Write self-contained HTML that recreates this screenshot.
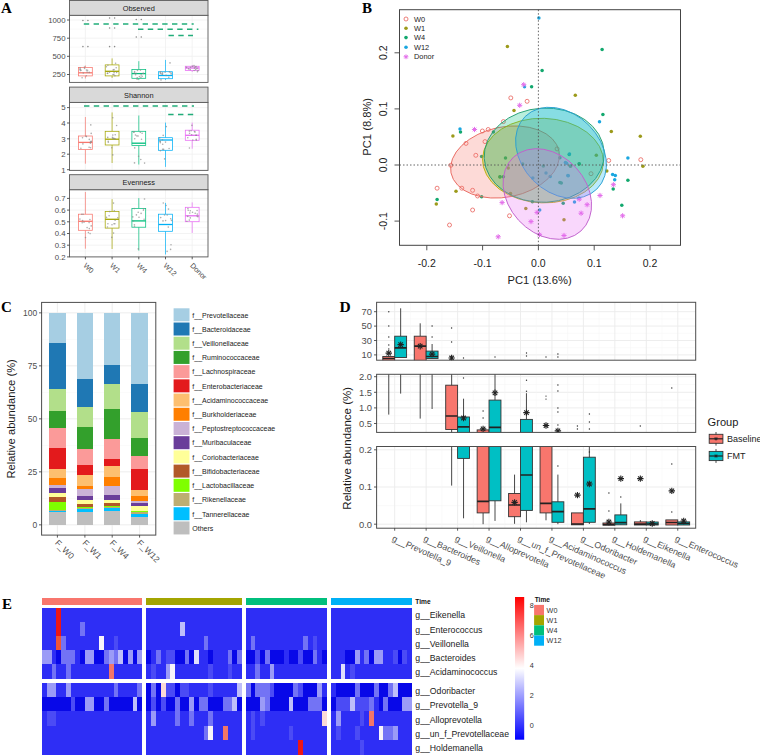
<!DOCTYPE html>
<html><head><meta charset="utf-8"><title>Figure</title>
<style>html,body{margin:0;padding:0;background:#fff;} svg{display:block;}</style>
</head><body>
<svg width="760" height="756" viewBox="0 0 760 756">
<rect x="0" y="0" width="760" height="756" fill="#ffffff"/>
<text x="1.00" y="12.60" font-size="15" fill="#000" text-anchor="start" font-weight="bold" font-family='"Liberation Serif", serif'>A</text>
<text x="362.00" y="12.60" font-size="15" fill="#000" text-anchor="start" font-weight="bold" font-family='"Liberation Serif", serif'>B</text>
<text x="1.00" y="312.00" font-size="15" fill="#000" text-anchor="start" font-weight="bold" font-family='"Liberation Serif", serif'>C</text>
<text x="339.50" y="312.00" font-size="15.5" fill="#000" text-anchor="start" font-weight="bold" font-family='"Liberation Serif", serif'>D</text>
<text x="2.00" y="608.60" font-size="15" fill="#000" text-anchor="start" font-weight="bold" font-family='"Liberation Serif", serif'>E</text>
<rect x="69.50" y="15.30" width="138.50" height="67.10" fill="#ffffff" stroke="none" stroke-width="1"/>
<line x1="69.50" y1="47.20" x2="208.00" y2="47.20" stroke="#f2f2f2" stroke-width="0.5"/>
<line x1="69.50" y1="29.10" x2="208.00" y2="29.10" stroke="#f2f2f2" stroke-width="0.5"/>
<line x1="69.50" y1="65.40" x2="208.00" y2="65.40" stroke="#f2f2f2" stroke-width="0.5"/>
<line x1="69.50" y1="74.50" x2="208.00" y2="74.50" stroke="#f0f0f0" stroke-width="0.8"/>
<line x1="69.50" y1="56.30" x2="208.00" y2="56.30" stroke="#f0f0f0" stroke-width="0.8"/>
<line x1="69.50" y1="38.20" x2="208.00" y2="38.20" stroke="#f0f0f0" stroke-width="0.8"/>
<line x1="69.50" y1="20.00" x2="208.00" y2="20.00" stroke="#f0f0f0" stroke-width="0.8"/>
<line x1="85.40" y1="15.30" x2="85.40" y2="82.40" stroke="#f0f0f0" stroke-width="0.8"/>
<line x1="112.10" y1="15.30" x2="112.10" y2="82.40" stroke="#f0f0f0" stroke-width="0.8"/>
<line x1="138.80" y1="15.30" x2="138.80" y2="82.40" stroke="#f0f0f0" stroke-width="0.8"/>
<line x1="165.50" y1="15.30" x2="165.50" y2="82.40" stroke="#f0f0f0" stroke-width="0.8"/>
<line x1="192.20" y1="15.30" x2="192.20" y2="82.40" stroke="#f0f0f0" stroke-width="0.8"/>
<line x1="85.40" y1="65.50" x2="85.40" y2="67.60" stroke="#F8766D" stroke-width="0.7"/>
<line x1="85.40" y1="75.90" x2="85.40" y2="78.50" stroke="#F8766D" stroke-width="0.7"/>
<rect x="78.50" y="67.60" width="13.80" height="8.30" fill="#ffffff" stroke="#F8766D" stroke-width="0.75"/>
<line x1="78.50" y1="72.80" x2="92.30" y2="72.80" stroke="#F8766D" stroke-width="1.3"/>
<circle cx="83.3" cy="73.0" r="0.8" fill="#8a8a8a" opacity="0.7"/>
<circle cx="80.3" cy="70.6" r="0.8" fill="#8a8a8a" opacity="0.7"/>
<circle cx="80.1" cy="67.9" r="0.8" fill="#8a8a8a" opacity="0.7"/>
<circle cx="84.6" cy="68.4" r="0.8" fill="#8a8a8a" opacity="0.7"/>
<circle cx="84.5" cy="67.1" r="0.8" fill="#8a8a8a" opacity="0.7"/>
<circle cx="82.1" cy="77.8" r="0.8" fill="#8a8a8a" opacity="0.7"/>
<circle cx="86.3" cy="75.7" r="0.8" fill="#8a8a8a" opacity="0.7"/>
<circle cx="80.0" cy="69.3" r="0.8" fill="#8a8a8a" opacity="0.7"/>
<circle cx="81.1" cy="70.2" r="0.8" fill="#8a8a8a" opacity="0.7"/>
<circle cx="89.2" cy="72.4" r="0.8" fill="#8a8a8a" opacity="0.7"/>
<circle cx="87.1" cy="72.1" r="0.8" fill="#8a8a8a" opacity="0.7"/>
<circle cx="80.2" cy="69.3" r="0.8" fill="#8a8a8a" opacity="0.7"/>
<circle cx="87.6" cy="70.2" r="0.8" fill="#8a8a8a" opacity="0.7"/>
<circle cx="86.4" cy="70.1" r="0.8" fill="#8a8a8a" opacity="0.7"/>
<line x1="112.10" y1="58.40" x2="112.10" y2="64.90" stroke="#A3A500" stroke-width="0.7"/>
<line x1="112.10" y1="75.90" x2="112.10" y2="78.00" stroke="#A3A500" stroke-width="0.7"/>
<rect x="105.20" y="64.90" width="13.80" height="11.00" fill="#ffffff" stroke="#A3A500" stroke-width="0.75"/>
<line x1="105.20" y1="71.30" x2="119.00" y2="71.30" stroke="#A3A500" stroke-width="1.3"/>
<circle cx="115.6" cy="63.2" r="0.8" fill="#8a8a8a" opacity="0.7"/>
<circle cx="113.0" cy="74.5" r="0.8" fill="#8a8a8a" opacity="0.7"/>
<circle cx="114.9" cy="75.7" r="0.8" fill="#8a8a8a" opacity="0.7"/>
<circle cx="107.5" cy="73.2" r="0.8" fill="#8a8a8a" opacity="0.7"/>
<circle cx="107.9" cy="65.3" r="0.8" fill="#8a8a8a" opacity="0.7"/>
<circle cx="114.1" cy="69.6" r="0.8" fill="#8a8a8a" opacity="0.7"/>
<circle cx="116.6" cy="72.5" r="0.8" fill="#8a8a8a" opacity="0.7"/>
<circle cx="113.2" cy="69.9" r="0.8" fill="#8a8a8a" opacity="0.7"/>
<circle cx="116.2" cy="67.7" r="0.8" fill="#8a8a8a" opacity="0.7"/>
<circle cx="114.1" cy="72.6" r="0.8" fill="#8a8a8a" opacity="0.7"/>
<circle cx="113.9" cy="74.5" r="0.8" fill="#8a8a8a" opacity="0.7"/>
<circle cx="109.5" cy="72.3" r="0.8" fill="#8a8a8a" opacity="0.7"/>
<circle cx="106.4" cy="66.7" r="0.8" fill="#8a8a8a" opacity="0.7"/>
<circle cx="107.5" cy="73.4" r="0.8" fill="#8a8a8a" opacity="0.7"/>
<line x1="138.80" y1="61.20" x2="138.80" y2="69.50" stroke="#00BF7D" stroke-width="0.7"/>
<line x1="138.80" y1="78.30" x2="138.80" y2="80.00" stroke="#00BF7D" stroke-width="0.7"/>
<rect x="131.90" y="69.50" width="13.80" height="8.80" fill="#ffffff" stroke="#00BF7D" stroke-width="0.75"/>
<line x1="131.90" y1="73.60" x2="145.70" y2="73.60" stroke="#00BF7D" stroke-width="1.3"/>
<circle cx="134.4" cy="72.9" r="0.8" fill="#8a8a8a" opacity="0.7"/>
<circle cx="143.3" cy="73.5" r="0.8" fill="#8a8a8a" opacity="0.7"/>
<circle cx="139.4" cy="76.6" r="0.8" fill="#8a8a8a" opacity="0.7"/>
<circle cx="143.2" cy="73.2" r="0.8" fill="#8a8a8a" opacity="0.7"/>
<circle cx="137.1" cy="79.2" r="0.8" fill="#8a8a8a" opacity="0.7"/>
<circle cx="134.6" cy="71.5" r="0.8" fill="#8a8a8a" opacity="0.7"/>
<circle cx="135.6" cy="74.7" r="0.8" fill="#8a8a8a" opacity="0.7"/>
<circle cx="136.0" cy="73.2" r="0.8" fill="#8a8a8a" opacity="0.7"/>
<circle cx="137.2" cy="77.9" r="0.8" fill="#8a8a8a" opacity="0.7"/>
<circle cx="141.1" cy="74.9" r="0.8" fill="#8a8a8a" opacity="0.7"/>
<circle cx="140.9" cy="77.4" r="0.8" fill="#8a8a8a" opacity="0.7"/>
<circle cx="142.2" cy="76.2" r="0.8" fill="#8a8a8a" opacity="0.7"/>
<circle cx="137.5" cy="70.4" r="0.8" fill="#8a8a8a" opacity="0.7"/>
<circle cx="140.4" cy="70.1" r="0.8" fill="#8a8a8a" opacity="0.7"/>
<line x1="165.50" y1="59.90" x2="165.50" y2="71.70" stroke="#00B0F6" stroke-width="0.7"/>
<line x1="165.50" y1="78.70" x2="165.50" y2="80.00" stroke="#00B0F6" stroke-width="0.7"/>
<rect x="158.60" y="71.70" width="13.80" height="7.00" fill="#ffffff" stroke="#00B0F6" stroke-width="0.75"/>
<line x1="158.60" y1="75.50" x2="172.40" y2="75.50" stroke="#00B0F6" stroke-width="1.3"/>
<circle cx="162.0" cy="74.1" r="0.8" fill="#8a8a8a" opacity="0.7"/>
<circle cx="160.1" cy="72.8" r="0.8" fill="#8a8a8a" opacity="0.7"/>
<circle cx="160.7" cy="71.9" r="0.8" fill="#8a8a8a" opacity="0.7"/>
<circle cx="170.0" cy="62.9" r="0.8" fill="#8a8a8a" opacity="0.7"/>
<circle cx="162.5" cy="74.2" r="0.8" fill="#8a8a8a" opacity="0.7"/>
<circle cx="161.0" cy="79.9" r="0.8" fill="#8a8a8a" opacity="0.7"/>
<circle cx="165.1" cy="72.3" r="0.8" fill="#8a8a8a" opacity="0.7"/>
<circle cx="160.7" cy="73.6" r="0.8" fill="#8a8a8a" opacity="0.7"/>
<circle cx="169.4" cy="71.9" r="0.8" fill="#8a8a8a" opacity="0.7"/>
<circle cx="170.9" cy="72.7" r="0.8" fill="#8a8a8a" opacity="0.7"/>
<circle cx="166.0" cy="75.4" r="0.8" fill="#8a8a8a" opacity="0.7"/>
<circle cx="171.2" cy="73.9" r="0.8" fill="#8a8a8a" opacity="0.7"/>
<circle cx="162.6" cy="72.9" r="0.8" fill="#8a8a8a" opacity="0.7"/>
<circle cx="168.8" cy="77.2" r="0.8" fill="#8a8a8a" opacity="0.7"/>
<line x1="192.20" y1="65.00" x2="192.20" y2="66.30" stroke="#E76BF3" stroke-width="0.7"/>
<line x1="192.20" y1="70.40" x2="192.20" y2="72.00" stroke="#E76BF3" stroke-width="0.7"/>
<rect x="185.30" y="66.30" width="13.80" height="4.10" fill="#ffffff" stroke="#E76BF3" stroke-width="0.75"/>
<line x1="185.30" y1="68.00" x2="199.10" y2="68.00" stroke="#E76BF3" stroke-width="1.3"/>
<circle cx="190.2" cy="69.6" r="0.8" fill="#8a8a8a" opacity="0.7"/>
<circle cx="198.0" cy="70.6" r="0.8" fill="#8a8a8a" opacity="0.7"/>
<circle cx="196.0" cy="66.6" r="0.8" fill="#8a8a8a" opacity="0.7"/>
<circle cx="192.4" cy="66.4" r="0.8" fill="#8a8a8a" opacity="0.7"/>
<circle cx="186.5" cy="67.4" r="0.8" fill="#8a8a8a" opacity="0.7"/>
<circle cx="194.5" cy="68.1" r="0.8" fill="#8a8a8a" opacity="0.7"/>
<circle cx="197.4" cy="71.7" r="0.8" fill="#8a8a8a" opacity="0.7"/>
<circle cx="190.6" cy="67.2" r="0.8" fill="#8a8a8a" opacity="0.7"/>
<circle cx="188.6" cy="68.9" r="0.8" fill="#8a8a8a" opacity="0.7"/>
<circle cx="197.0" cy="68.4" r="0.8" fill="#8a8a8a" opacity="0.7"/>
<circle cx="194.0" cy="65.6" r="0.8" fill="#8a8a8a" opacity="0.7"/>
<circle cx="194.1" cy="70.5" r="0.8" fill="#8a8a8a" opacity="0.7"/>
<circle cx="195.2" cy="67.0" r="0.8" fill="#8a8a8a" opacity="0.7"/>
<circle cx="195.7" cy="69.6" r="0.8" fill="#8a8a8a" opacity="0.7"/>
<circle cx="82.9" cy="20.5" r="0.8" fill="#8a8a8a"/>
<circle cx="87.9" cy="20.5" r="0.8" fill="#8a8a8a"/>
<circle cx="82.9" cy="46.6" r="0.8" fill="#8a8a8a"/>
<circle cx="87.9" cy="46.6" r="0.8" fill="#8a8a8a"/>
<circle cx="109.6" cy="18.0" r="0.8" fill="#8a8a8a"/>
<circle cx="114.6" cy="18.0" r="0.8" fill="#8a8a8a"/>
<circle cx="109.6" cy="28.0" r="0.8" fill="#8a8a8a"/>
<circle cx="114.6" cy="28.0" r="0.8" fill="#8a8a8a"/>
<circle cx="109.6" cy="46.6" r="0.8" fill="#8a8a8a"/>
<circle cx="114.6" cy="46.6" r="0.8" fill="#8a8a8a"/>
<circle cx="136.3" cy="19.5" r="0.8" fill="#8a8a8a"/>
<circle cx="141.3" cy="19.5" r="0.8" fill="#8a8a8a"/>
<circle cx="136.3" cy="37.0" r="0.8" fill="#8a8a8a"/>
<circle cx="141.3" cy="37.0" r="0.8" fill="#8a8a8a"/>
<line x1="83.80" y1="24.00" x2="193.70" y2="24.00" stroke="#22ad7a" stroke-width="1.45" stroke-dasharray="5.4 4.4"/>
<line x1="138.00" y1="29.30" x2="198.40" y2="29.30" stroke="#22ad7a" stroke-width="1.45" stroke-dasharray="5.4 4.4"/>
<line x1="168.50" y1="35.40" x2="193.00" y2="35.40" stroke="#22ad7a" stroke-width="1.45" stroke-dasharray="5.4 4.4"/>
<rect x="69.50" y="15.30" width="138.50" height="67.10" fill="none" stroke="#5a5a5a" stroke-width="0.9"/>
<rect x="69.50" y="0.50" width="138.50" height="14.80" fill="#d9d9d9" stroke="#5a5a5a" stroke-width="0.9"/>
<text x="138.75" y="10.70" font-size="7.4" fill="#1a1a1a" text-anchor="middle" font-weight="normal" font-family='"Liberation Sans", sans-serif'>Observed</text>
<line x1="67.00" y1="74.50" x2="69.50" y2="74.50" stroke="#333" stroke-width="0.8"/>
<text x="65.50" y="77.30" font-size="7.8" fill="#4d4d4d" text-anchor="end" font-weight="normal" font-family='"Liberation Sans", sans-serif'>250</text>
<line x1="67.00" y1="56.30" x2="69.50" y2="56.30" stroke="#333" stroke-width="0.8"/>
<text x="65.50" y="59.10" font-size="7.8" fill="#4d4d4d" text-anchor="end" font-weight="normal" font-family='"Liberation Sans", sans-serif'>500</text>
<line x1="67.00" y1="38.20" x2="69.50" y2="38.20" stroke="#333" stroke-width="0.8"/>
<text x="65.50" y="41.00" font-size="7.8" fill="#4d4d4d" text-anchor="end" font-weight="normal" font-family='"Liberation Sans", sans-serif'>750</text>
<line x1="67.00" y1="20.00" x2="69.50" y2="20.00" stroke="#333" stroke-width="0.8"/>
<text x="65.50" y="22.80" font-size="7.8" fill="#4d4d4d" text-anchor="end" font-weight="normal" font-family='"Liberation Sans", sans-serif'>1000</text>
<rect x="69.50" y="102.40" width="138.50" height="68.00" fill="#ffffff" stroke="none" stroke-width="1"/>
<line x1="69.50" y1="161.90" x2="208.00" y2="161.90" stroke="#f2f2f2" stroke-width="0.5"/>
<line x1="69.50" y1="146.50" x2="208.00" y2="146.50" stroke="#f2f2f2" stroke-width="0.5"/>
<line x1="69.50" y1="130.90" x2="208.00" y2="130.90" stroke="#f2f2f2" stroke-width="0.5"/>
<line x1="69.50" y1="115.30" x2="208.00" y2="115.30" stroke="#f2f2f2" stroke-width="0.5"/>
<line x1="69.50" y1="169.70" x2="208.00" y2="169.70" stroke="#f0f0f0" stroke-width="0.8"/>
<line x1="69.50" y1="154.20" x2="208.00" y2="154.20" stroke="#f0f0f0" stroke-width="0.8"/>
<line x1="69.50" y1="138.80" x2="208.00" y2="138.80" stroke="#f0f0f0" stroke-width="0.8"/>
<line x1="69.50" y1="123.00" x2="208.00" y2="123.00" stroke="#f0f0f0" stroke-width="0.8"/>
<line x1="69.50" y1="107.60" x2="208.00" y2="107.60" stroke="#f0f0f0" stroke-width="0.8"/>
<line x1="85.40" y1="102.40" x2="85.40" y2="170.40" stroke="#f0f0f0" stroke-width="0.8"/>
<line x1="112.10" y1="102.40" x2="112.10" y2="170.40" stroke="#f0f0f0" stroke-width="0.8"/>
<line x1="138.80" y1="102.40" x2="138.80" y2="170.40" stroke="#f0f0f0" stroke-width="0.8"/>
<line x1="165.50" y1="102.40" x2="165.50" y2="170.40" stroke="#f0f0f0" stroke-width="0.8"/>
<line x1="192.20" y1="102.40" x2="192.20" y2="170.40" stroke="#f0f0f0" stroke-width="0.8"/>
<line x1="85.40" y1="117.00" x2="85.40" y2="136.00" stroke="#F8766D" stroke-width="0.7"/>
<line x1="85.40" y1="149.50" x2="85.40" y2="163.70" stroke="#F8766D" stroke-width="0.7"/>
<rect x="78.50" y="136.00" width="13.80" height="13.50" fill="#ffffff" stroke="#F8766D" stroke-width="0.75"/>
<line x1="78.50" y1="142.40" x2="92.30" y2="142.40" stroke="#F8766D" stroke-width="1.3"/>
<circle cx="91.1" cy="141.4" r="0.8" fill="#8a8a8a" opacity="0.7"/>
<circle cx="90.8" cy="124.9" r="0.8" fill="#8a8a8a" opacity="0.7"/>
<circle cx="80.9" cy="148.2" r="0.8" fill="#8a8a8a" opacity="0.7"/>
<circle cx="89.1" cy="147.2" r="0.8" fill="#8a8a8a" opacity="0.7"/>
<circle cx="91.2" cy="133.4" r="0.8" fill="#8a8a8a" opacity="0.7"/>
<circle cx="86.0" cy="136.2" r="0.8" fill="#8a8a8a" opacity="0.7"/>
<circle cx="91.1" cy="141.6" r="0.8" fill="#8a8a8a" opacity="0.7"/>
<circle cx="90.6" cy="147.8" r="0.8" fill="#8a8a8a" opacity="0.7"/>
<circle cx="89.3" cy="139.4" r="0.8" fill="#8a8a8a" opacity="0.7"/>
<circle cx="82.9" cy="143.9" r="0.8" fill="#8a8a8a" opacity="0.7"/>
<circle cx="82.5" cy="137.8" r="0.8" fill="#8a8a8a" opacity="0.7"/>
<circle cx="90.3" cy="142.2" r="0.8" fill="#8a8a8a" opacity="0.7"/>
<circle cx="86.4" cy="136.6" r="0.8" fill="#8a8a8a" opacity="0.7"/>
<circle cx="90.4" cy="143.2" r="0.8" fill="#8a8a8a" opacity="0.7"/>
<line x1="112.10" y1="112.40" x2="112.10" y2="131.30" stroke="#A3A500" stroke-width="0.7"/>
<line x1="112.10" y1="145.00" x2="112.10" y2="163.00" stroke="#A3A500" stroke-width="0.7"/>
<rect x="105.20" y="131.30" width="13.80" height="13.70" fill="#ffffff" stroke="#A3A500" stroke-width="0.75"/>
<line x1="105.20" y1="139.20" x2="119.00" y2="139.20" stroke="#A3A500" stroke-width="1.3"/>
<circle cx="112.4" cy="137.3" r="0.8" fill="#8a8a8a" opacity="0.7"/>
<circle cx="108.3" cy="142.2" r="0.8" fill="#8a8a8a" opacity="0.7"/>
<circle cx="108.2" cy="141.2" r="0.8" fill="#8a8a8a" opacity="0.7"/>
<circle cx="112.8" cy="138.4" r="0.8" fill="#8a8a8a" opacity="0.7"/>
<circle cx="112.8" cy="117.8" r="0.8" fill="#8a8a8a" opacity="0.7"/>
<circle cx="112.8" cy="135.1" r="0.8" fill="#8a8a8a" opacity="0.7"/>
<circle cx="115.4" cy="139.0" r="0.8" fill="#8a8a8a" opacity="0.7"/>
<circle cx="115.2" cy="134.8" r="0.8" fill="#8a8a8a" opacity="0.7"/>
<circle cx="113.5" cy="138.3" r="0.8" fill="#8a8a8a" opacity="0.7"/>
<circle cx="114.4" cy="138.6" r="0.8" fill="#8a8a8a" opacity="0.7"/>
<circle cx="111.8" cy="147.8" r="0.8" fill="#8a8a8a" opacity="0.7"/>
<circle cx="116.6" cy="125.5" r="0.8" fill="#8a8a8a" opacity="0.7"/>
<circle cx="112.8" cy="154.9" r="0.8" fill="#8a8a8a" opacity="0.7"/>
<circle cx="107.7" cy="137.4" r="0.8" fill="#8a8a8a" opacity="0.7"/>
<line x1="138.80" y1="115.50" x2="138.80" y2="131.30" stroke="#00BF7D" stroke-width="0.7"/>
<line x1="138.80" y1="145.60" x2="138.80" y2="164.50" stroke="#00BF7D" stroke-width="0.7"/>
<rect x="131.90" y="131.30" width="13.80" height="14.30" fill="#ffffff" stroke="#00BF7D" stroke-width="0.75"/>
<line x1="131.90" y1="143.20" x2="145.70" y2="143.20" stroke="#00BF7D" stroke-width="1.3"/>
<circle cx="133.7" cy="132.3" r="0.8" fill="#8a8a8a" opacity="0.7"/>
<circle cx="140.8" cy="159.5" r="0.8" fill="#8a8a8a" opacity="0.7"/>
<circle cx="134.7" cy="147.9" r="0.8" fill="#8a8a8a" opacity="0.7"/>
<circle cx="134.5" cy="162.9" r="0.8" fill="#8a8a8a" opacity="0.7"/>
<circle cx="135.4" cy="135.0" r="0.8" fill="#8a8a8a" opacity="0.7"/>
<circle cx="138.6" cy="156.3" r="0.8" fill="#8a8a8a" opacity="0.7"/>
<circle cx="134.7" cy="138.7" r="0.8" fill="#8a8a8a" opacity="0.7"/>
<circle cx="136.9" cy="135.9" r="0.8" fill="#8a8a8a" opacity="0.7"/>
<circle cx="141.5" cy="139.2" r="0.8" fill="#8a8a8a" opacity="0.7"/>
<circle cx="138.1" cy="136.0" r="0.8" fill="#8a8a8a" opacity="0.7"/>
<circle cx="140.3" cy="132.2" r="0.8" fill="#8a8a8a" opacity="0.7"/>
<circle cx="144.6" cy="163.1" r="0.8" fill="#8a8a8a" opacity="0.7"/>
<circle cx="134.1" cy="131.9" r="0.8" fill="#8a8a8a" opacity="0.7"/>
<circle cx="142.1" cy="133.2" r="0.8" fill="#8a8a8a" opacity="0.7"/>
<line x1="165.50" y1="122.60" x2="165.50" y2="137.70" stroke="#00B0F6" stroke-width="0.7"/>
<line x1="165.50" y1="150.30" x2="165.50" y2="166.90" stroke="#00B0F6" stroke-width="0.7"/>
<rect x="158.60" y="137.70" width="13.80" height="12.60" fill="#ffffff" stroke="#00B0F6" stroke-width="0.75"/>
<line x1="158.60" y1="140.00" x2="172.40" y2="140.00" stroke="#00B0F6" stroke-width="1.3"/>
<circle cx="164.6" cy="158.9" r="0.8" fill="#8a8a8a" opacity="0.7"/>
<circle cx="162.6" cy="149.3" r="0.8" fill="#8a8a8a" opacity="0.7"/>
<circle cx="166.3" cy="126.6" r="0.8" fill="#8a8a8a" opacity="0.7"/>
<circle cx="160.2" cy="141.4" r="0.8" fill="#8a8a8a" opacity="0.7"/>
<circle cx="160.4" cy="150.7" r="0.8" fill="#8a8a8a" opacity="0.7"/>
<circle cx="169.1" cy="148.5" r="0.8" fill="#8a8a8a" opacity="0.7"/>
<circle cx="160.3" cy="142.7" r="0.8" fill="#8a8a8a" opacity="0.7"/>
<circle cx="163.6" cy="149.4" r="0.8" fill="#8a8a8a" opacity="0.7"/>
<circle cx="162.7" cy="144.3" r="0.8" fill="#8a8a8a" opacity="0.7"/>
<circle cx="162.4" cy="139.7" r="0.8" fill="#8a8a8a" opacity="0.7"/>
<circle cx="160.1" cy="141.6" r="0.8" fill="#8a8a8a" opacity="0.7"/>
<circle cx="163.2" cy="135.4" r="0.8" fill="#8a8a8a" opacity="0.7"/>
<circle cx="165.5" cy="142.1" r="0.8" fill="#8a8a8a" opacity="0.7"/>
<circle cx="159.7" cy="137.9" r="0.8" fill="#8a8a8a" opacity="0.7"/>
<line x1="192.20" y1="122.60" x2="192.20" y2="130.20" stroke="#E76BF3" stroke-width="0.7"/>
<line x1="192.20" y1="140.30" x2="192.20" y2="148.70" stroke="#E76BF3" stroke-width="0.7"/>
<rect x="185.30" y="130.20" width="13.80" height="10.10" fill="#ffffff" stroke="#E76BF3" stroke-width="0.75"/>
<line x1="185.30" y1="135.30" x2="199.10" y2="135.30" stroke="#E76BF3" stroke-width="1.3"/>
<circle cx="195.0" cy="132.1" r="0.8" fill="#8a8a8a" opacity="0.7"/>
<circle cx="191.9" cy="125.4" r="0.8" fill="#8a8a8a" opacity="0.7"/>
<circle cx="196.0" cy="135.2" r="0.8" fill="#8a8a8a" opacity="0.7"/>
<circle cx="196.2" cy="135.3" r="0.8" fill="#8a8a8a" opacity="0.7"/>
<circle cx="194.5" cy="131.5" r="0.8" fill="#8a8a8a" opacity="0.7"/>
<circle cx="196.2" cy="139.2" r="0.8" fill="#8a8a8a" opacity="0.7"/>
<circle cx="191.1" cy="130.7" r="0.8" fill="#8a8a8a" opacity="0.7"/>
<circle cx="187.8" cy="137.7" r="0.8" fill="#8a8a8a" opacity="0.7"/>
<circle cx="189.3" cy="131.1" r="0.8" fill="#8a8a8a" opacity="0.7"/>
<circle cx="196.3" cy="140.1" r="0.8" fill="#8a8a8a" opacity="0.7"/>
<circle cx="189.6" cy="133.2" r="0.8" fill="#8a8a8a" opacity="0.7"/>
<circle cx="191.7" cy="134.7" r="0.8" fill="#8a8a8a" opacity="0.7"/>
<circle cx="189.4" cy="148.0" r="0.8" fill="#8a8a8a" opacity="0.7"/>
<circle cx="192.8" cy="140.0" r="0.8" fill="#8a8a8a" opacity="0.7"/>
<line x1="84.00" y1="106.00" x2="194.00" y2="106.00" stroke="#22ad7a" stroke-width="1.45" stroke-dasharray="5.4 4.4"/>
<line x1="168.20" y1="114.40" x2="193.50" y2="114.40" stroke="#22ad7a" stroke-width="1.45" stroke-dasharray="5.4 4.4"/>
<rect x="69.50" y="102.40" width="138.50" height="68.00" fill="none" stroke="#5a5a5a" stroke-width="0.9"/>
<rect x="69.50" y="87.10" width="138.50" height="15.30" fill="#d9d9d9" stroke="#5a5a5a" stroke-width="0.9"/>
<text x="138.75" y="97.55" font-size="7.4" fill="#1a1a1a" text-anchor="middle" font-weight="normal" font-family='"Liberation Sans", sans-serif'>Shannon</text>
<line x1="67.00" y1="169.70" x2="69.50" y2="169.70" stroke="#333" stroke-width="0.8"/>
<text x="65.50" y="172.50" font-size="7.8" fill="#4d4d4d" text-anchor="end" font-weight="normal" font-family='"Liberation Sans", sans-serif'>1</text>
<line x1="67.00" y1="154.20" x2="69.50" y2="154.20" stroke="#333" stroke-width="0.8"/>
<text x="65.50" y="157.00" font-size="7.8" fill="#4d4d4d" text-anchor="end" font-weight="normal" font-family='"Liberation Sans", sans-serif'>2</text>
<line x1="67.00" y1="138.80" x2="69.50" y2="138.80" stroke="#333" stroke-width="0.8"/>
<text x="65.50" y="141.60" font-size="7.8" fill="#4d4d4d" text-anchor="end" font-weight="normal" font-family='"Liberation Sans", sans-serif'>3</text>
<line x1="67.00" y1="123.00" x2="69.50" y2="123.00" stroke="#333" stroke-width="0.8"/>
<text x="65.50" y="125.80" font-size="7.8" fill="#4d4d4d" text-anchor="end" font-weight="normal" font-family='"Liberation Sans", sans-serif'>4</text>
<line x1="67.00" y1="107.60" x2="69.50" y2="107.60" stroke="#333" stroke-width="0.8"/>
<text x="65.50" y="110.40" font-size="7.8" fill="#4d4d4d" text-anchor="end" font-weight="normal" font-family='"Liberation Sans", sans-serif'>5</text>
<rect x="69.50" y="189.70" width="138.50" height="67.20" fill="#ffffff" stroke="none" stroke-width="1"/>
<line x1="69.50" y1="251.00" x2="208.00" y2="251.00" stroke="#f2f2f2" stroke-width="0.5"/>
<line x1="69.50" y1="239.30" x2="208.00" y2="239.30" stroke="#f2f2f2" stroke-width="0.5"/>
<line x1="69.50" y1="227.60" x2="208.00" y2="227.60" stroke="#f2f2f2" stroke-width="0.5"/>
<line x1="69.50" y1="215.90" x2="208.00" y2="215.90" stroke="#f2f2f2" stroke-width="0.5"/>
<line x1="69.50" y1="204.20" x2="208.00" y2="204.20" stroke="#f2f2f2" stroke-width="0.5"/>
<line x1="69.50" y1="256.90" x2="208.00" y2="256.90" stroke="#f0f0f0" stroke-width="0.8"/>
<line x1="69.50" y1="245.20" x2="208.00" y2="245.20" stroke="#f0f0f0" stroke-width="0.8"/>
<line x1="69.50" y1="233.50" x2="208.00" y2="233.50" stroke="#f0f0f0" stroke-width="0.8"/>
<line x1="69.50" y1="221.80" x2="208.00" y2="221.80" stroke="#f0f0f0" stroke-width="0.8"/>
<line x1="69.50" y1="210.10" x2="208.00" y2="210.10" stroke="#f0f0f0" stroke-width="0.8"/>
<line x1="69.50" y1="198.40" x2="208.00" y2="198.40" stroke="#f0f0f0" stroke-width="0.8"/>
<line x1="85.40" y1="189.70" x2="85.40" y2="256.90" stroke="#f0f0f0" stroke-width="0.8"/>
<line x1="112.10" y1="189.70" x2="112.10" y2="256.90" stroke="#f0f0f0" stroke-width="0.8"/>
<line x1="138.80" y1="189.70" x2="138.80" y2="256.90" stroke="#f0f0f0" stroke-width="0.8"/>
<line x1="165.50" y1="189.70" x2="165.50" y2="256.90" stroke="#f0f0f0" stroke-width="0.8"/>
<line x1="192.20" y1="189.70" x2="192.20" y2="256.90" stroke="#f0f0f0" stroke-width="0.8"/>
<line x1="85.40" y1="192.00" x2="85.40" y2="214.20" stroke="#F8766D" stroke-width="0.7"/>
<line x1="85.40" y1="230.30" x2="85.40" y2="248.70" stroke="#F8766D" stroke-width="0.7"/>
<rect x="78.50" y="214.20" width="13.80" height="16.10" fill="#ffffff" stroke="#F8766D" stroke-width="0.75"/>
<line x1="78.50" y1="221.30" x2="92.30" y2="221.30" stroke="#F8766D" stroke-width="1.3"/>
<circle cx="83.1" cy="214.2" r="0.8" fill="#8a8a8a" opacity="0.7"/>
<circle cx="84.0" cy="222.3" r="0.8" fill="#8a8a8a" opacity="0.7"/>
<circle cx="81.8" cy="214.3" r="0.8" fill="#8a8a8a" opacity="0.7"/>
<circle cx="82.6" cy="220.6" r="0.8" fill="#8a8a8a" opacity="0.7"/>
<circle cx="79.9" cy="219.1" r="0.8" fill="#8a8a8a" opacity="0.7"/>
<circle cx="82.2" cy="222.7" r="0.8" fill="#8a8a8a" opacity="0.7"/>
<circle cx="88.4" cy="232.6" r="0.8" fill="#8a8a8a" opacity="0.7"/>
<circle cx="89.9" cy="219.5" r="0.8" fill="#8a8a8a" opacity="0.7"/>
<circle cx="91.2" cy="225.9" r="0.8" fill="#8a8a8a" opacity="0.7"/>
<circle cx="87.1" cy="227.6" r="0.8" fill="#8a8a8a" opacity="0.7"/>
<circle cx="90.1" cy="233.6" r="0.8" fill="#8a8a8a" opacity="0.7"/>
<circle cx="89.1" cy="222.6" r="0.8" fill="#8a8a8a" opacity="0.7"/>
<circle cx="85.5" cy="237.6" r="0.8" fill="#8a8a8a" opacity="0.7"/>
<circle cx="89.3" cy="228.6" r="0.8" fill="#8a8a8a" opacity="0.7"/>
<line x1="112.10" y1="199.20" x2="112.10" y2="211.40" stroke="#A3A500" stroke-width="0.7"/>
<line x1="112.10" y1="228.10" x2="112.10" y2="249.00" stroke="#A3A500" stroke-width="0.7"/>
<rect x="105.20" y="211.40" width="13.80" height="16.70" fill="#ffffff" stroke="#A3A500" stroke-width="0.75"/>
<line x1="105.20" y1="219.30" x2="119.00" y2="219.30" stroke="#A3A500" stroke-width="1.3"/>
<circle cx="114.3" cy="210.7" r="0.8" fill="#8a8a8a" opacity="0.7"/>
<circle cx="106.5" cy="217.4" r="0.8" fill="#8a8a8a" opacity="0.7"/>
<circle cx="107.4" cy="227.0" r="0.8" fill="#8a8a8a" opacity="0.7"/>
<circle cx="113.6" cy="233.1" r="0.8" fill="#8a8a8a" opacity="0.7"/>
<circle cx="112.0" cy="224.7" r="0.8" fill="#8a8a8a" opacity="0.7"/>
<circle cx="115.1" cy="220.3" r="0.8" fill="#8a8a8a" opacity="0.7"/>
<circle cx="114.0" cy="223.7" r="0.8" fill="#8a8a8a" opacity="0.7"/>
<circle cx="109.1" cy="215.8" r="0.8" fill="#8a8a8a" opacity="0.7"/>
<circle cx="114.9" cy="223.8" r="0.8" fill="#8a8a8a" opacity="0.7"/>
<circle cx="117.8" cy="217.8" r="0.8" fill="#8a8a8a" opacity="0.7"/>
<circle cx="111.8" cy="237.4" r="0.8" fill="#8a8a8a" opacity="0.7"/>
<circle cx="113.5" cy="203.1" r="0.8" fill="#8a8a8a" opacity="0.7"/>
<circle cx="107.9" cy="223.8" r="0.8" fill="#8a8a8a" opacity="0.7"/>
<circle cx="109.8" cy="211.6" r="0.8" fill="#8a8a8a" opacity="0.7"/>
<line x1="138.80" y1="198.10" x2="138.80" y2="208.40" stroke="#00BF7D" stroke-width="0.7"/>
<line x1="138.80" y1="227.20" x2="138.80" y2="250.60" stroke="#00BF7D" stroke-width="0.7"/>
<rect x="131.90" y="208.40" width="13.80" height="18.80" fill="#ffffff" stroke="#00BF7D" stroke-width="0.75"/>
<line x1="131.90" y1="220.90" x2="145.70" y2="220.90" stroke="#00BF7D" stroke-width="1.3"/>
<circle cx="133.5" cy="221.0" r="0.8" fill="#8a8a8a" opacity="0.7"/>
<circle cx="141.1" cy="213.4" r="0.8" fill="#8a8a8a" opacity="0.7"/>
<circle cx="139.0" cy="217.2" r="0.8" fill="#8a8a8a" opacity="0.7"/>
<circle cx="134.2" cy="208.6" r="0.8" fill="#8a8a8a" opacity="0.7"/>
<circle cx="144.5" cy="199.0" r="0.8" fill="#8a8a8a" opacity="0.7"/>
<circle cx="138.3" cy="248.9" r="0.8" fill="#8a8a8a" opacity="0.7"/>
<circle cx="138.2" cy="212.3" r="0.8" fill="#8a8a8a" opacity="0.7"/>
<circle cx="144.1" cy="219.3" r="0.8" fill="#8a8a8a" opacity="0.7"/>
<circle cx="134.5" cy="226.3" r="0.8" fill="#8a8a8a" opacity="0.7"/>
<circle cx="134.4" cy="224.8" r="0.8" fill="#8a8a8a" opacity="0.7"/>
<circle cx="143.4" cy="210.2" r="0.8" fill="#8a8a8a" opacity="0.7"/>
<circle cx="143.6" cy="208.9" r="0.8" fill="#8a8a8a" opacity="0.7"/>
<circle cx="132.8" cy="216.9" r="0.8" fill="#8a8a8a" opacity="0.7"/>
<circle cx="136.4" cy="214.9" r="0.8" fill="#8a8a8a" opacity="0.7"/>
<line x1="165.50" y1="202.90" x2="165.50" y2="214.20" stroke="#00B0F6" stroke-width="0.7"/>
<line x1="165.50" y1="231.30" x2="165.50" y2="254.50" stroke="#00B0F6" stroke-width="0.7"/>
<rect x="158.60" y="214.20" width="13.80" height="17.10" fill="#ffffff" stroke="#00B0F6" stroke-width="0.75"/>
<line x1="158.60" y1="224.50" x2="172.40" y2="224.50" stroke="#00B0F6" stroke-width="1.3"/>
<circle cx="163.3" cy="203.0" r="0.8" fill="#8a8a8a" opacity="0.7"/>
<circle cx="168.5" cy="209.1" r="0.8" fill="#8a8a8a" opacity="0.7"/>
<circle cx="170.6" cy="249.4" r="0.8" fill="#8a8a8a" opacity="0.7"/>
<circle cx="163.0" cy="220.9" r="0.8" fill="#8a8a8a" opacity="0.7"/>
<circle cx="171.5" cy="220.4" r="0.8" fill="#8a8a8a" opacity="0.7"/>
<circle cx="164.6" cy="215.0" r="0.8" fill="#8a8a8a" opacity="0.7"/>
<circle cx="160.7" cy="217.6" r="0.8" fill="#8a8a8a" opacity="0.7"/>
<circle cx="170.7" cy="218.7" r="0.8" fill="#8a8a8a" opacity="0.7"/>
<circle cx="165.6" cy="220.6" r="0.8" fill="#8a8a8a" opacity="0.7"/>
<circle cx="171.0" cy="244.8" r="0.8" fill="#8a8a8a" opacity="0.7"/>
<circle cx="167.1" cy="251.4" r="0.8" fill="#8a8a8a" opacity="0.7"/>
<circle cx="166.1" cy="205.5" r="0.8" fill="#8a8a8a" opacity="0.7"/>
<circle cx="168.3" cy="227.1" r="0.8" fill="#8a8a8a" opacity="0.7"/>
<circle cx="167.2" cy="215.0" r="0.8" fill="#8a8a8a" opacity="0.7"/>
<line x1="192.20" y1="202.40" x2="192.20" y2="207.30" stroke="#E76BF3" stroke-width="0.7"/>
<line x1="192.20" y1="221.70" x2="192.20" y2="232.90" stroke="#E76BF3" stroke-width="0.7"/>
<rect x="185.30" y="207.30" width="13.80" height="14.40" fill="#ffffff" stroke="#E76BF3" stroke-width="0.75"/>
<line x1="185.30" y1="215.80" x2="199.10" y2="215.80" stroke="#E76BF3" stroke-width="1.3"/>
<circle cx="197.3" cy="214.1" r="0.8" fill="#8a8a8a" opacity="0.7"/>
<circle cx="190.3" cy="217.9" r="0.8" fill="#8a8a8a" opacity="0.7"/>
<circle cx="197.9" cy="216.7" r="0.8" fill="#8a8a8a" opacity="0.7"/>
<circle cx="189.8" cy="213.0" r="0.8" fill="#8a8a8a" opacity="0.7"/>
<circle cx="188.2" cy="210.3" r="0.8" fill="#8a8a8a" opacity="0.7"/>
<circle cx="197.1" cy="210.5" r="0.8" fill="#8a8a8a" opacity="0.7"/>
<circle cx="197.1" cy="216.1" r="0.8" fill="#8a8a8a" opacity="0.7"/>
<circle cx="187.9" cy="208.6" r="0.8" fill="#8a8a8a" opacity="0.7"/>
<circle cx="190.3" cy="210.7" r="0.8" fill="#8a8a8a" opacity="0.7"/>
<circle cx="189.3" cy="220.1" r="0.8" fill="#8a8a8a" opacity="0.7"/>
<circle cx="195.2" cy="213.3" r="0.8" fill="#8a8a8a" opacity="0.7"/>
<circle cx="192.5" cy="212.2" r="0.8" fill="#8a8a8a" opacity="0.7"/>
<circle cx="186.9" cy="221.2" r="0.8" fill="#8a8a8a" opacity="0.7"/>
<circle cx="187.7" cy="216.4" r="0.8" fill="#8a8a8a" opacity="0.7"/>
<rect x="69.50" y="189.70" width="138.50" height="67.20" fill="none" stroke="#5a5a5a" stroke-width="0.9"/>
<rect x="69.50" y="174.70" width="138.50" height="15.00" fill="#d9d9d9" stroke="#5a5a5a" stroke-width="0.9"/>
<text x="138.75" y="185.00" font-size="7.4" fill="#1a1a1a" text-anchor="middle" font-weight="normal" font-family='"Liberation Sans", sans-serif'>Evenness</text>
<line x1="67.00" y1="256.90" x2="69.50" y2="256.90" stroke="#333" stroke-width="0.8"/>
<text x="65.50" y="259.70" font-size="7.8" fill="#4d4d4d" text-anchor="end" font-weight="normal" font-family='"Liberation Sans", sans-serif'>0.2</text>
<line x1="67.00" y1="245.20" x2="69.50" y2="245.20" stroke="#333" stroke-width="0.8"/>
<text x="65.50" y="248.00" font-size="7.8" fill="#4d4d4d" text-anchor="end" font-weight="normal" font-family='"Liberation Sans", sans-serif'>0.3</text>
<line x1="67.00" y1="233.50" x2="69.50" y2="233.50" stroke="#333" stroke-width="0.8"/>
<text x="65.50" y="236.30" font-size="7.8" fill="#4d4d4d" text-anchor="end" font-weight="normal" font-family='"Liberation Sans", sans-serif'>0.4</text>
<line x1="67.00" y1="221.80" x2="69.50" y2="221.80" stroke="#333" stroke-width="0.8"/>
<text x="65.50" y="224.60" font-size="7.8" fill="#4d4d4d" text-anchor="end" font-weight="normal" font-family='"Liberation Sans", sans-serif'>0.5</text>
<line x1="67.00" y1="210.10" x2="69.50" y2="210.10" stroke="#333" stroke-width="0.8"/>
<text x="65.50" y="212.90" font-size="7.8" fill="#4d4d4d" text-anchor="end" font-weight="normal" font-family='"Liberation Sans", sans-serif'>0.6</text>
<line x1="67.00" y1="198.40" x2="69.50" y2="198.40" stroke="#333" stroke-width="0.8"/>
<text x="65.50" y="201.20" font-size="7.8" fill="#4d4d4d" text-anchor="end" font-weight="normal" font-family='"Liberation Sans", sans-serif'>0.7</text>
<line x1="85.40" y1="256.90" x2="85.40" y2="259.30" stroke="#333" stroke-width="0.8"/>
<text x="82.90" y="266.00" font-size="7.3" fill="#4d4d4d" text-anchor="start" font-weight="normal" font-family='"Liberation Sans", sans-serif' transform="rotate(45 82.90 266.00)">W0</text>
<line x1="112.10" y1="256.90" x2="112.10" y2="259.30" stroke="#333" stroke-width="0.8"/>
<text x="109.60" y="266.00" font-size="7.3" fill="#4d4d4d" text-anchor="start" font-weight="normal" font-family='"Liberation Sans", sans-serif' transform="rotate(45 109.60 266.00)">W1</text>
<line x1="138.80" y1="256.90" x2="138.80" y2="259.30" stroke="#333" stroke-width="0.8"/>
<text x="136.30" y="266.00" font-size="7.3" fill="#4d4d4d" text-anchor="start" font-weight="normal" font-family='"Liberation Sans", sans-serif' transform="rotate(45 136.30 266.00)">W4</text>
<line x1="165.50" y1="256.90" x2="165.50" y2="259.30" stroke="#333" stroke-width="0.8"/>
<text x="163.00" y="266.00" font-size="7.3" fill="#4d4d4d" text-anchor="start" font-weight="normal" font-family='"Liberation Sans", sans-serif' transform="rotate(45 163.00 266.00)">W12</text>
<line x1="192.20" y1="256.90" x2="192.20" y2="259.30" stroke="#333" stroke-width="0.8"/>
<text x="189.70" y="266.00" font-size="7.3" fill="#4d4d4d" text-anchor="start" font-weight="normal" font-family='"Liberation Sans", sans-serif' transform="rotate(45 189.70 266.00)">Donor</text>
<circle cx="510.8" cy="97.9" r="2.0" fill="none" stroke="#E8615A" stroke-width="0.8"/>
<circle cx="527.1" cy="101.3" r="2.0" fill="none" stroke="#E8615A" stroke-width="0.8"/>
<circle cx="482.4" cy="131" r="2.0" fill="none" stroke="#E8615A" stroke-width="0.8"/>
<circle cx="488.2" cy="129.5" r="2.0" fill="none" stroke="#E8615A" stroke-width="0.8"/>
<circle cx="466" cy="143.4" r="2.0" fill="none" stroke="#E8615A" stroke-width="0.8"/>
<circle cx="485" cy="141.6" r="2.0" fill="none" stroke="#E8615A" stroke-width="0.8"/>
<circle cx="503.4" cy="121.6" r="2.0" fill="none" stroke="#E8615A" stroke-width="0.8"/>
<circle cx="475.8" cy="155.3" r="2.0" fill="none" stroke="#E8615A" stroke-width="0.8"/>
<circle cx="450.8" cy="165.3" r="2.0" fill="none" stroke="#E8615A" stroke-width="0.8"/>
<circle cx="437.1" cy="188.2" r="2.0" fill="none" stroke="#E8615A" stroke-width="0.8"/>
<circle cx="461.8" cy="188.2" r="2.0" fill="none" stroke="#E8615A" stroke-width="0.8"/>
<circle cx="472.6" cy="190.3" r="2.0" fill="none" stroke="#E8615A" stroke-width="0.8"/>
<circle cx="477.6" cy="196" r="2.0" fill="none" stroke="#E8615A" stroke-width="0.8"/>
<circle cx="472.6" cy="210" r="2.0" fill="none" stroke="#E8615A" stroke-width="0.8"/>
<circle cx="509.5" cy="215.8" r="2.0" fill="none" stroke="#E8615A" stroke-width="0.8"/>
<circle cx="449.5" cy="225" r="2.0" fill="none" stroke="#E8615A" stroke-width="0.8"/>
<circle cx="608.7" cy="160.5" r="2.0" fill="none" stroke="#E8615A" stroke-width="0.8"/>
<circle cx="640.8" cy="159.7" r="2.0" fill="none" stroke="#E8615A" stroke-width="0.8"/>
<circle cx="591" cy="173.7" r="2.0" fill="none" stroke="#E8615A" stroke-width="0.8"/>
<circle cx="557.1" cy="148.9" r="2.0" fill="none" stroke="#E8615A" stroke-width="0.8"/>
<circle cx="507.4" cy="46.6" r="1.75" fill="#9C9A1A"/>
<circle cx="514" cy="110.5" r="1.75" fill="#9C9A1A"/>
<circle cx="452.9" cy="136" r="1.75" fill="#9C9A1A"/>
<circle cx="575.3" cy="95.3" r="1.75" fill="#9C9A1A"/>
<circle cx="611.3" cy="131.6" r="1.75" fill="#9C9A1A"/>
<circle cx="640.3" cy="136.3" r="1.75" fill="#9C9A1A"/>
<circle cx="508.2" cy="167.9" r="1.75" fill="#9C9A1A"/>
<circle cx="456" cy="191.3" r="1.75" fill="#9C9A1A"/>
<circle cx="510.5" cy="193.4" r="1.75" fill="#9C9A1A"/>
<circle cx="436.3" cy="204" r="1.75" fill="#9C9A1A"/>
<circle cx="525.8" cy="208.4" r="1.75" fill="#9C9A1A"/>
<circle cx="596.3" cy="155.3" r="1.75" fill="#9C9A1A"/>
<circle cx="642.9" cy="166.3" r="1.75" fill="#9C9A1A"/>
<circle cx="570.5" cy="166.3" r="1.75" fill="#9C9A1A"/>
<circle cx="606.8" cy="171.1" r="1.75" fill="#9C9A1A"/>
<circle cx="564" cy="219.7" r="1.75" fill="#9C9A1A"/>
<circle cx="579.2" cy="164" r="1.75" fill="#9C9A1A"/>
<circle cx="499.9" cy="177" r="1.75" fill="#9C9A1A"/>
<circle cx="542.1" cy="70.5" r="1.75" fill="#12A86E"/>
<circle cx="531.6" cy="86.8" r="1.75" fill="#12A86E"/>
<circle cx="460.5" cy="132.1" r="1.75" fill="#12A86E"/>
<circle cx="493.4" cy="132.1" r="1.75" fill="#12A86E"/>
<circle cx="602.1" cy="49.5" r="1.75" fill="#12A86E"/>
<circle cx="602.9" cy="114.5" r="1.75" fill="#12A86E"/>
<circle cx="481.6" cy="156.6" r="1.75" fill="#12A86E"/>
<circle cx="505.5" cy="157.9" r="1.75" fill="#12A86E"/>
<circle cx="500" cy="176.8" r="1.75" fill="#12A86E"/>
<circle cx="503.4" cy="176.8" r="1.75" fill="#12A86E"/>
<circle cx="481.6" cy="196.8" r="1.75" fill="#12A86E"/>
<circle cx="437.1" cy="199.5" r="1.75" fill="#12A86E"/>
<circle cx="532.4" cy="201.8" r="1.75" fill="#12A86E"/>
<circle cx="569.2" cy="154.5" r="1.75" fill="#12A86E"/>
<circle cx="579.2" cy="163.7" r="1.75" fill="#12A86E"/>
<circle cx="627.9" cy="180.3" r="1.75" fill="#12A86E"/>
<circle cx="613.2" cy="188.9" r="1.75" fill="#12A86E"/>
<circle cx="561.3" cy="182.9" r="1.75" fill="#12A86E"/>
<circle cx="563.2" cy="203.2" r="1.75" fill="#12A86E"/>
<circle cx="621.8" cy="205.3" r="1.75" fill="#12A86E"/>
<circle cx="559.9" cy="157.7" r="1.75" fill="#12A86E"/>
<circle cx="570.4" cy="166" r="1.75" fill="#12A86E"/>
<circle cx="543.3" cy="166" r="1.75" fill="#12A86E"/>
<circle cx="522.6" cy="164" r="1.75" fill="#12A86E"/>
<circle cx="559.9" cy="182.6" r="1.75" fill="#12A86E"/>
<circle cx="538.9" cy="17.9" r="1.75" fill="#1AA7E0"/>
<circle cx="524.5" cy="86.8" r="1.75" fill="#1AA7E0"/>
<circle cx="460" cy="128.9" r="1.75" fill="#1AA7E0"/>
<circle cx="599.5" cy="121.8" r="1.75" fill="#1AA7E0"/>
<circle cx="539.7" cy="210" r="1.75" fill="#1AA7E0"/>
<circle cx="627.9" cy="157.9" r="1.75" fill="#1AA7E0"/>
<circle cx="566.6" cy="163.2" r="1.75" fill="#1AA7E0"/>
<circle cx="567.9" cy="175.5" r="1.75" fill="#1AA7E0"/>
<circle cx="612.6" cy="174.5" r="1.75" fill="#1AA7E0"/>
<circle cx="615.3" cy="175.5" r="1.75" fill="#1AA7E0"/>
<circle cx="614.7" cy="179.7" r="1.75" fill="#1AA7E0"/>
<circle cx="578.9" cy="198.2" r="1.75" fill="#1AA7E0"/>
<circle cx="574.5" cy="202.1" r="1.75" fill="#1AA7E0"/>
<circle cx="569.5" cy="154.1" r="1.75" fill="#1AA7E0"/>
<circle cx="565.4" cy="162.4" r="1.75" fill="#1AA7E0"/>
<circle cx="546" cy="172.9" r="1.75" fill="#1AA7E0"/>
<circle cx="550.2" cy="176.5" r="1.75" fill="#1AA7E0"/>
<circle cx="532.8" cy="177.9" r="1.75" fill="#1AA7E0"/>
<circle cx="568.2" cy="175.7" r="1.75" fill="#1AA7E0"/>
<g stroke="#E36FEA" stroke-width="1.0"><line x1="521.1" y1="84.7" x2="526.3000000000001" y2="84.7"/><line x1="523.7" y1="82.10000000000001" x2="523.7" y2="87.3"/><line x1="521.88" y1="82.88000000000001" x2="525.5200000000001" y2="86.52"/><line x1="521.88" y1="86.52" x2="525.5200000000001" y2="82.88000000000001"/></g>
<g stroke="#E36FEA" stroke-width="1.0"><line x1="517.1" y1="105.3" x2="522.3000000000001" y2="105.3"/><line x1="519.7" y1="102.7" x2="519.7" y2="107.89999999999999"/><line x1="517.88" y1="103.48" x2="521.5200000000001" y2="107.11999999999999"/><line x1="517.88" y1="107.11999999999999" x2="521.5200000000001" y2="103.48"/></g>
<g stroke="#E36FEA" stroke-width="1.0"><line x1="471.9" y1="129.5" x2="477.1" y2="129.5"/><line x1="474.5" y1="126.9" x2="474.5" y2="132.1"/><line x1="472.68" y1="127.68" x2="476.32" y2="131.32"/><line x1="472.68" y1="131.32" x2="476.32" y2="127.68"/></g>
<g stroke="#E36FEA" stroke-width="1.0"><line x1="499.5" y1="202.6" x2="504.70000000000005" y2="202.6"/><line x1="502.1" y1="200.0" x2="502.1" y2="205.2"/><line x1="500.28000000000003" y1="200.78" x2="503.92" y2="204.42"/><line x1="500.28000000000003" y1="204.42" x2="503.92" y2="200.78"/></g>
<g stroke="#E36FEA" stroke-width="1.0"><line x1="534.5" y1="212.4" x2="539.7" y2="212.4"/><line x1="537.1" y1="209.8" x2="537.1" y2="215.0"/><line x1="535.28" y1="210.58" x2="538.9200000000001" y2="214.22"/><line x1="535.28" y1="214.22" x2="538.9200000000001" y2="210.58"/></g>
<g stroke="#E36FEA" stroke-width="1.0"><line x1="528.4" y1="221.6" x2="533.6" y2="221.6"/><line x1="531" y1="219.0" x2="531" y2="224.2"/><line x1="529.18" y1="219.78" x2="532.82" y2="223.42"/><line x1="529.18" y1="223.42" x2="532.82" y2="219.78"/></g>
<g stroke="#E36FEA" stroke-width="1.0"><line x1="536.9" y1="234.7" x2="542.1" y2="234.7"/><line x1="539.5" y1="232.1" x2="539.5" y2="237.29999999999998"/><line x1="537.68" y1="232.88" x2="541.32" y2="236.51999999999998"/><line x1="537.68" y1="236.51999999999998" x2="541.32" y2="232.88"/></g>
<g stroke="#E36FEA" stroke-width="1.0"><line x1="495.59999999999997" y1="236.8" x2="500.8" y2="236.8"/><line x1="498.2" y1="234.20000000000002" x2="498.2" y2="239.4"/><line x1="496.38" y1="234.98000000000002" x2="500.02" y2="238.62"/><line x1="496.38" y1="238.62" x2="500.02" y2="234.98000000000002"/></g>
<g stroke="#E36FEA" stroke-width="1.0"><line x1="610.8" y1="184.7" x2="616.0" y2="184.7"/><line x1="613.4" y1="182.1" x2="613.4" y2="187.29999999999998"/><line x1="611.5799999999999" y1="182.88" x2="615.22" y2="186.51999999999998"/><line x1="611.5799999999999" y1="186.51999999999998" x2="615.22" y2="182.88"/></g>
<g stroke="#E36FEA" stroke-width="1.0"><line x1="597.4" y1="195.5" x2="602.6" y2="195.5"/><line x1="600" y1="192.9" x2="600" y2="198.1"/><line x1="598.18" y1="193.68" x2="601.82" y2="197.32"/><line x1="598.18" y1="197.32" x2="601.82" y2="193.68"/></g>
<g stroke="#E36FEA" stroke-width="1.0"><line x1="584.5" y1="204.7" x2="589.7" y2="204.7"/><line x1="587.1" y1="202.1" x2="587.1" y2="207.29999999999998"/><line x1="585.28" y1="202.88" x2="588.9200000000001" y2="206.51999999999998"/><line x1="585.28" y1="206.51999999999998" x2="588.9200000000001" y2="202.88"/></g>
<g stroke="#E36FEA" stroke-width="1.0"><line x1="578.5" y1="213.2" x2="583.7" y2="213.2"/><line x1="581.1" y1="210.6" x2="581.1" y2="215.79999999999998"/><line x1="579.28" y1="211.38" x2="582.9200000000001" y2="215.01999999999998"/><line x1="579.28" y1="215.01999999999998" x2="582.9200000000001" y2="211.38"/></g>
<g stroke="#E36FEA" stroke-width="1.0"><line x1="620.0" y1="215.8" x2="625.2" y2="215.8"/><line x1="622.6" y1="213.20000000000002" x2="622.6" y2="218.4"/><line x1="620.78" y1="213.98000000000002" x2="624.4200000000001" y2="217.62"/><line x1="620.78" y1="217.62" x2="624.4200000000001" y2="213.98000000000002"/></g>
<g stroke="#E36FEA" stroke-width="1.0"><line x1="561.4" y1="235.5" x2="566.6" y2="235.5"/><line x1="564" y1="232.9" x2="564" y2="238.1"/><line x1="562.18" y1="233.68" x2="565.82" y2="237.32"/><line x1="562.18" y1="237.32" x2="565.82" y2="233.68"/></g>
<g stroke="#E36FEA" stroke-width="1.0"><line x1="576.6" y1="199.1" x2="581.8000000000001" y2="199.1"/><line x1="579.2" y1="196.5" x2="579.2" y2="201.7"/><line x1="577.38" y1="197.28" x2="581.0200000000001" y2="200.92"/><line x1="577.38" y1="200.92" x2="581.0200000000001" y2="197.28"/></g>
<g>
<ellipse cx="505.0" cy="162.0" rx="55.1" ry="35.1" transform="rotate(-11.4 505.0 162.0)" fill="#F8766D" fill-opacity="0.27" stroke="#E86A62" stroke-width="0.9"/>
<ellipse cx="543.0" cy="160.6" rx="60.5" ry="42.3" transform="rotate(2 543.0 160.6)" fill="#A3A500" fill-opacity="0.27" stroke="#B5B000" stroke-width="0.9"/>
<ellipse cx="544.2" cy="155.2" rx="60.1" ry="47.1" transform="rotate(-3.1 544.2 155.2)" fill="#00BF7D" fill-opacity="0.27" stroke="#1E9C70" stroke-width="0.9"/>
<ellipse cx="561.0" cy="152.8" rx="51.0" ry="39.2" transform="rotate(45.3 561.0 152.8)" fill="#00B0F6" fill-opacity="0.27" stroke="#2AA0D0" stroke-width="0.9"/>
<ellipse cx="547.3" cy="194.0" rx="50.0" ry="38.9" transform="rotate(47.7 547.3 194.0)" fill="#E76BF3" fill-opacity="0.27" stroke="#C060CC" stroke-width="0.9"/>
</g>
<line x1="538.40" y1="9.70" x2="538.40" y2="245.30" stroke="#555" stroke-width="0.9" stroke-dasharray="1.5 2"/>
<line x1="399.50" y1="165.00" x2="680.50" y2="165.00" stroke="#555" stroke-width="0.9" stroke-dasharray="1.5 2"/>
<rect x="399.50" y="9.70" width="281.00" height="235.60" fill="none" stroke="#444" stroke-width="1.0"/>
<circle cx="406.0" cy="19.0" r="2.0" fill="none" stroke="#E8615A" stroke-width="0.8"/>
<text x="414.00" y="21.60" font-size="7.4" fill="#222" text-anchor="start" font-weight="normal" font-family='"Liberation Sans", sans-serif'>W0</text>
<circle cx="406.0" cy="28.2" r="1.8" fill="#9C9A1A"/>
<text x="414.00" y="30.80" font-size="7.4" fill="#222" text-anchor="start" font-weight="normal" font-family='"Liberation Sans", sans-serif'>W1</text>
<circle cx="406.0" cy="37.6" r="1.8" fill="#12A86E"/>
<text x="414.00" y="40.20" font-size="7.4" fill="#222" text-anchor="start" font-weight="normal" font-family='"Liberation Sans", sans-serif'>W4</text>
<circle cx="406.0" cy="47.2" r="1.8" fill="#1AA7E0"/>
<text x="414.00" y="49.80" font-size="7.4" fill="#222" text-anchor="start" font-weight="normal" font-family='"Liberation Sans", sans-serif'>W12</text>
<g stroke="#E36FEA" stroke-width="1.0"><line x1="403.6" y1="56.8" x2="408.4" y2="56.8"/><line x1="406.0" y1="54.4" x2="406.0" y2="59.199999999999996"/><line x1="404.32" y1="55.12" x2="407.68" y2="58.48"/><line x1="404.32" y1="58.48" x2="407.68" y2="55.12"/></g>
<text x="414.00" y="59.40" font-size="7.4" fill="#222" text-anchor="start" font-weight="normal" font-family='"Liberation Sans", sans-serif'>Donor</text>
<line x1="426.80" y1="245.30" x2="426.80" y2="250.30" stroke="#444" stroke-width="0.9"/>
<text x="426.80" y="267.00" font-size="10.5" fill="#222" text-anchor="middle" font-weight="normal" font-family='"Liberation Sans", sans-serif'>-0.2</text>
<line x1="482.60" y1="245.30" x2="482.60" y2="250.30" stroke="#444" stroke-width="0.9"/>
<text x="482.60" y="267.00" font-size="10.5" fill="#222" text-anchor="middle" font-weight="normal" font-family='"Liberation Sans", sans-serif'>-0.1</text>
<line x1="538.40" y1="245.30" x2="538.40" y2="250.30" stroke="#444" stroke-width="0.9"/>
<text x="538.40" y="267.00" font-size="10.5" fill="#222" text-anchor="middle" font-weight="normal" font-family='"Liberation Sans", sans-serif'>0.0</text>
<line x1="594.20" y1="245.30" x2="594.20" y2="250.30" stroke="#444" stroke-width="0.9"/>
<text x="594.20" y="267.00" font-size="10.5" fill="#222" text-anchor="middle" font-weight="normal" font-family='"Liberation Sans", sans-serif'>0.1</text>
<line x1="650.00" y1="245.30" x2="650.00" y2="250.30" stroke="#444" stroke-width="0.9"/>
<text x="650.00" y="267.00" font-size="10.5" fill="#222" text-anchor="middle" font-weight="normal" font-family='"Liberation Sans", sans-serif'>0.2</text>
<line x1="394.50" y1="221.10" x2="399.50" y2="221.10" stroke="#444" stroke-width="0.9"/>
<text x="387.20" y="221.10" font-size="10.5" fill="#222" text-anchor="middle" font-weight="normal" font-family='"Liberation Sans", sans-serif' transform="rotate(-90 387.20 221.10)">-0.1</text>
<line x1="394.50" y1="165.00" x2="399.50" y2="165.00" stroke="#444" stroke-width="0.9"/>
<text x="387.20" y="165.00" font-size="10.5" fill="#222" text-anchor="middle" font-weight="normal" font-family='"Liberation Sans", sans-serif' transform="rotate(-90 387.20 165.00)">0.0</text>
<line x1="394.50" y1="108.90" x2="399.50" y2="108.90" stroke="#444" stroke-width="0.9"/>
<text x="387.20" y="108.90" font-size="10.5" fill="#222" text-anchor="middle" font-weight="normal" font-family='"Liberation Sans", sans-serif' transform="rotate(-90 387.20 108.90)">0.1</text>
<line x1="394.50" y1="52.80" x2="399.50" y2="52.80" stroke="#444" stroke-width="0.9"/>
<text x="387.20" y="52.80" font-size="10.5" fill="#222" text-anchor="middle" font-weight="normal" font-family='"Liberation Sans", sans-serif' transform="rotate(-90 387.20 52.80)">0.2</text>
<text x="539.60" y="283.50" font-size="11.2" fill="#222" text-anchor="middle" font-weight="normal" font-family='"Liberation Sans", sans-serif'>PC1 (13.6%)</text>
<text x="371.00" y="126.80" font-size="11.2" fill="#222" text-anchor="middle" font-weight="normal" font-family='"Liberation Sans", sans-serif' transform="rotate(-90 371.00 126.80)">PC1 (8.8%)</text>
<rect x="41.60" y="302.40" width="114.20" height="232.70" fill="#ffffff" stroke="none" stroke-width="1"/>
<line x1="41.60" y1="498.35" x2="155.80" y2="498.35" stroke="#f4f4f4" stroke-width="0.5"/>
<line x1="41.60" y1="445.35" x2="155.80" y2="445.35" stroke="#f4f4f4" stroke-width="0.5"/>
<line x1="41.60" y1="392.35" x2="155.80" y2="392.35" stroke="#f4f4f4" stroke-width="0.5"/>
<line x1="41.60" y1="339.35" x2="155.80" y2="339.35" stroke="#f4f4f4" stroke-width="0.5"/>
<line x1="41.60" y1="524.85" x2="155.80" y2="524.85" stroke="#ebebeb" stroke-width="0.9"/>
<line x1="41.60" y1="471.85" x2="155.80" y2="471.85" stroke="#ebebeb" stroke-width="0.9"/>
<line x1="41.60" y1="418.85" x2="155.80" y2="418.85" stroke="#ebebeb" stroke-width="0.9"/>
<line x1="41.60" y1="365.85" x2="155.80" y2="365.85" stroke="#ebebeb" stroke-width="0.9"/>
<line x1="41.60" y1="312.85" x2="155.80" y2="312.85" stroke="#ebebeb" stroke-width="0.9"/>
<line x1="57.40" y1="302.40" x2="57.40" y2="535.10" stroke="#ebebeb" stroke-width="0.9"/>
<line x1="84.90" y1="302.40" x2="84.90" y2="535.10" stroke="#ebebeb" stroke-width="0.9"/>
<line x1="112.20" y1="302.40" x2="112.20" y2="535.10" stroke="#ebebeb" stroke-width="0.9"/>
<line x1="139.60" y1="302.40" x2="139.60" y2="535.10" stroke="#ebebeb" stroke-width="0.9"/>
<g shape-rendering="crispEdges">
<rect x="49.15" y="312.85" width="16.50" height="29.89" fill="#A6CEE3" stroke="none" stroke-width="1"/>
<rect x="49.15" y="342.74" width="16.50" height="46.00" fill="#1F78B4" stroke="none" stroke-width="1"/>
<rect x="49.15" y="388.75" width="16.50" height="22.05" fill="#B2DF8A" stroke="none" stroke-width="1"/>
<rect x="49.15" y="410.79" width="16.50" height="17.60" fill="#33A02C" stroke="none" stroke-width="1"/>
<rect x="49.15" y="428.39" width="16.50" height="19.72" fill="#FB9A99" stroke="none" stroke-width="1"/>
<rect x="49.15" y="448.11" width="16.50" height="20.78" fill="#E31A1C" stroke="none" stroke-width="1"/>
<rect x="49.15" y="468.88" width="16.50" height="9.12" fill="#FDBF6F" stroke="none" stroke-width="1"/>
<rect x="49.15" y="478.00" width="16.50" height="7.21" fill="#FF7F00" stroke="none" stroke-width="1"/>
<rect x="49.15" y="485.21" width="16.50" height="2.33" fill="#CAB2D6" stroke="none" stroke-width="1"/>
<rect x="49.15" y="487.54" width="16.50" height="5.51" fill="#6A3D9A" stroke="none" stroke-width="1"/>
<rect x="49.15" y="493.05" width="16.50" height="3.82" fill="#FFFF99" stroke="none" stroke-width="1"/>
<rect x="49.15" y="496.87" width="16.50" height="5.30" fill="#B15928" stroke="none" stroke-width="1"/>
<rect x="49.15" y="502.17" width="16.50" height="7.84" fill="#7FFF00" stroke="none" stroke-width="1"/>
<rect x="49.15" y="510.01" width="16.50" height="0.64" fill="#BDAE72" stroke="none" stroke-width="1"/>
<rect x="49.15" y="510.65" width="16.50" height="1.48" fill="#00BFFF" stroke="none" stroke-width="1"/>
<rect x="49.15" y="512.13" width="16.50" height="12.72" fill="#BEBEBE" stroke="none" stroke-width="1"/>
<rect x="76.65" y="312.85" width="16.50" height="66.57" fill="#A6CEE3" stroke="none" stroke-width="1"/>
<rect x="76.65" y="379.42" width="16.50" height="27.98" fill="#1F78B4" stroke="none" stroke-width="1"/>
<rect x="76.65" y="407.40" width="16.50" height="19.29" fill="#B2DF8A" stroke="none" stroke-width="1"/>
<rect x="76.65" y="426.69" width="16.50" height="21.84" fill="#33A02C" stroke="none" stroke-width="1"/>
<rect x="76.65" y="448.53" width="16.50" height="16.54" fill="#FB9A99" stroke="none" stroke-width="1"/>
<rect x="76.65" y="465.07" width="16.50" height="10.39" fill="#E31A1C" stroke="none" stroke-width="1"/>
<rect x="76.65" y="475.45" width="16.50" height="10.81" fill="#FDBF6F" stroke="none" stroke-width="1"/>
<rect x="76.65" y="486.27" width="16.50" height="2.97" fill="#FF7F00" stroke="none" stroke-width="1"/>
<rect x="76.65" y="489.23" width="16.50" height="6.78" fill="#CAB2D6" stroke="none" stroke-width="1"/>
<rect x="76.65" y="496.02" width="16.50" height="4.45" fill="#6A3D9A" stroke="none" stroke-width="1"/>
<rect x="76.65" y="500.47" width="16.50" height="3.18" fill="#FFFF99" stroke="none" stroke-width="1"/>
<rect x="76.65" y="503.65" width="16.50" height="2.97" fill="#B15928" stroke="none" stroke-width="1"/>
<rect x="76.65" y="506.62" width="16.50" height="1.06" fill="#7FFF00" stroke="none" stroke-width="1"/>
<rect x="76.65" y="507.68" width="16.50" height="1.06" fill="#BDAE72" stroke="none" stroke-width="1"/>
<rect x="76.65" y="508.74" width="16.50" height="2.97" fill="#00BFFF" stroke="none" stroke-width="1"/>
<rect x="76.65" y="511.71" width="16.50" height="13.14" fill="#BEBEBE" stroke="none" stroke-width="1"/>
<rect x="103.95" y="312.85" width="16.50" height="52.36" fill="#A6CEE3" stroke="none" stroke-width="1"/>
<rect x="103.95" y="365.21" width="16.50" height="18.66" fill="#1F78B4" stroke="none" stroke-width="1"/>
<rect x="103.95" y="383.87" width="16.50" height="25.23" fill="#B2DF8A" stroke="none" stroke-width="1"/>
<rect x="103.95" y="409.10" width="16.50" height="29.47" fill="#33A02C" stroke="none" stroke-width="1"/>
<rect x="103.95" y="438.57" width="16.50" height="20.35" fill="#FB9A99" stroke="none" stroke-width="1"/>
<rect x="103.95" y="458.92" width="16.50" height="7.21" fill="#E31A1C" stroke="none" stroke-width="1"/>
<rect x="103.95" y="466.13" width="16.50" height="10.81" fill="#FDBF6F" stroke="none" stroke-width="1"/>
<rect x="103.95" y="476.94" width="16.50" height="8.90" fill="#FF7F00" stroke="none" stroke-width="1"/>
<rect x="103.95" y="485.84" width="16.50" height="9.12" fill="#CAB2D6" stroke="none" stroke-width="1"/>
<rect x="103.95" y="494.96" width="16.50" height="5.30" fill="#6A3D9A" stroke="none" stroke-width="1"/>
<rect x="103.95" y="500.26" width="16.50" height="2.54" fill="#FFFF99" stroke="none" stroke-width="1"/>
<rect x="103.95" y="502.80" width="16.50" height="2.76" fill="#B15928" stroke="none" stroke-width="1"/>
<rect x="103.95" y="505.56" width="16.50" height="1.06" fill="#7FFF00" stroke="none" stroke-width="1"/>
<rect x="103.95" y="506.62" width="16.50" height="1.70" fill="#BDAE72" stroke="none" stroke-width="1"/>
<rect x="103.95" y="508.31" width="16.50" height="2.76" fill="#00BFFF" stroke="none" stroke-width="1"/>
<rect x="103.95" y="511.07" width="16.50" height="13.78" fill="#BEBEBE" stroke="none" stroke-width="1"/>
<rect x="131.35" y="312.85" width="16.50" height="71.02" fill="#A6CEE3" stroke="none" stroke-width="1"/>
<rect x="131.35" y="383.87" width="16.50" height="27.98" fill="#1F78B4" stroke="none" stroke-width="1"/>
<rect x="131.35" y="411.85" width="16.50" height="26.08" fill="#B2DF8A" stroke="none" stroke-width="1"/>
<rect x="131.35" y="437.93" width="16.50" height="17.60" fill="#33A02C" stroke="none" stroke-width="1"/>
<rect x="131.35" y="455.53" width="16.50" height="13.36" fill="#FB9A99" stroke="none" stroke-width="1"/>
<rect x="131.35" y="468.88" width="16.50" height="21.41" fill="#E31A1C" stroke="none" stroke-width="1"/>
<rect x="131.35" y="490.29" width="16.50" height="6.15" fill="#FDBF6F" stroke="none" stroke-width="1"/>
<rect x="131.35" y="496.44" width="16.50" height="4.88" fill="#FF7F00" stroke="none" stroke-width="1"/>
<rect x="131.35" y="501.32" width="16.50" height="1.48" fill="#CAB2D6" stroke="none" stroke-width="1"/>
<rect x="131.35" y="502.80" width="16.50" height="3.18" fill="#6A3D9A" stroke="none" stroke-width="1"/>
<rect x="131.35" y="505.98" width="16.50" height="4.66" fill="#FFFF99" stroke="none" stroke-width="1"/>
<rect x="131.35" y="510.65" width="16.50" height="0.85" fill="#B15928" stroke="none" stroke-width="1"/>
<rect x="131.35" y="511.49" width="16.50" height="0.64" fill="#7FFF00" stroke="none" stroke-width="1"/>
<rect x="131.35" y="512.13" width="16.50" height="1.91" fill="#BDAE72" stroke="none" stroke-width="1"/>
<rect x="131.35" y="514.04" width="16.50" height="2.97" fill="#00BFFF" stroke="none" stroke-width="1"/>
<rect x="131.35" y="517.01" width="16.50" height="7.84" fill="#BEBEBE" stroke="none" stroke-width="1"/>
</g>
<rect x="41.60" y="302.40" width="114.20" height="232.70" fill="none" stroke="#4d4d4d" stroke-width="1.0"/>
<line x1="39.00" y1="524.85" x2="41.60" y2="524.85" stroke="#333" stroke-width="0.8"/>
<text x="37.20" y="527.85" font-size="8.5" fill="#4d4d4d" text-anchor="end" font-weight="normal" font-family='"Liberation Sans", sans-serif'>0</text>
<line x1="39.00" y1="471.85" x2="41.60" y2="471.85" stroke="#333" stroke-width="0.8"/>
<text x="37.20" y="474.85" font-size="8.5" fill="#4d4d4d" text-anchor="end" font-weight="normal" font-family='"Liberation Sans", sans-serif'>25</text>
<line x1="39.00" y1="418.85" x2="41.60" y2="418.85" stroke="#333" stroke-width="0.8"/>
<text x="37.20" y="421.85" font-size="8.5" fill="#4d4d4d" text-anchor="end" font-weight="normal" font-family='"Liberation Sans", sans-serif'>50</text>
<line x1="39.00" y1="365.85" x2="41.60" y2="365.85" stroke="#333" stroke-width="0.8"/>
<text x="37.20" y="368.85" font-size="8.5" fill="#4d4d4d" text-anchor="end" font-weight="normal" font-family='"Liberation Sans", sans-serif'>75</text>
<line x1="39.00" y1="312.85" x2="41.60" y2="312.85" stroke="#333" stroke-width="0.8"/>
<text x="37.20" y="315.85" font-size="8.5" fill="#4d4d4d" text-anchor="end" font-weight="normal" font-family='"Liberation Sans", sans-serif'>100</text>
<line x1="57.40" y1="535.10" x2="57.40" y2="537.60" stroke="#333" stroke-width="0.8"/>
<text x="54.40" y="543.50" font-size="8.6" fill="#4d4d4d" text-anchor="start" font-weight="normal" font-family='"Liberation Sans", sans-serif' transform="rotate(45 54.40 543.50)">F_W0</text>
<line x1="84.90" y1="535.10" x2="84.90" y2="537.60" stroke="#333" stroke-width="0.8"/>
<text x="81.90" y="543.50" font-size="8.6" fill="#4d4d4d" text-anchor="start" font-weight="normal" font-family='"Liberation Sans", sans-serif' transform="rotate(45 81.90 543.50)">F_W1</text>
<line x1="112.20" y1="535.10" x2="112.20" y2="537.60" stroke="#333" stroke-width="0.8"/>
<text x="109.20" y="543.50" font-size="8.6" fill="#4d4d4d" text-anchor="start" font-weight="normal" font-family='"Liberation Sans", sans-serif' transform="rotate(45 109.20 543.50)">F_W4</text>
<line x1="139.60" y1="535.10" x2="139.60" y2="537.60" stroke="#333" stroke-width="0.8"/>
<text x="136.60" y="543.50" font-size="8.6" fill="#4d4d4d" text-anchor="start" font-weight="normal" font-family='"Liberation Sans", sans-serif' transform="rotate(45 136.60 543.50)">F_W12</text>
<text x="15.00" y="418.90" font-size="11.2" fill="#1a1a1a" text-anchor="middle" font-weight="normal" font-family='"Liberation Sans", sans-serif' transform="rotate(-90 15.00 418.90)">Relative abundance (%)</text>
<rect x="173.60" y="308.30" width="15.90" height="13.00" fill="#A6CEE3" stroke="none" stroke-width="1"/>
<text x="192.30" y="317.60" font-size="7.0" fill="#222" text-anchor="start" font-weight="normal" font-family='"Liberation Sans", sans-serif'>f__Prevotellaceae</text>
<rect x="173.60" y="322.51" width="15.90" height="13.00" fill="#1F78B4" stroke="none" stroke-width="1"/>
<text x="192.30" y="331.81" font-size="7.0" fill="#222" text-anchor="start" font-weight="normal" font-family='"Liberation Sans", sans-serif'>f__Bacteroidaceae</text>
<rect x="173.60" y="336.72" width="15.90" height="13.00" fill="#B2DF8A" stroke="none" stroke-width="1"/>
<text x="192.30" y="346.02" font-size="7.0" fill="#222" text-anchor="start" font-weight="normal" font-family='"Liberation Sans", sans-serif'>f__Veillonellaceae</text>
<rect x="173.60" y="350.93" width="15.90" height="13.00" fill="#33A02C" stroke="none" stroke-width="1"/>
<text x="192.30" y="360.23" font-size="7.0" fill="#222" text-anchor="start" font-weight="normal" font-family='"Liberation Sans", sans-serif'>f__Ruminococcaceae</text>
<rect x="173.60" y="365.14" width="15.90" height="13.00" fill="#FB9A99" stroke="none" stroke-width="1"/>
<text x="192.30" y="374.44" font-size="7.0" fill="#222" text-anchor="start" font-weight="normal" font-family='"Liberation Sans", sans-serif'>f__Lachnospiraceae</text>
<rect x="173.60" y="379.35" width="15.90" height="13.00" fill="#E31A1C" stroke="none" stroke-width="1"/>
<text x="192.30" y="388.65" font-size="7.0" fill="#222" text-anchor="start" font-weight="normal" font-family='"Liberation Sans", sans-serif'>f__Enterobacteriaceae</text>
<rect x="173.60" y="393.56" width="15.90" height="13.00" fill="#FDBF6F" stroke="none" stroke-width="1"/>
<text x="192.30" y="402.86" font-size="7.0" fill="#222" text-anchor="start" font-weight="normal" font-family='"Liberation Sans", sans-serif'>f__Acidaminococcaceae</text>
<rect x="173.60" y="407.77" width="15.90" height="13.00" fill="#FF7F00" stroke="none" stroke-width="1"/>
<text x="192.30" y="417.07" font-size="7.0" fill="#222" text-anchor="start" font-weight="normal" font-family='"Liberation Sans", sans-serif'>f__Burkholderiaceae</text>
<rect x="173.60" y="421.98" width="15.90" height="13.00" fill="#CAB2D6" stroke="none" stroke-width="1"/>
<text x="192.30" y="431.28" font-size="7.0" fill="#222" text-anchor="start" font-weight="normal" font-family='"Liberation Sans", sans-serif'>f__Peptostreptococcaceae</text>
<rect x="173.60" y="436.19" width="15.90" height="13.00" fill="#6A3D9A" stroke="none" stroke-width="1"/>
<text x="192.30" y="445.49" font-size="7.0" fill="#222" text-anchor="start" font-weight="normal" font-family='"Liberation Sans", sans-serif'>f__Muribaculaceae</text>
<rect x="173.60" y="450.40" width="15.90" height="13.00" fill="#FFFF99" stroke="none" stroke-width="1"/>
<text x="192.30" y="459.70" font-size="7.0" fill="#222" text-anchor="start" font-weight="normal" font-family='"Liberation Sans", sans-serif'>f__Coriobacteriaceae</text>
<rect x="173.60" y="464.61" width="15.90" height="13.00" fill="#B15928" stroke="none" stroke-width="1"/>
<text x="192.30" y="473.91" font-size="7.0" fill="#222" text-anchor="start" font-weight="normal" font-family='"Liberation Sans", sans-serif'>f__Bifidobacteriaceae</text>
<rect x="173.60" y="478.82" width="15.90" height="13.00" fill="#7FFF00" stroke="none" stroke-width="1"/>
<text x="192.30" y="488.12" font-size="7.0" fill="#222" text-anchor="start" font-weight="normal" font-family='"Liberation Sans", sans-serif'>f__Lactobacillaceae</text>
<rect x="173.60" y="493.03" width="15.90" height="13.00" fill="#BDAE72" stroke="none" stroke-width="1"/>
<text x="192.30" y="502.33" font-size="7.0" fill="#222" text-anchor="start" font-weight="normal" font-family='"Liberation Sans", sans-serif'>f__Rikenellaceae</text>
<rect x="173.60" y="507.24" width="15.90" height="13.00" fill="#00BFFF" stroke="none" stroke-width="1"/>
<text x="192.30" y="516.54" font-size="7.0" fill="#222" text-anchor="start" font-weight="normal" font-family='"Liberation Sans", sans-serif'>f__Tannerellaceae</text>
<rect x="173.60" y="521.45" width="15.90" height="13.00" fill="#BEBEBE" stroke="none" stroke-width="1"/>
<text x="192.30" y="530.75" font-size="7.0" fill="#222" text-anchor="start" font-weight="normal" font-family='"Liberation Sans", sans-serif'>Others</text>
<rect x="376.60" y="302.30" width="319.10" height="57.90" fill="#ffffff" stroke="none" stroke-width="1"/>
<line x1="376.60" y1="347.70" x2="695.70" y2="347.70" stroke="#f4f4f4" stroke-width="0.5"/>
<line x1="376.60" y1="333.30" x2="695.70" y2="333.30" stroke="#f4f4f4" stroke-width="0.5"/>
<line x1="376.60" y1="318.90" x2="695.70" y2="318.90" stroke="#f4f4f4" stroke-width="0.5"/>
<line x1="376.60" y1="354.90" x2="695.70" y2="354.90" stroke="#ebebeb" stroke-width="0.9"/>
<line x1="376.60" y1="340.50" x2="695.70" y2="340.50" stroke="#ebebeb" stroke-width="0.9"/>
<line x1="376.60" y1="326.10" x2="695.70" y2="326.10" stroke="#ebebeb" stroke-width="0.9"/>
<line x1="376.60" y1="311.70" x2="695.70" y2="311.70" stroke="#ebebeb" stroke-width="0.9"/>
<line x1="394.70" y1="302.30" x2="394.70" y2="360.20" stroke="#ebebeb" stroke-width="0.9"/>
<line x1="426.15" y1="302.30" x2="426.15" y2="360.20" stroke="#ebebeb" stroke-width="0.9"/>
<line x1="457.60" y1="302.30" x2="457.60" y2="360.20" stroke="#ebebeb" stroke-width="0.9"/>
<line x1="489.05" y1="302.30" x2="489.05" y2="360.20" stroke="#ebebeb" stroke-width="0.9"/>
<line x1="520.50" y1="302.30" x2="520.50" y2="360.20" stroke="#ebebeb" stroke-width="0.9"/>
<line x1="551.95" y1="302.30" x2="551.95" y2="360.20" stroke="#ebebeb" stroke-width="0.9"/>
<line x1="583.40" y1="302.30" x2="583.40" y2="360.20" stroke="#ebebeb" stroke-width="0.9"/>
<line x1="614.85" y1="302.30" x2="614.85" y2="360.20" stroke="#ebebeb" stroke-width="0.9"/>
<line x1="646.30" y1="302.30" x2="646.30" y2="360.20" stroke="#ebebeb" stroke-width="0.9"/>
<line x1="677.75" y1="302.30" x2="677.75" y2="360.20" stroke="#ebebeb" stroke-width="0.9"/>
<line x1="410.42" y1="302.30" x2="410.42" y2="360.20" stroke="#f4f4f4" stroke-width="0.5"/>
<line x1="441.88" y1="302.30" x2="441.88" y2="360.20" stroke="#f4f4f4" stroke-width="0.5"/>
<line x1="473.32" y1="302.30" x2="473.32" y2="360.20" stroke="#f4f4f4" stroke-width="0.5"/>
<line x1="504.77" y1="302.30" x2="504.77" y2="360.20" stroke="#f4f4f4" stroke-width="0.5"/>
<line x1="536.23" y1="302.30" x2="536.23" y2="360.20" stroke="#f4f4f4" stroke-width="0.5"/>
<line x1="567.67" y1="302.30" x2="567.67" y2="360.20" stroke="#f4f4f4" stroke-width="0.5"/>
<line x1="599.12" y1="302.30" x2="599.12" y2="360.20" stroke="#f4f4f4" stroke-width="0.5"/>
<line x1="630.58" y1="302.30" x2="630.58" y2="360.20" stroke="#f4f4f4" stroke-width="0.5"/>
<line x1="662.02" y1="302.30" x2="662.02" y2="360.20" stroke="#f4f4f4" stroke-width="0.5"/>
<rect x="376.60" y="374.30" width="319.10" height="58.10" fill="#ffffff" stroke="none" stroke-width="1"/>
<line x1="376.60" y1="415.70" x2="695.70" y2="415.70" stroke="#f4f4f4" stroke-width="0.5"/>
<line x1="376.60" y1="400.10" x2="695.70" y2="400.10" stroke="#f4f4f4" stroke-width="0.5"/>
<line x1="376.60" y1="384.50" x2="695.70" y2="384.50" stroke="#f4f4f4" stroke-width="0.5"/>
<line x1="376.60" y1="423.50" x2="695.70" y2="423.50" stroke="#ebebeb" stroke-width="0.9"/>
<line x1="376.60" y1="407.90" x2="695.70" y2="407.90" stroke="#ebebeb" stroke-width="0.9"/>
<line x1="376.60" y1="392.30" x2="695.70" y2="392.30" stroke="#ebebeb" stroke-width="0.9"/>
<line x1="376.60" y1="376.70" x2="695.70" y2="376.70" stroke="#ebebeb" stroke-width="0.9"/>
<line x1="394.70" y1="374.30" x2="394.70" y2="432.40" stroke="#ebebeb" stroke-width="0.9"/>
<line x1="426.15" y1="374.30" x2="426.15" y2="432.40" stroke="#ebebeb" stroke-width="0.9"/>
<line x1="457.60" y1="374.30" x2="457.60" y2="432.40" stroke="#ebebeb" stroke-width="0.9"/>
<line x1="489.05" y1="374.30" x2="489.05" y2="432.40" stroke="#ebebeb" stroke-width="0.9"/>
<line x1="520.50" y1="374.30" x2="520.50" y2="432.40" stroke="#ebebeb" stroke-width="0.9"/>
<line x1="551.95" y1="374.30" x2="551.95" y2="432.40" stroke="#ebebeb" stroke-width="0.9"/>
<line x1="583.40" y1="374.30" x2="583.40" y2="432.40" stroke="#ebebeb" stroke-width="0.9"/>
<line x1="614.85" y1="374.30" x2="614.85" y2="432.40" stroke="#ebebeb" stroke-width="0.9"/>
<line x1="646.30" y1="374.30" x2="646.30" y2="432.40" stroke="#ebebeb" stroke-width="0.9"/>
<line x1="677.75" y1="374.30" x2="677.75" y2="432.40" stroke="#ebebeb" stroke-width="0.9"/>
<line x1="410.42" y1="374.30" x2="410.42" y2="432.40" stroke="#f4f4f4" stroke-width="0.5"/>
<line x1="441.88" y1="374.30" x2="441.88" y2="432.40" stroke="#f4f4f4" stroke-width="0.5"/>
<line x1="473.32" y1="374.30" x2="473.32" y2="432.40" stroke="#f4f4f4" stroke-width="0.5"/>
<line x1="504.77" y1="374.30" x2="504.77" y2="432.40" stroke="#f4f4f4" stroke-width="0.5"/>
<line x1="536.23" y1="374.30" x2="536.23" y2="432.40" stroke="#f4f4f4" stroke-width="0.5"/>
<line x1="567.67" y1="374.30" x2="567.67" y2="432.40" stroke="#f4f4f4" stroke-width="0.5"/>
<line x1="599.12" y1="374.30" x2="599.12" y2="432.40" stroke="#f4f4f4" stroke-width="0.5"/>
<line x1="630.58" y1="374.30" x2="630.58" y2="432.40" stroke="#f4f4f4" stroke-width="0.5"/>
<line x1="662.02" y1="374.30" x2="662.02" y2="432.40" stroke="#f4f4f4" stroke-width="0.5"/>
<rect x="376.60" y="446.50" width="319.10" height="81.70" fill="#ffffff" stroke="none" stroke-width="1"/>
<line x1="376.60" y1="505.60" x2="695.70" y2="505.60" stroke="#f4f4f4" stroke-width="0.5"/>
<line x1="376.60" y1="468.40" x2="695.70" y2="468.40" stroke="#f4f4f4" stroke-width="0.5"/>
<line x1="376.60" y1="524.20" x2="695.70" y2="524.20" stroke="#ebebeb" stroke-width="0.9"/>
<line x1="376.60" y1="487.00" x2="695.70" y2="487.00" stroke="#ebebeb" stroke-width="0.9"/>
<line x1="376.60" y1="449.80" x2="695.70" y2="449.80" stroke="#ebebeb" stroke-width="0.9"/>
<line x1="394.70" y1="446.50" x2="394.70" y2="528.20" stroke="#ebebeb" stroke-width="0.9"/>
<line x1="426.15" y1="446.50" x2="426.15" y2="528.20" stroke="#ebebeb" stroke-width="0.9"/>
<line x1="457.60" y1="446.50" x2="457.60" y2="528.20" stroke="#ebebeb" stroke-width="0.9"/>
<line x1="489.05" y1="446.50" x2="489.05" y2="528.20" stroke="#ebebeb" stroke-width="0.9"/>
<line x1="520.50" y1="446.50" x2="520.50" y2="528.20" stroke="#ebebeb" stroke-width="0.9"/>
<line x1="551.95" y1="446.50" x2="551.95" y2="528.20" stroke="#ebebeb" stroke-width="0.9"/>
<line x1="583.40" y1="446.50" x2="583.40" y2="528.20" stroke="#ebebeb" stroke-width="0.9"/>
<line x1="614.85" y1="446.50" x2="614.85" y2="528.20" stroke="#ebebeb" stroke-width="0.9"/>
<line x1="646.30" y1="446.50" x2="646.30" y2="528.20" stroke="#ebebeb" stroke-width="0.9"/>
<line x1="677.75" y1="446.50" x2="677.75" y2="528.20" stroke="#ebebeb" stroke-width="0.9"/>
<line x1="410.42" y1="446.50" x2="410.42" y2="528.20" stroke="#f4f4f4" stroke-width="0.5"/>
<line x1="441.88" y1="446.50" x2="441.88" y2="528.20" stroke="#f4f4f4" stroke-width="0.5"/>
<line x1="473.32" y1="446.50" x2="473.32" y2="528.20" stroke="#f4f4f4" stroke-width="0.5"/>
<line x1="504.77" y1="446.50" x2="504.77" y2="528.20" stroke="#f4f4f4" stroke-width="0.5"/>
<line x1="536.23" y1="446.50" x2="536.23" y2="528.20" stroke="#f4f4f4" stroke-width="0.5"/>
<line x1="567.67" y1="446.50" x2="567.67" y2="528.20" stroke="#f4f4f4" stroke-width="0.5"/>
<line x1="599.12" y1="446.50" x2="599.12" y2="528.20" stroke="#f4f4f4" stroke-width="0.5"/>
<line x1="630.58" y1="446.50" x2="630.58" y2="528.20" stroke="#f4f4f4" stroke-width="0.5"/>
<line x1="662.02" y1="446.50" x2="662.02" y2="528.20" stroke="#f4f4f4" stroke-width="0.5"/>
<svg x="376.6" y="302.3" width="319.1" height="57.89999999999998" viewBox="376.6 302.3 319.1 57.89999999999998" overflow="hidden">
<rect x="382.80" y="356.50" width="11.90" height="5.50" fill="#F8766D" stroke="#333" stroke-width="0.9"/>
<line x1="382.80" y1="358.50" x2="394.70" y2="358.50" stroke="#222" stroke-width="1.7"/>
<g stroke="#222" stroke-width="1.1"><line x1="385.55" y1="353.1" x2="391.95" y2="353.1"/><line x1="388.75" y1="349.90000000000003" x2="388.75" y2="356.3"/><line x1="386.51" y1="350.86" x2="390.99" y2="355.34000000000003"/><line x1="386.51" y1="355.34000000000003" x2="390.99" y2="350.86"/></g>
</svg>
<svg x="376.6" y="302.3" width="319.1" height="57.89999999999998" viewBox="376.6 302.3 319.1 57.89999999999998" overflow="hidden">
<line x1="400.65" y1="308.30" x2="400.65" y2="336.20" stroke="#333" stroke-width="0.9"/>
<rect x="394.70" y="336.20" width="11.90" height="21.30" fill="#00BFC4" stroke="#333" stroke-width="0.9"/>
<line x1="394.70" y1="347.90" x2="406.60" y2="347.90" stroke="#222" stroke-width="1.7"/>
<g stroke="#222" stroke-width="1.1"><line x1="397.45" y1="344.6" x2="403.84999999999997" y2="344.6"/><line x1="400.65" y1="341.40000000000003" x2="400.65" y2="347.8"/><line x1="398.40999999999997" y1="342.36" x2="402.89" y2="346.84000000000003"/><line x1="398.40999999999997" y1="346.84000000000003" x2="402.89" y2="342.36"/></g>
</svg>
<svg x="376.6" y="302.3" width="319.1" height="57.89999999999998" viewBox="376.6 302.3 319.1 57.89999999999998" overflow="hidden">
<line x1="420.20" y1="323.30" x2="420.20" y2="336.20" stroke="#333" stroke-width="0.9"/>
<rect x="414.25" y="336.20" width="11.90" height="25.80" fill="#F8766D" stroke="#333" stroke-width="0.9"/>
<line x1="414.25" y1="346.20" x2="426.15" y2="346.20" stroke="#222" stroke-width="1.7"/>
<g stroke="#222" stroke-width="1.1"><line x1="417.0" y1="346.2" x2="423.4" y2="346.2"/><line x1="420.2" y1="343.0" x2="420.2" y2="349.4"/><line x1="417.96" y1="343.96" x2="422.44" y2="348.44"/><line x1="417.96" y1="348.44" x2="422.44" y2="343.96"/></g>
</svg>
<svg x="376.6" y="302.3" width="319.1" height="57.89999999999998" viewBox="376.6 302.3 319.1 57.89999999999998" overflow="hidden">
<line x1="432.10" y1="344.00" x2="432.10" y2="351.10" stroke="#333" stroke-width="0.9"/>
<rect x="426.15" y="351.10" width="11.90" height="7.40" fill="#00BFC4" stroke="#333" stroke-width="0.9"/>
<line x1="426.15" y1="356.50" x2="438.05" y2="356.50" stroke="#222" stroke-width="1.7"/>
<g stroke="#222" stroke-width="1.1"><line x1="428.9" y1="354.1" x2="435.29999999999995" y2="354.1"/><line x1="432.09999999999997" y1="350.90000000000003" x2="432.09999999999997" y2="357.3"/><line x1="429.85999999999996" y1="351.86" x2="434.34" y2="356.34000000000003"/><line x1="429.85999999999996" y1="356.34000000000003" x2="434.34" y2="351.86"/></g>
</svg>
<svg x="376.6" y="302.3" width="319.1" height="57.89999999999998" viewBox="376.6 302.3 319.1 57.89999999999998" overflow="hidden">
<line x1="451.65" y1="355.00" x2="451.65" y2="362.00" stroke="#333" stroke-width="0.9"/>
<g stroke="#222" stroke-width="1.1"><line x1="448.45" y1="358.0" x2="454.84999999999997" y2="358.0"/><line x1="451.65" y1="354.8" x2="451.65" y2="361.2"/><line x1="449.40999999999997" y1="355.76" x2="453.89" y2="360.24"/><line x1="449.40999999999997" y1="360.24" x2="453.89" y2="355.76"/></g>
</svg>
<circle cx="388.8" cy="311.8" r="0.7" fill="#333"/>
<circle cx="388.8" cy="326" r="0.7" fill="#333"/>
<circle cx="388.8" cy="337" r="0.7" fill="#333"/>
<circle cx="388.8" cy="345" r="0.7" fill="#333"/>
<circle cx="388.8" cy="349" r="0.7" fill="#333"/>
<circle cx="432.1" cy="326" r="0.7" fill="#333"/>
<circle cx="432.1" cy="337" r="0.7" fill="#333"/>
<circle cx="451.6" cy="328" r="0.7" fill="#333"/>
<circle cx="451.6" cy="342" r="0.7" fill="#333"/>
<circle cx="463.5" cy="358" r="0.7" fill="#333"/>
<circle cx="495.0" cy="357" r="0.7" fill="#333"/>
<circle cx="526.5" cy="353" r="0.7" fill="#333"/>
<circle cx="526.5" cy="356" r="0.7" fill="#333"/>
<circle cx="546.0" cy="357" r="0.7" fill="#333"/>
<circle cx="557.9" cy="354" r="0.7" fill="#333"/>
<circle cx="557.9" cy="357" r="0.7" fill="#333"/>
<svg x="376.6" y="374.3" width="319.1" height="58.099999999999966" viewBox="376.6 374.3 319.1 58.099999999999966" overflow="hidden">
<line x1="388.75" y1="370.00" x2="388.75" y2="414.60" stroke="#333" stroke-width="0.9"/>
</svg>
<svg x="376.6" y="374.3" width="319.1" height="58.099999999999966" viewBox="376.6 374.3 319.1 58.099999999999966" overflow="hidden">
<line x1="400.65" y1="370.00" x2="400.65" y2="393.60" stroke="#333" stroke-width="0.9"/>
</svg>
<svg x="376.6" y="374.3" width="319.1" height="58.099999999999966" viewBox="376.6 374.3 319.1 58.099999999999966" overflow="hidden">
<line x1="420.20" y1="370.00" x2="420.20" y2="418.60" stroke="#333" stroke-width="0.9"/>
</svg>
<svg x="376.6" y="374.3" width="319.1" height="58.099999999999966" viewBox="376.6 374.3 319.1 58.099999999999966" overflow="hidden">
<line x1="432.10" y1="370.00" x2="432.10" y2="409.00" stroke="#333" stroke-width="0.9"/>
</svg>
<svg x="376.6" y="374.3" width="319.1" height="58.099999999999966" viewBox="376.6 374.3 319.1 58.099999999999966" overflow="hidden">
<line x1="451.65" y1="370.00" x2="451.65" y2="440.00" stroke="#333" stroke-width="0.9"/>
<rect x="445.70" y="385.20" width="11.90" height="44.30" fill="#F8766D" stroke="#333" stroke-width="0.9"/>
<line x1="445.70" y1="416.00" x2="457.60" y2="416.00" stroke="#222" stroke-width="1.7"/>
</svg>
<svg x="376.6" y="374.3" width="319.1" height="58.099999999999966" viewBox="376.6 374.3 319.1 58.099999999999966" overflow="hidden">
<line x1="463.55" y1="398.70" x2="463.55" y2="417.00" stroke="#333" stroke-width="0.9"/>
<rect x="457.60" y="417.00" width="11.90" height="23.00" fill="#00BFC4" stroke="#333" stroke-width="0.9"/>
<line x1="457.60" y1="426.90" x2="469.50" y2="426.90" stroke="#222" stroke-width="1.7"/>
<g stroke="#222" stroke-width="1.1"><line x1="460.34999999999997" y1="418.0" x2="466.74999999999994" y2="418.0"/><line x1="463.54999999999995" y1="414.8" x2="463.54999999999995" y2="421.2"/><line x1="461.30999999999995" y1="415.76" x2="465.78999999999996" y2="420.24"/><line x1="461.30999999999995" y1="420.24" x2="465.78999999999996" y2="415.76"/></g>
</svg>
<svg x="376.6" y="374.3" width="319.1" height="58.099999999999966" viewBox="376.6 374.3 319.1 58.099999999999966" overflow="hidden">
<rect x="477.15" y="429.90" width="11.90" height="10.10" fill="#F8766D" stroke="#333" stroke-width="0.9"/>
<g stroke="#222" stroke-width="1.1"><line x1="479.9" y1="428.9" x2="486.29999999999995" y2="428.9"/><line x1="483.09999999999997" y1="425.7" x2="483.09999999999997" y2="432.09999999999997"/><line x1="480.85999999999996" y1="426.65999999999997" x2="485.34" y2="431.14"/><line x1="480.85999999999996" y1="431.14" x2="485.34" y2="426.65999999999997"/></g>
</svg>
<svg x="376.6" y="374.3" width="319.1" height="58.099999999999966" viewBox="376.6 374.3 319.1 58.099999999999966" overflow="hidden">
<line x1="495.00" y1="370.00" x2="495.00" y2="400.10" stroke="#333" stroke-width="0.9"/>
<rect x="489.05" y="400.10" width="11.90" height="39.90" fill="#00BFC4" stroke="#333" stroke-width="0.9"/>
<line x1="489.05" y1="427.30" x2="500.95" y2="427.30" stroke="#222" stroke-width="1.7"/>
<g stroke="#222" stroke-width="1.1"><line x1="491.79999999999995" y1="392.8" x2="498.19999999999993" y2="392.8"/><line x1="494.99999999999994" y1="389.6" x2="494.99999999999994" y2="396.0"/><line x1="492.75999999999993" y1="390.56" x2="497.23999999999995" y2="395.04"/><line x1="492.75999999999993" y1="395.04" x2="497.23999999999995" y2="390.56"/></g>
</svg>
<svg x="376.6" y="374.3" width="319.1" height="58.099999999999966" viewBox="376.6 374.3 319.1 58.099999999999966" overflow="hidden">
<line x1="526.45" y1="393.20" x2="526.45" y2="419.40" stroke="#333" stroke-width="0.9"/>
<rect x="520.50" y="419.40" width="11.90" height="20.60" fill="#00BFC4" stroke="#333" stroke-width="0.9"/>
<g stroke="#222" stroke-width="1.1"><line x1="523.25" y1="412.6" x2="529.6500000000001" y2="412.6"/><line x1="526.45" y1="409.40000000000003" x2="526.45" y2="415.8"/><line x1="524.21" y1="410.36" x2="528.69" y2="414.84000000000003"/><line x1="524.21" y1="414.84000000000003" x2="528.69" y2="410.36"/></g>
</svg>
<svg x="376.6" y="374.3" width="319.1" height="58.099999999999966" viewBox="376.6 374.3 319.1 58.099999999999966" overflow="hidden">
<g stroke="#222" stroke-width="1.1"><line x1="542.8" y1="425.5" x2="549.2" y2="425.5"/><line x1="546.0" y1="422.3" x2="546.0" y2="428.7"/><line x1="543.76" y1="423.26" x2="548.24" y2="427.74"/><line x1="543.76" y1="427.74" x2="548.24" y2="423.26"/></g>
</svg>
<svg x="376.6" y="374.3" width="319.1" height="58.099999999999966" viewBox="376.6 374.3 319.1 58.099999999999966" overflow="hidden">
<g stroke="#222" stroke-width="1.1"><line x1="554.7" y1="430.9" x2="561.1000000000001" y2="430.9"/><line x1="557.9000000000001" y1="427.7" x2="557.9000000000001" y2="434.09999999999997"/><line x1="555.6600000000001" y1="428.65999999999997" x2="560.1400000000001" y2="433.14"/><line x1="555.6600000000001" y1="433.14" x2="560.1400000000001" y2="428.65999999999997"/></g>
</svg>
<circle cx="463.5" cy="378" r="0.7" fill="#333"/>
<circle cx="483.1" cy="411" r="0.7" fill="#333"/>
<circle cx="483.1" cy="418" r="0.7" fill="#333"/>
<circle cx="526.5" cy="380.3" r="0.7" fill="#333"/>
<circle cx="526.5" cy="391.2" r="0.7" fill="#333"/>
<circle cx="546.0" cy="396.1" r="0.7" fill="#333"/>
<circle cx="546.0" cy="399.1" r="0.7" fill="#333"/>
<circle cx="557.9" cy="385" r="0.7" fill="#333"/>
<circle cx="557.9" cy="391" r="0.7" fill="#333"/>
<circle cx="557.9" cy="408" r="0.7" fill="#333"/>
<circle cx="557.9" cy="412" r="0.7" fill="#333"/>
<circle cx="557.9" cy="425" r="0.7" fill="#333"/>
<circle cx="577.4" cy="426" r="0.7" fill="#333"/>
<circle cx="577.4" cy="429" r="0.7" fill="#333"/>
<circle cx="589.4" cy="414" r="0.7" fill="#333"/>
<circle cx="589.4" cy="422" r="0.7" fill="#333"/>
<circle cx="589.4" cy="429" r="0.7" fill="#333"/>
<circle cx="640.3" cy="426" r="0.7" fill="#333"/>
<circle cx="671.8" cy="388" r="0.7" fill="#333"/>
<svg x="376.6" y="446.5" width="319.1" height="81.70000000000005" viewBox="376.6 446.5 319.1 81.70000000000005" overflow="hidden">
<line x1="451.65" y1="440.00" x2="451.65" y2="485.60" stroke="#333" stroke-width="0.9"/>
</svg>
<svg x="376.6" y="446.5" width="319.1" height="81.70000000000005" viewBox="376.6 446.5 319.1 81.70000000000005" overflow="hidden">
<line x1="463.55" y1="458.40" x2="463.55" y2="518.30" stroke="#333" stroke-width="0.9"/>
<rect x="457.60" y="440.00" width="11.90" height="18.40" fill="#00BFC4" stroke="#333" stroke-width="0.9"/>
</svg>
<svg x="376.6" y="446.5" width="319.1" height="81.70000000000005" viewBox="376.6 446.5 319.1 81.70000000000005" overflow="hidden">
<line x1="483.10" y1="512.90" x2="483.10" y2="524.20" stroke="#333" stroke-width="0.9"/>
<rect x="477.15" y="440.00" width="11.90" height="72.90" fill="#F8766D" stroke="#333" stroke-width="0.9"/>
<line x1="477.15" y1="501.40" x2="489.05" y2="501.40" stroke="#222" stroke-width="1.7"/>
</svg>
<svg x="376.6" y="446.5" width="319.1" height="81.70000000000005" viewBox="376.6 446.5 319.1 81.70000000000005" overflow="hidden">
<line x1="495.00" y1="500.80" x2="495.00" y2="520.90" stroke="#333" stroke-width="0.9"/>
<rect x="489.05" y="440.00" width="11.90" height="60.80" fill="#00BFC4" stroke="#333" stroke-width="0.9"/>
</svg>
<svg x="376.6" y="446.5" width="319.1" height="81.70000000000005" viewBox="376.6 446.5 319.1 81.70000000000005" overflow="hidden">
<line x1="514.55" y1="474.60" x2="514.55" y2="523.80" stroke="#333" stroke-width="0.9"/>
<rect x="508.60" y="493.50" width="11.90" height="23.20" fill="#F8766D" stroke="#333" stroke-width="0.9"/>
<line x1="508.60" y1="505.00" x2="520.50" y2="505.00" stroke="#222" stroke-width="1.7"/>
<g stroke="#222" stroke-width="1.1"><line x1="511.34999999999997" y1="502.4" x2="517.75" y2="502.4"/><line x1="514.55" y1="499.2" x2="514.55" y2="505.59999999999997"/><line x1="512.31" y1="500.15999999999997" x2="516.79" y2="504.64"/><line x1="512.31" y1="504.64" x2="516.79" y2="500.15999999999997"/></g>
</svg>
<svg x="376.6" y="446.5" width="319.1" height="81.70000000000005" viewBox="376.6 446.5 319.1 81.70000000000005" overflow="hidden">
<line x1="526.45" y1="510.40" x2="526.45" y2="522.30" stroke="#333" stroke-width="0.9"/>
<rect x="520.50" y="440.00" width="11.90" height="70.40" fill="#00BFC4" stroke="#333" stroke-width="0.9"/>
<line x1="520.50" y1="475.00" x2="532.40" y2="475.00" stroke="#222" stroke-width="1.7"/>
</svg>
<svg x="376.6" y="446.5" width="319.1" height="81.70000000000005" viewBox="376.6 446.5 319.1 81.70000000000005" overflow="hidden">
<line x1="546.00" y1="512.90" x2="546.00" y2="520.30" stroke="#333" stroke-width="0.9"/>
<rect x="540.05" y="440.00" width="11.90" height="72.90" fill="#F8766D" stroke="#333" stroke-width="0.9"/>
<line x1="540.05" y1="503.40" x2="551.95" y2="503.40" stroke="#222" stroke-width="1.7"/>
</svg>
<svg x="376.6" y="446.5" width="319.1" height="81.70000000000005" viewBox="376.6 446.5 319.1 81.70000000000005" overflow="hidden">
<line x1="557.90" y1="474.60" x2="557.90" y2="524.20" stroke="#333" stroke-width="0.9"/>
<rect x="551.95" y="501.80" width="11.90" height="20.50" fill="#00BFC4" stroke="#333" stroke-width="0.9"/>
<line x1="551.95" y1="511.70" x2="563.85" y2="511.70" stroke="#222" stroke-width="1.7"/>
</svg>
<svg x="376.6" y="446.5" width="319.1" height="81.70000000000005" viewBox="376.6 446.5 319.1 81.70000000000005" overflow="hidden">
<rect x="571.50" y="512.90" width="11.90" height="11.90" fill="#F8766D" stroke="#333" stroke-width="0.9"/>
<line x1="571.50" y1="524.00" x2="583.40" y2="524.00" stroke="#222" stroke-width="1.7"/>
<g stroke="#222" stroke-width="1.1"><line x1="574.25" y1="495.1" x2="580.6500000000001" y2="495.1"/><line x1="577.45" y1="491.90000000000003" x2="577.45" y2="498.3"/><line x1="575.21" y1="492.86" x2="579.69" y2="497.34000000000003"/><line x1="575.21" y1="497.34000000000003" x2="579.69" y2="492.86"/></g>
</svg>
<svg x="376.6" y="446.5" width="319.1" height="81.70000000000005" viewBox="376.6 446.5 319.1 81.70000000000005" overflow="hidden">
<line x1="589.35" y1="440.00" x2="589.35" y2="524.00" stroke="#333" stroke-width="0.9"/>
<rect x="583.40" y="457.20" width="11.90" height="65.10" fill="#00BFC4" stroke="#333" stroke-width="0.9"/>
<line x1="583.40" y1="508.80" x2="595.30" y2="508.80" stroke="#222" stroke-width="1.7"/>
<g stroke="#222" stroke-width="1.1"><line x1="586.1499999999999" y1="484.0" x2="592.55" y2="484.0"/><line x1="589.3499999999999" y1="480.8" x2="589.3499999999999" y2="487.2"/><line x1="587.1099999999999" y1="481.76" x2="591.5899999999999" y2="486.24"/><line x1="587.1099999999999" y1="486.24" x2="591.5899999999999" y2="481.76"/></g>
</svg>
<svg x="376.6" y="446.5" width="319.1" height="81.70000000000005" viewBox="376.6 446.5 319.1 81.70000000000005" overflow="hidden">
<rect x="602.95" y="523.00" width="11.90" height="2.20" fill="#F8766D" stroke="#333" stroke-width="0.9"/>
<line x1="602.95" y1="524.50" x2="614.85" y2="524.50" stroke="#222" stroke-width="1.7"/>
<g stroke="#222" stroke-width="1.1"><line x1="605.7" y1="522.0" x2="612.1000000000001" y2="522.0"/><line x1="608.9000000000001" y1="518.8" x2="608.9000000000001" y2="525.2"/><line x1="606.6600000000001" y1="519.76" x2="611.1400000000001" y2="524.24"/><line x1="606.6600000000001" y1="524.24" x2="611.1400000000001" y2="519.76"/></g>
</svg>
<svg x="376.6" y="446.5" width="319.1" height="81.70000000000005" viewBox="376.6 446.5 319.1 81.70000000000005" overflow="hidden">
<line x1="620.80" y1="503.40" x2="620.80" y2="524.80" stroke="#333" stroke-width="0.9"/>
<rect x="614.85" y="514.90" width="11.90" height="9.90" fill="#00BFC4" stroke="#333" stroke-width="0.9"/>
<line x1="614.85" y1="522.70" x2="626.75" y2="522.70" stroke="#222" stroke-width="1.7"/>
<g stroke="#222" stroke-width="1.1"><line x1="617.5999999999999" y1="478.6" x2="624.0" y2="478.6"/><line x1="620.8" y1="475.40000000000003" x2="620.8" y2="481.8"/><line x1="618.56" y1="476.36" x2="623.04" y2="480.84000000000003"/><line x1="618.56" y1="480.84000000000003" x2="623.04" y2="476.36"/></g>
</svg>
<svg x="376.6" y="446.5" width="319.1" height="81.70000000000005" viewBox="376.6 446.5 319.1 81.70000000000005" overflow="hidden">
<line x1="640.35" y1="520.00" x2="640.35" y2="525.00" stroke="#333" stroke-width="0.9"/>
<rect x="634.40" y="521.90" width="11.90" height="3.10" fill="#F8766D" stroke="#333" stroke-width="0.9"/>
<line x1="634.40" y1="524.20" x2="646.30" y2="524.20" stroke="#222" stroke-width="1.7"/>
<g stroke="#222" stroke-width="1.1"><line x1="637.1499999999999" y1="478.6" x2="643.55" y2="478.6"/><line x1="640.3499999999999" y1="475.40000000000003" x2="640.3499999999999" y2="481.8"/><line x1="638.1099999999999" y1="476.36" x2="642.5899999999999" y2="480.84000000000003"/><line x1="638.1099999999999" y1="480.84000000000003" x2="642.5899999999999" y2="476.36"/></g>
</svg>
<svg x="376.6" y="446.5" width="319.1" height="81.70000000000005" viewBox="376.6 446.5 319.1 81.70000000000005" overflow="hidden">
<rect x="646.30" y="522.00" width="11.90" height="3.00" fill="#00BFC4" stroke="#333" stroke-width="0.9"/>
<line x1="646.30" y1="524.00" x2="658.20" y2="524.00" stroke="#222" stroke-width="1.7"/>
<g stroke="#222" stroke-width="1.1"><line x1="649.05" y1="523.5" x2="655.45" y2="523.5"/><line x1="652.25" y1="520.3" x2="652.25" y2="526.7"/><line x1="650.01" y1="521.26" x2="654.49" y2="525.74"/><line x1="650.01" y1="525.74" x2="654.49" y2="521.26"/></g>
</svg>
<svg x="376.6" y="446.5" width="319.1" height="81.70000000000005" viewBox="376.6 446.5 319.1 81.70000000000005" overflow="hidden">
<rect x="665.85" y="519.90" width="11.90" height="5.10" fill="#F8766D" stroke="#333" stroke-width="0.9"/>
<line x1="665.85" y1="522.50" x2="677.75" y2="522.50" stroke="#222" stroke-width="1.7"/>
<g stroke="#222" stroke-width="1.1"><line x1="668.5999999999999" y1="490.9" x2="675.0" y2="490.9"/><line x1="671.8" y1="487.7" x2="671.8" y2="494.09999999999997"/><line x1="669.56" y1="488.65999999999997" x2="674.04" y2="493.14"/><line x1="669.56" y1="493.14" x2="674.04" y2="488.65999999999997"/></g>
</svg>
<svg x="376.6" y="446.5" width="319.1" height="81.70000000000005" viewBox="376.6 446.5 319.1 81.70000000000005" overflow="hidden">
<rect x="677.75" y="521.90" width="11.90" height="3.10" fill="#00BFC4" stroke="#333" stroke-width="0.9"/>
<line x1="677.75" y1="523.50" x2="689.65" y2="523.50" stroke="#222" stroke-width="1.7"/>
<g stroke="#222" stroke-width="1.1"><line x1="680.5" y1="521.0" x2="686.9000000000001" y2="521.0"/><line x1="683.7" y1="517.8" x2="683.7" y2="524.2"/><line x1="681.46" y1="518.76" x2="685.94" y2="523.24"/><line x1="681.46" y1="523.24" x2="685.94" y2="518.76"/></g>
</svg>
<circle cx="557.9" cy="466" r="0.7" fill="#333"/>
<circle cx="608.9" cy="493" r="0.7" fill="#333"/>
<circle cx="608.9" cy="511" r="0.7" fill="#333"/>
<circle cx="620.8" cy="497" r="0.7" fill="#333"/>
<circle cx="671.8" cy="464" r="0.7" fill="#333"/>
<circle cx="671.8" cy="512" r="0.7" fill="#333"/>
<circle cx="589.4" cy="452" r="0.7" fill="#333"/>
<rect x="376.60" y="302.30" width="319.10" height="57.90" fill="none" stroke="#4d4d4d" stroke-width="1.0"/>
<line x1="374.00" y1="354.90" x2="376.60" y2="354.90" stroke="#333" stroke-width="0.8"/>
<text x="372.00" y="358.20" font-size="9.4" fill="#4d4d4d" text-anchor="end" font-weight="normal" font-family='"Liberation Sans", sans-serif'>10</text>
<line x1="374.00" y1="340.50" x2="376.60" y2="340.50" stroke="#333" stroke-width="0.8"/>
<text x="372.00" y="343.80" font-size="9.4" fill="#4d4d4d" text-anchor="end" font-weight="normal" font-family='"Liberation Sans", sans-serif'>30</text>
<line x1="374.00" y1="326.10" x2="376.60" y2="326.10" stroke="#333" stroke-width="0.8"/>
<text x="372.00" y="329.40" font-size="9.4" fill="#4d4d4d" text-anchor="end" font-weight="normal" font-family='"Liberation Sans", sans-serif'>50</text>
<line x1="374.00" y1="311.70" x2="376.60" y2="311.70" stroke="#333" stroke-width="0.8"/>
<text x="372.00" y="315.00" font-size="9.4" fill="#4d4d4d" text-anchor="end" font-weight="normal" font-family='"Liberation Sans", sans-serif'>70</text>
<rect x="376.60" y="374.30" width="319.10" height="58.10" fill="none" stroke="#4d4d4d" stroke-width="1.0"/>
<line x1="374.00" y1="423.50" x2="376.60" y2="423.50" stroke="#333" stroke-width="0.8"/>
<text x="372.00" y="426.80" font-size="9.4" fill="#4d4d4d" text-anchor="end" font-weight="normal" font-family='"Liberation Sans", sans-serif'>0.5</text>
<line x1="374.00" y1="407.90" x2="376.60" y2="407.90" stroke="#333" stroke-width="0.8"/>
<text x="372.00" y="411.20" font-size="9.4" fill="#4d4d4d" text-anchor="end" font-weight="normal" font-family='"Liberation Sans", sans-serif'>1.0</text>
<line x1="374.00" y1="392.30" x2="376.60" y2="392.30" stroke="#333" stroke-width="0.8"/>
<text x="372.00" y="395.60" font-size="9.4" fill="#4d4d4d" text-anchor="end" font-weight="normal" font-family='"Liberation Sans", sans-serif'>1.5</text>
<line x1="374.00" y1="376.70" x2="376.60" y2="376.70" stroke="#333" stroke-width="0.8"/>
<text x="372.00" y="380.00" font-size="9.4" fill="#4d4d4d" text-anchor="end" font-weight="normal" font-family='"Liberation Sans", sans-serif'>2.0</text>
<rect x="376.60" y="446.50" width="319.10" height="81.70" fill="none" stroke="#4d4d4d" stroke-width="1.0"/>
<line x1="374.00" y1="524.20" x2="376.60" y2="524.20" stroke="#333" stroke-width="0.8"/>
<text x="372.00" y="527.50" font-size="9.4" fill="#4d4d4d" text-anchor="end" font-weight="normal" font-family='"Liberation Sans", sans-serif'>0.0</text>
<line x1="374.00" y1="487.00" x2="376.60" y2="487.00" stroke="#333" stroke-width="0.8"/>
<text x="372.00" y="490.30" font-size="9.4" fill="#4d4d4d" text-anchor="end" font-weight="normal" font-family='"Liberation Sans", sans-serif'>0.1</text>
<line x1="374.00" y1="449.80" x2="376.60" y2="449.80" stroke="#333" stroke-width="0.8"/>
<text x="372.00" y="453.10" font-size="9.4" fill="#4d4d4d" text-anchor="end" font-weight="normal" font-family='"Liberation Sans", sans-serif'>0.2</text>
<line x1="394.70" y1="528.20" x2="394.70" y2="530.70" stroke="#333" stroke-width="0.8"/>
<line x1="426.15" y1="528.20" x2="426.15" y2="530.70" stroke="#333" stroke-width="0.8"/>
<line x1="457.60" y1="528.20" x2="457.60" y2="530.70" stroke="#333" stroke-width="0.8"/>
<line x1="489.05" y1="528.20" x2="489.05" y2="530.70" stroke="#333" stroke-width="0.8"/>
<line x1="520.50" y1="528.20" x2="520.50" y2="530.70" stroke="#333" stroke-width="0.8"/>
<line x1="551.95" y1="528.20" x2="551.95" y2="530.70" stroke="#333" stroke-width="0.8"/>
<line x1="583.40" y1="528.20" x2="583.40" y2="530.70" stroke="#333" stroke-width="0.8"/>
<line x1="614.85" y1="528.20" x2="614.85" y2="530.70" stroke="#333" stroke-width="0.8"/>
<line x1="646.30" y1="528.20" x2="646.30" y2="530.70" stroke="#333" stroke-width="0.8"/>
<line x1="677.75" y1="528.20" x2="677.75" y2="530.70" stroke="#333" stroke-width="0.8"/>
<text x="391.50" y="540.50" font-size="8.8" fill="#4d4d4d" text-anchor="start" font-weight="normal" font-family='"Liberation Sans", sans-serif' transform="rotate(24 391.50 540.50)">g__Prevotella_9</text>
<text x="422.95" y="540.50" font-size="8.8" fill="#4d4d4d" text-anchor="start" font-weight="normal" font-family='"Liberation Sans", sans-serif' transform="rotate(24 422.95 540.50)">g__Bacteroides</text>
<text x="454.40" y="540.50" font-size="8.8" fill="#4d4d4d" text-anchor="start" font-weight="normal" font-family='"Liberation Sans", sans-serif' transform="rotate(24 454.40 540.50)">g__Veillonella</text>
<text x="485.85" y="540.50" font-size="8.8" fill="#4d4d4d" text-anchor="start" font-weight="normal" font-family='"Liberation Sans", sans-serif' transform="rotate(24 485.85 540.50)">g__Alloprevotella</text>
<text x="517.30" y="540.50" font-size="8.8" fill="#4d4d4d" text-anchor="start" font-weight="normal" font-family='"Liberation Sans", sans-serif' transform="rotate(24 517.30 540.50)">g__un_f_Prevotellaceae</text>
<text x="548.75" y="540.50" font-size="8.8" fill="#4d4d4d" text-anchor="start" font-weight="normal" font-family='"Liberation Sans", sans-serif' transform="rotate(24 548.75 540.50)">g__Acidaminococcus</text>
<text x="580.20" y="540.50" font-size="8.8" fill="#4d4d4d" text-anchor="start" font-weight="normal" font-family='"Liberation Sans", sans-serif' transform="rotate(24 580.20 540.50)">g__Odoribacter</text>
<text x="611.65" y="540.50" font-size="8.8" fill="#4d4d4d" text-anchor="start" font-weight="normal" font-family='"Liberation Sans", sans-serif' transform="rotate(24 611.65 540.50)">g__Holdemanella</text>
<text x="643.10" y="540.50" font-size="8.8" fill="#4d4d4d" text-anchor="start" font-weight="normal" font-family='"Liberation Sans", sans-serif' transform="rotate(24 643.10 540.50)">g__Eikenella</text>
<text x="674.55" y="540.50" font-size="8.8" fill="#4d4d4d" text-anchor="start" font-weight="normal" font-family='"Liberation Sans", sans-serif' transform="rotate(24 674.55 540.50)">g__Enterococcus</text>
<text x="351.00" y="448.30" font-size="11.5" fill="#1a1a1a" text-anchor="middle" font-weight="normal" font-family='"Liberation Sans", sans-serif' transform="rotate(-90 351.00 448.30)">Relative abundance (%)</text>
<text x="707.60" y="425.50" font-size="11.1" fill="#1a1a1a" text-anchor="start" font-weight="normal" font-family='"Liberation Sans", sans-serif'>Group</text>
<line x1="716.00" y1="432.00" x2="716.00" y2="445.60" stroke="#333" stroke-width="0.9"/>
<rect x="709.20" y="434.30" width="13.70" height="9.00" fill="#F8766D" stroke="#333" stroke-width="0.9"/>
<line x1="709.20" y1="438.80" x2="722.90" y2="438.80" stroke="#222" stroke-width="1.2"/>
<g stroke="#222" stroke-width="0.8"><line x1="714.2" y1="438.8" x2="717.8" y2="438.8"/><line x1="716.0" y1="437.0" x2="716.0" y2="440.6"/><line x1="714.74" y1="437.54" x2="717.26" y2="440.06"/><line x1="714.74" y1="440.06" x2="717.26" y2="437.54"/></g>
<text x="727.00" y="442.00" font-size="9.0" fill="#1a1a1a" text-anchor="start" font-weight="normal" font-family='"Liberation Sans", sans-serif'>Baseline</text>
<line x1="716.00" y1="449.10" x2="716.00" y2="462.90" stroke="#333" stroke-width="0.9"/>
<rect x="709.20" y="451.40" width="13.70" height="9.20" fill="#00BFC4" stroke="#333" stroke-width="0.9"/>
<line x1="709.20" y1="456.00" x2="722.90" y2="456.00" stroke="#222" stroke-width="1.2"/>
<g stroke="#222" stroke-width="0.8"><line x1="714.2" y1="456.0" x2="717.8" y2="456.0"/><line x1="716.0" y1="454.2" x2="716.0" y2="457.8"/><line x1="714.74" y1="454.74" x2="717.26" y2="457.26"/><line x1="714.74" y1="457.26" x2="717.26" y2="454.74"/></g>
<text x="727.00" y="459.20" font-size="9.0" fill="#1a1a1a" text-anchor="start" font-weight="normal" font-family='"Liberation Sans", sans-serif'>FMT</text>
<g shape-rendering="crispEdges">
<rect x="42.10" y="598.00" width="100.00" height="6.50" fill="#F8766D" stroke="none" stroke-width="1"/>
<rect x="42.10" y="607.50" width="5.06" height="14.52" fill="rgb(46,46,245)"/>
<rect x="46.86" y="607.50" width="5.06" height="14.52" fill="rgb(46,46,245)"/>
<rect x="51.62" y="607.50" width="5.06" height="14.52" fill="rgb(46,46,245)"/>
<rect x="56.39" y="607.50" width="5.06" height="14.52" fill="rgb(236,22,22)"/>
<rect x="61.15" y="607.50" width="5.06" height="14.52" fill="rgb(46,46,245)"/>
<rect x="65.91" y="607.50" width="5.06" height="14.52" fill="rgb(46,46,245)"/>
<rect x="70.67" y="607.50" width="5.06" height="14.52" fill="rgb(46,46,245)"/>
<rect x="75.43" y="607.50" width="5.06" height="14.52" fill="rgb(46,46,245)"/>
<rect x="80.20" y="607.50" width="5.06" height="14.52" fill="rgb(46,46,245)"/>
<rect x="84.96" y="607.50" width="5.06" height="14.52" fill="rgb(46,46,245)"/>
<rect x="89.72" y="607.50" width="5.06" height="14.52" fill="rgb(46,46,245)"/>
<rect x="94.48" y="607.50" width="5.06" height="14.52" fill="rgb(46,46,245)"/>
<rect x="99.24" y="607.50" width="5.06" height="14.52" fill="rgb(46,46,245)"/>
<rect x="104.00" y="607.50" width="5.06" height="14.52" fill="rgb(46,46,245)"/>
<rect x="108.77" y="607.50" width="5.06" height="14.52" fill="rgb(46,46,245)"/>
<rect x="113.53" y="607.50" width="5.06" height="14.52" fill="rgb(46,46,245)"/>
<rect x="118.29" y="607.50" width="5.06" height="14.52" fill="rgb(46,46,245)"/>
<rect x="123.05" y="607.50" width="5.06" height="14.52" fill="rgb(46,46,245)"/>
<rect x="127.81" y="607.50" width="5.06" height="14.52" fill="rgb(46,46,245)"/>
<rect x="132.58" y="607.50" width="5.06" height="14.52" fill="rgb(46,46,245)"/>
<rect x="137.34" y="607.50" width="5.06" height="14.52" fill="rgb(46,46,245)"/>
<rect x="42.10" y="621.72" width="5.06" height="14.52" fill="rgb(46,46,245)"/>
<rect x="46.86" y="621.72" width="5.06" height="14.52" fill="rgb(46,46,245)"/>
<rect x="51.62" y="621.72" width="5.06" height="14.52" fill="rgb(46,46,245)"/>
<rect x="56.39" y="621.72" width="5.06" height="14.52" fill="rgb(236,22,22)"/>
<rect x="61.15" y="621.72" width="5.06" height="14.52" fill="rgb(46,46,245)"/>
<rect x="65.91" y="621.72" width="5.06" height="14.52" fill="rgb(46,46,245)"/>
<rect x="70.67" y="621.72" width="5.06" height="14.52" fill="rgb(46,46,245)"/>
<rect x="75.43" y="621.72" width="5.06" height="14.52" fill="rgb(46,46,245)"/>
<rect x="80.20" y="621.72" width="5.06" height="14.52" fill="rgb(115,115,245)"/>
<rect x="84.96" y="621.72" width="5.06" height="14.52" fill="rgb(46,46,245)"/>
<rect x="89.72" y="621.72" width="5.06" height="14.52" fill="rgb(46,46,245)"/>
<rect x="94.48" y="621.72" width="5.06" height="14.52" fill="rgb(46,46,245)"/>
<rect x="99.24" y="621.72" width="5.06" height="14.52" fill="rgb(46,46,245)"/>
<rect x="104.00" y="621.72" width="5.06" height="14.52" fill="rgb(46,46,245)"/>
<rect x="108.77" y="621.72" width="5.06" height="14.52" fill="rgb(46,46,245)"/>
<rect x="113.53" y="621.72" width="5.06" height="14.52" fill="rgb(46,46,245)"/>
<rect x="118.29" y="621.72" width="5.06" height="14.52" fill="rgb(46,46,245)"/>
<rect x="123.05" y="621.72" width="5.06" height="14.52" fill="rgb(46,46,245)"/>
<rect x="127.81" y="621.72" width="5.06" height="14.52" fill="rgb(46,46,245)"/>
<rect x="132.58" y="621.72" width="5.06" height="14.52" fill="rgb(46,46,245)"/>
<rect x="137.34" y="621.72" width="5.06" height="14.52" fill="rgb(46,46,245)"/>
<rect x="42.10" y="635.94" width="5.06" height="14.52" fill="rgb(46,46,245)"/>
<rect x="46.86" y="635.94" width="5.06" height="14.52" fill="rgb(46,46,245)"/>
<rect x="51.62" y="635.94" width="5.06" height="14.52" fill="rgb(46,46,245)"/>
<rect x="56.39" y="635.94" width="5.06" height="14.52" fill="rgb(240,85,55)"/>
<rect x="61.15" y="635.94" width="5.06" height="14.52" fill="rgb(115,115,245)"/>
<rect x="65.91" y="635.94" width="5.06" height="14.52" fill="rgb(46,46,245)"/>
<rect x="70.67" y="635.94" width="5.06" height="14.52" fill="rgb(46,46,245)"/>
<rect x="75.43" y="635.94" width="5.06" height="14.52" fill="rgb(46,46,245)"/>
<rect x="80.20" y="635.94" width="5.06" height="14.52" fill="rgb(46,46,245)"/>
<rect x="84.96" y="635.94" width="5.06" height="14.52" fill="rgb(46,46,245)"/>
<rect x="89.72" y="635.94" width="5.06" height="14.52" fill="rgb(46,46,245)"/>
<rect x="94.48" y="635.94" width="5.06" height="14.52" fill="rgb(46,46,245)"/>
<rect x="99.24" y="635.94" width="5.06" height="14.52" fill="rgb(248,244,250)"/>
<rect x="104.00" y="635.94" width="5.06" height="14.52" fill="rgb(46,46,245)"/>
<rect x="108.77" y="635.94" width="5.06" height="14.52" fill="rgb(46,46,245)"/>
<rect x="113.53" y="635.94" width="5.06" height="14.52" fill="rgb(75,75,245)"/>
<rect x="118.29" y="635.94" width="5.06" height="14.52" fill="rgb(46,46,245)"/>
<rect x="123.05" y="635.94" width="5.06" height="14.52" fill="rgb(46,46,245)"/>
<rect x="127.81" y="635.94" width="5.06" height="14.52" fill="rgb(46,46,245)"/>
<rect x="132.58" y="635.94" width="5.06" height="14.52" fill="rgb(46,46,245)"/>
<rect x="137.34" y="635.94" width="5.06" height="14.52" fill="rgb(46,46,245)"/>
<rect x="42.10" y="650.16" width="5.06" height="14.52" fill="rgb(155,155,247)"/>
<rect x="46.86" y="650.16" width="5.06" height="14.52" fill="rgb(155,155,247)"/>
<rect x="51.62" y="650.16" width="5.06" height="14.52" fill="rgb(46,46,245)"/>
<rect x="56.39" y="650.16" width="5.06" height="14.52" fill="rgb(8,8,232)"/>
<rect x="61.15" y="650.16" width="5.06" height="14.52" fill="rgb(115,115,245)"/>
<rect x="65.91" y="650.16" width="5.06" height="14.52" fill="rgb(115,115,245)"/>
<rect x="70.67" y="650.16" width="5.06" height="14.52" fill="rgb(115,115,245)"/>
<rect x="75.43" y="650.16" width="5.06" height="14.52" fill="rgb(46,46,245)"/>
<rect x="80.20" y="650.16" width="5.06" height="14.52" fill="rgb(8,8,232)"/>
<rect x="84.96" y="650.16" width="5.06" height="14.52" fill="rgb(155,155,247)"/>
<rect x="89.72" y="650.16" width="5.06" height="14.52" fill="rgb(155,155,247)"/>
<rect x="94.48" y="650.16" width="5.06" height="14.52" fill="rgb(8,8,232)"/>
<rect x="99.24" y="650.16" width="5.06" height="14.52" fill="rgb(8,8,232)"/>
<rect x="104.00" y="650.16" width="5.06" height="14.52" fill="rgb(115,115,245)"/>
<rect x="108.77" y="650.16" width="5.06" height="14.52" fill="rgb(155,155,247)"/>
<rect x="113.53" y="650.16" width="5.06" height="14.52" fill="rgb(115,115,245)"/>
<rect x="118.29" y="650.16" width="5.06" height="14.52" fill="rgb(190,190,250)"/>
<rect x="123.05" y="650.16" width="5.06" height="14.52" fill="rgb(8,8,232)"/>
<rect x="127.81" y="650.16" width="5.06" height="14.52" fill="rgb(155,155,247)"/>
<rect x="132.58" y="650.16" width="5.06" height="14.52" fill="rgb(8,8,232)"/>
<rect x="137.34" y="650.16" width="5.06" height="14.52" fill="rgb(155,155,247)"/>
<rect x="42.10" y="664.38" width="5.06" height="14.52" fill="rgb(46,46,245)"/>
<rect x="46.86" y="664.38" width="5.06" height="14.52" fill="rgb(46,46,245)"/>
<rect x="51.62" y="664.38" width="5.06" height="14.52" fill="rgb(115,115,245)"/>
<rect x="56.39" y="664.38" width="5.06" height="14.52" fill="rgb(46,46,245)"/>
<rect x="61.15" y="664.38" width="5.06" height="14.52" fill="rgb(46,46,245)"/>
<rect x="65.91" y="664.38" width="5.06" height="14.52" fill="rgb(115,115,245)"/>
<rect x="70.67" y="664.38" width="5.06" height="14.52" fill="rgb(46,46,245)"/>
<rect x="75.43" y="664.38" width="5.06" height="14.52" fill="rgb(46,46,245)"/>
<rect x="80.20" y="664.38" width="5.06" height="14.52" fill="rgb(46,46,245)"/>
<rect x="84.96" y="664.38" width="5.06" height="14.52" fill="rgb(46,46,245)"/>
<rect x="89.72" y="664.38" width="5.06" height="14.52" fill="rgb(46,46,245)"/>
<rect x="94.48" y="664.38" width="5.06" height="14.52" fill="rgb(46,46,245)"/>
<rect x="99.24" y="664.38" width="5.06" height="14.52" fill="rgb(46,46,245)"/>
<rect x="104.00" y="664.38" width="5.06" height="14.52" fill="rgb(46,46,245)"/>
<rect x="108.77" y="664.38" width="5.06" height="14.52" fill="rgb(242,118,105)"/>
<rect x="113.53" y="664.38" width="5.06" height="14.52" fill="rgb(46,46,245)"/>
<rect x="118.29" y="664.38" width="5.06" height="14.52" fill="rgb(46,46,245)"/>
<rect x="123.05" y="664.38" width="5.06" height="14.52" fill="rgb(46,46,245)"/>
<rect x="127.81" y="664.38" width="5.06" height="14.52" fill="rgb(46,46,245)"/>
<rect x="132.58" y="664.38" width="5.06" height="14.52" fill="rgb(46,46,245)"/>
<rect x="137.34" y="664.38" width="5.06" height="14.52" fill="rgb(46,46,245)"/>
<rect x="42.10" y="682.70" width="5.06" height="14.66" fill="rgb(46,46,245)"/>
<rect x="46.86" y="682.70" width="5.06" height="14.66" fill="rgb(155,155,247)"/>
<rect x="51.62" y="682.70" width="5.06" height="14.66" fill="rgb(155,155,247)"/>
<rect x="56.39" y="682.70" width="5.06" height="14.66" fill="rgb(46,46,245)"/>
<rect x="61.15" y="682.70" width="5.06" height="14.66" fill="rgb(46,46,245)"/>
<rect x="65.91" y="682.70" width="5.06" height="14.66" fill="rgb(155,155,247)"/>
<rect x="70.67" y="682.70" width="5.06" height="14.66" fill="rgb(46,46,245)"/>
<rect x="75.43" y="682.70" width="5.06" height="14.66" fill="rgb(46,46,245)"/>
<rect x="80.20" y="682.70" width="5.06" height="14.66" fill="rgb(46,46,245)"/>
<rect x="84.96" y="682.70" width="5.06" height="14.66" fill="rgb(46,46,245)"/>
<rect x="89.72" y="682.70" width="5.06" height="14.66" fill="rgb(46,46,245)"/>
<rect x="94.48" y="682.70" width="5.06" height="14.66" fill="rgb(46,46,245)"/>
<rect x="99.24" y="682.70" width="5.06" height="14.66" fill="rgb(46,46,245)"/>
<rect x="104.00" y="682.70" width="5.06" height="14.66" fill="rgb(46,46,245)"/>
<rect x="108.77" y="682.70" width="5.06" height="14.66" fill="rgb(46,46,245)"/>
<rect x="113.53" y="682.70" width="5.06" height="14.66" fill="rgb(115,115,245)"/>
<rect x="118.29" y="682.70" width="5.06" height="14.66" fill="rgb(46,46,245)"/>
<rect x="123.05" y="682.70" width="5.06" height="14.66" fill="rgb(46,46,245)"/>
<rect x="127.81" y="682.70" width="5.06" height="14.66" fill="rgb(46,46,245)"/>
<rect x="132.58" y="682.70" width="5.06" height="14.66" fill="rgb(46,46,245)"/>
<rect x="137.34" y="682.70" width="5.06" height="14.66" fill="rgb(115,115,245)"/>
<rect x="42.10" y="697.06" width="5.06" height="14.66" fill="rgb(8,8,232)"/>
<rect x="46.86" y="697.06" width="5.06" height="14.66" fill="rgb(8,8,232)"/>
<rect x="51.62" y="697.06" width="5.06" height="14.66" fill="rgb(8,8,232)"/>
<rect x="56.39" y="697.06" width="5.06" height="14.66" fill="rgb(8,8,232)"/>
<rect x="61.15" y="697.06" width="5.06" height="14.66" fill="rgb(8,8,232)"/>
<rect x="65.91" y="697.06" width="5.06" height="14.66" fill="rgb(8,8,232)"/>
<rect x="70.67" y="697.06" width="5.06" height="14.66" fill="rgb(75,75,245)"/>
<rect x="75.43" y="697.06" width="5.06" height="14.66" fill="rgb(8,8,232)"/>
<rect x="80.20" y="697.06" width="5.06" height="14.66" fill="rgb(8,8,232)"/>
<rect x="84.96" y="697.06" width="5.06" height="14.66" fill="rgb(155,155,247)"/>
<rect x="89.72" y="697.06" width="5.06" height="14.66" fill="rgb(155,155,247)"/>
<rect x="94.48" y="697.06" width="5.06" height="14.66" fill="rgb(8,8,232)"/>
<rect x="99.24" y="697.06" width="5.06" height="14.66" fill="rgb(8,8,232)"/>
<rect x="104.00" y="697.06" width="5.06" height="14.66" fill="rgb(115,115,245)"/>
<rect x="108.77" y="697.06" width="5.06" height="14.66" fill="rgb(8,8,232)"/>
<rect x="113.53" y="697.06" width="5.06" height="14.66" fill="rgb(8,8,232)"/>
<rect x="118.29" y="697.06" width="5.06" height="14.66" fill="rgb(8,8,232)"/>
<rect x="123.05" y="697.06" width="5.06" height="14.66" fill="rgb(8,8,232)"/>
<rect x="127.81" y="697.06" width="5.06" height="14.66" fill="rgb(8,8,232)"/>
<rect x="132.58" y="697.06" width="5.06" height="14.66" fill="rgb(190,190,250)"/>
<rect x="137.34" y="697.06" width="5.06" height="14.66" fill="rgb(8,8,232)"/>
<rect x="42.10" y="711.42" width="5.06" height="14.66" fill="rgb(46,46,245)"/>
<rect x="46.86" y="711.42" width="5.06" height="14.66" fill="rgb(75,75,245)"/>
<rect x="51.62" y="711.42" width="5.06" height="14.66" fill="rgb(75,75,245)"/>
<rect x="56.39" y="711.42" width="5.06" height="14.66" fill="rgb(46,46,245)"/>
<rect x="61.15" y="711.42" width="5.06" height="14.66" fill="rgb(46,46,245)"/>
<rect x="65.91" y="711.42" width="5.06" height="14.66" fill="rgb(46,46,245)"/>
<rect x="70.67" y="711.42" width="5.06" height="14.66" fill="rgb(46,46,245)"/>
<rect x="75.43" y="711.42" width="5.06" height="14.66" fill="rgb(46,46,245)"/>
<rect x="80.20" y="711.42" width="5.06" height="14.66" fill="rgb(46,46,245)"/>
<rect x="84.96" y="711.42" width="5.06" height="14.66" fill="rgb(46,46,245)"/>
<rect x="89.72" y="711.42" width="5.06" height="14.66" fill="rgb(46,46,245)"/>
<rect x="94.48" y="711.42" width="5.06" height="14.66" fill="rgb(46,46,245)"/>
<rect x="99.24" y="711.42" width="5.06" height="14.66" fill="rgb(46,46,245)"/>
<rect x="104.00" y="711.42" width="5.06" height="14.66" fill="rgb(46,46,245)"/>
<rect x="108.77" y="711.42" width="5.06" height="14.66" fill="rgb(46,46,245)"/>
<rect x="113.53" y="711.42" width="5.06" height="14.66" fill="rgb(46,46,245)"/>
<rect x="118.29" y="711.42" width="5.06" height="14.66" fill="rgb(46,46,245)"/>
<rect x="123.05" y="711.42" width="5.06" height="14.66" fill="rgb(46,46,245)"/>
<rect x="127.81" y="711.42" width="5.06" height="14.66" fill="rgb(46,46,245)"/>
<rect x="132.58" y="711.42" width="5.06" height="14.66" fill="rgb(46,46,245)"/>
<rect x="137.34" y="711.42" width="5.06" height="14.66" fill="rgb(46,46,245)"/>
<rect x="42.10" y="725.78" width="5.06" height="14.66" fill="rgb(46,46,245)"/>
<rect x="46.86" y="725.78" width="5.06" height="14.66" fill="rgb(46,46,245)"/>
<rect x="51.62" y="725.78" width="5.06" height="14.66" fill="rgb(46,46,245)"/>
<rect x="56.39" y="725.78" width="5.06" height="14.66" fill="rgb(46,46,245)"/>
<rect x="61.15" y="725.78" width="5.06" height="14.66" fill="rgb(46,46,245)"/>
<rect x="65.91" y="725.78" width="5.06" height="14.66" fill="rgb(46,46,245)"/>
<rect x="70.67" y="725.78" width="5.06" height="14.66" fill="rgb(46,46,245)"/>
<rect x="75.43" y="725.78" width="5.06" height="14.66" fill="rgb(46,46,245)"/>
<rect x="80.20" y="725.78" width="5.06" height="14.66" fill="rgb(46,46,245)"/>
<rect x="84.96" y="725.78" width="5.06" height="14.66" fill="rgb(46,46,245)"/>
<rect x="89.72" y="725.78" width="5.06" height="14.66" fill="rgb(46,46,245)"/>
<rect x="94.48" y="725.78" width="5.06" height="14.66" fill="rgb(46,46,245)"/>
<rect x="99.24" y="725.78" width="5.06" height="14.66" fill="rgb(46,46,245)"/>
<rect x="104.00" y="725.78" width="5.06" height="14.66" fill="rgb(46,46,245)"/>
<rect x="108.77" y="725.78" width="5.06" height="14.66" fill="rgb(46,46,245)"/>
<rect x="113.53" y="725.78" width="5.06" height="14.66" fill="rgb(46,46,245)"/>
<rect x="118.29" y="725.78" width="5.06" height="14.66" fill="rgb(46,46,245)"/>
<rect x="123.05" y="725.78" width="5.06" height="14.66" fill="rgb(46,46,245)"/>
<rect x="127.81" y="725.78" width="5.06" height="14.66" fill="rgb(46,46,245)"/>
<rect x="132.58" y="725.78" width="5.06" height="14.66" fill="rgb(46,46,245)"/>
<rect x="137.34" y="725.78" width="5.06" height="14.66" fill="rgb(46,46,245)"/>
<rect x="42.10" y="740.14" width="5.06" height="14.66" fill="rgb(46,46,245)"/>
<rect x="46.86" y="740.14" width="5.06" height="14.66" fill="rgb(46,46,245)"/>
<rect x="51.62" y="740.14" width="5.06" height="14.66" fill="rgb(46,46,245)"/>
<rect x="56.39" y="740.14" width="5.06" height="14.66" fill="rgb(46,46,245)"/>
<rect x="61.15" y="740.14" width="5.06" height="14.66" fill="rgb(46,46,245)"/>
<rect x="65.91" y="740.14" width="5.06" height="14.66" fill="rgb(46,46,245)"/>
<rect x="70.67" y="740.14" width="5.06" height="14.66" fill="rgb(46,46,245)"/>
<rect x="75.43" y="740.14" width="5.06" height="14.66" fill="rgb(46,46,245)"/>
<rect x="80.20" y="740.14" width="5.06" height="14.66" fill="rgb(46,46,245)"/>
<rect x="84.96" y="740.14" width="5.06" height="14.66" fill="rgb(46,46,245)"/>
<rect x="89.72" y="740.14" width="5.06" height="14.66" fill="rgb(46,46,245)"/>
<rect x="94.48" y="740.14" width="5.06" height="14.66" fill="rgb(46,46,245)"/>
<rect x="99.24" y="740.14" width="5.06" height="14.66" fill="rgb(46,46,245)"/>
<rect x="104.00" y="740.14" width="5.06" height="14.66" fill="rgb(46,46,245)"/>
<rect x="108.77" y="740.14" width="5.06" height="14.66" fill="rgb(46,46,245)"/>
<rect x="113.53" y="740.14" width="5.06" height="14.66" fill="rgb(46,46,245)"/>
<rect x="118.29" y="740.14" width="5.06" height="14.66" fill="rgb(46,46,245)"/>
<rect x="123.05" y="740.14" width="5.06" height="14.66" fill="rgb(46,46,245)"/>
<rect x="127.81" y="740.14" width="5.06" height="14.66" fill="rgb(46,46,245)"/>
<rect x="132.58" y="740.14" width="5.06" height="14.66" fill="rgb(46,46,245)"/>
<rect x="137.34" y="740.14" width="5.06" height="14.66" fill="rgb(46,46,245)"/>
<rect x="146.40" y="598.00" width="95.50" height="6.50" fill="#A3A500" stroke="none" stroke-width="1"/>
<rect x="146.40" y="607.50" width="5.08" height="14.52" fill="rgb(46,46,245)"/>
<rect x="151.18" y="607.50" width="5.08" height="14.52" fill="rgb(46,46,245)"/>
<rect x="155.95" y="607.50" width="5.08" height="14.52" fill="rgb(46,46,245)"/>
<rect x="160.72" y="607.50" width="5.08" height="14.52" fill="rgb(46,46,245)"/>
<rect x="165.50" y="607.50" width="5.08" height="14.52" fill="rgb(46,46,245)"/>
<rect x="170.28" y="607.50" width="5.08" height="14.52" fill="rgb(46,46,245)"/>
<rect x="175.05" y="607.50" width="5.08" height="14.52" fill="rgb(46,46,245)"/>
<rect x="179.83" y="607.50" width="5.08" height="14.52" fill="rgb(46,46,245)"/>
<rect x="184.60" y="607.50" width="5.08" height="14.52" fill="rgb(46,46,245)"/>
<rect x="189.38" y="607.50" width="5.08" height="14.52" fill="rgb(46,46,245)"/>
<rect x="194.15" y="607.50" width="5.08" height="14.52" fill="rgb(46,46,245)"/>
<rect x="198.93" y="607.50" width="5.08" height="14.52" fill="rgb(46,46,245)"/>
<rect x="203.70" y="607.50" width="5.08" height="14.52" fill="rgb(46,46,245)"/>
<rect x="208.48" y="607.50" width="5.08" height="14.52" fill="rgb(46,46,245)"/>
<rect x="213.25" y="607.50" width="5.08" height="14.52" fill="rgb(46,46,245)"/>
<rect x="218.03" y="607.50" width="5.08" height="14.52" fill="rgb(46,46,245)"/>
<rect x="222.80" y="607.50" width="5.08" height="14.52" fill="rgb(46,46,245)"/>
<rect x="227.58" y="607.50" width="5.08" height="14.52" fill="rgb(46,46,245)"/>
<rect x="232.35" y="607.50" width="5.08" height="14.52" fill="rgb(46,46,245)"/>
<rect x="237.12" y="607.50" width="5.08" height="14.52" fill="rgb(46,46,245)"/>
<rect x="146.40" y="621.72" width="5.08" height="14.52" fill="rgb(46,46,245)"/>
<rect x="151.18" y="621.72" width="5.08" height="14.52" fill="rgb(46,46,245)"/>
<rect x="155.95" y="621.72" width="5.08" height="14.52" fill="rgb(46,46,245)"/>
<rect x="160.72" y="621.72" width="5.08" height="14.52" fill="rgb(46,46,245)"/>
<rect x="165.50" y="621.72" width="5.08" height="14.52" fill="rgb(46,46,245)"/>
<rect x="170.28" y="621.72" width="5.08" height="14.52" fill="rgb(46,46,245)"/>
<rect x="175.05" y="621.72" width="5.08" height="14.52" fill="rgb(46,46,245)"/>
<rect x="179.83" y="621.72" width="5.08" height="14.52" fill="rgb(190,190,250)"/>
<rect x="184.60" y="621.72" width="5.08" height="14.52" fill="rgb(46,46,245)"/>
<rect x="189.38" y="621.72" width="5.08" height="14.52" fill="rgb(46,46,245)"/>
<rect x="194.15" y="621.72" width="5.08" height="14.52" fill="rgb(46,46,245)"/>
<rect x="198.93" y="621.72" width="5.08" height="14.52" fill="rgb(46,46,245)"/>
<rect x="203.70" y="621.72" width="5.08" height="14.52" fill="rgb(46,46,245)"/>
<rect x="208.48" y="621.72" width="5.08" height="14.52" fill="rgb(46,46,245)"/>
<rect x="213.25" y="621.72" width="5.08" height="14.52" fill="rgb(46,46,245)"/>
<rect x="218.03" y="621.72" width="5.08" height="14.52" fill="rgb(46,46,245)"/>
<rect x="222.80" y="621.72" width="5.08" height="14.52" fill="rgb(46,46,245)"/>
<rect x="227.58" y="621.72" width="5.08" height="14.52" fill="rgb(46,46,245)"/>
<rect x="232.35" y="621.72" width="5.08" height="14.52" fill="rgb(46,46,245)"/>
<rect x="237.12" y="621.72" width="5.08" height="14.52" fill="rgb(46,46,245)"/>
<rect x="146.40" y="635.94" width="5.08" height="14.52" fill="rgb(46,46,245)"/>
<rect x="151.18" y="635.94" width="5.08" height="14.52" fill="rgb(46,46,245)"/>
<rect x="155.95" y="635.94" width="5.08" height="14.52" fill="rgb(46,46,245)"/>
<rect x="160.72" y="635.94" width="5.08" height="14.52" fill="rgb(46,46,245)"/>
<rect x="165.50" y="635.94" width="5.08" height="14.52" fill="rgb(46,46,245)"/>
<rect x="170.28" y="635.94" width="5.08" height="14.52" fill="rgb(46,46,245)"/>
<rect x="175.05" y="635.94" width="5.08" height="14.52" fill="rgb(46,46,245)"/>
<rect x="179.83" y="635.94" width="5.08" height="14.52" fill="rgb(46,46,245)"/>
<rect x="184.60" y="635.94" width="5.08" height="14.52" fill="rgb(46,46,245)"/>
<rect x="189.38" y="635.94" width="5.08" height="14.52" fill="rgb(46,46,245)"/>
<rect x="194.15" y="635.94" width="5.08" height="14.52" fill="rgb(46,46,245)"/>
<rect x="198.93" y="635.94" width="5.08" height="14.52" fill="rgb(46,46,245)"/>
<rect x="203.70" y="635.94" width="5.08" height="14.52" fill="rgb(115,115,245)"/>
<rect x="208.48" y="635.94" width="5.08" height="14.52" fill="rgb(46,46,245)"/>
<rect x="213.25" y="635.94" width="5.08" height="14.52" fill="rgb(46,46,245)"/>
<rect x="218.03" y="635.94" width="5.08" height="14.52" fill="rgb(46,46,245)"/>
<rect x="222.80" y="635.94" width="5.08" height="14.52" fill="rgb(46,46,245)"/>
<rect x="227.58" y="635.94" width="5.08" height="14.52" fill="rgb(46,46,245)"/>
<rect x="232.35" y="635.94" width="5.08" height="14.52" fill="rgb(46,46,245)"/>
<rect x="237.12" y="635.94" width="5.08" height="14.52" fill="rgb(46,46,245)"/>
<rect x="146.40" y="650.16" width="5.08" height="14.52" fill="rgb(8,8,232)"/>
<rect x="151.18" y="650.16" width="5.08" height="14.52" fill="rgb(46,46,245)"/>
<rect x="155.95" y="650.16" width="5.08" height="14.52" fill="rgb(115,115,245)"/>
<rect x="160.72" y="650.16" width="5.08" height="14.52" fill="rgb(46,46,245)"/>
<rect x="165.50" y="650.16" width="5.08" height="14.52" fill="rgb(75,75,245)"/>
<rect x="170.28" y="650.16" width="5.08" height="14.52" fill="rgb(75,75,245)"/>
<rect x="175.05" y="650.16" width="5.08" height="14.52" fill="rgb(8,8,232)"/>
<rect x="179.83" y="650.16" width="5.08" height="14.52" fill="rgb(8,8,232)"/>
<rect x="184.60" y="650.16" width="5.08" height="14.52" fill="rgb(115,115,245)"/>
<rect x="189.38" y="650.16" width="5.08" height="14.52" fill="rgb(8,8,232)"/>
<rect x="194.15" y="650.16" width="5.08" height="14.52" fill="rgb(222,222,252)"/>
<rect x="198.93" y="650.16" width="5.08" height="14.52" fill="rgb(46,46,245)"/>
<rect x="203.70" y="650.16" width="5.08" height="14.52" fill="rgb(46,46,245)"/>
<rect x="208.48" y="650.16" width="5.08" height="14.52" fill="rgb(8,8,232)"/>
<rect x="213.25" y="650.16" width="5.08" height="14.52" fill="rgb(46,46,245)"/>
<rect x="218.03" y="650.16" width="5.08" height="14.52" fill="rgb(46,46,245)"/>
<rect x="222.80" y="650.16" width="5.08" height="14.52" fill="rgb(46,46,245)"/>
<rect x="227.58" y="650.16" width="5.08" height="14.52" fill="rgb(115,115,245)"/>
<rect x="232.35" y="650.16" width="5.08" height="14.52" fill="rgb(8,8,232)"/>
<rect x="237.12" y="650.16" width="5.08" height="14.52" fill="rgb(115,115,245)"/>
<rect x="146.40" y="664.38" width="5.08" height="14.52" fill="rgb(46,46,245)"/>
<rect x="151.18" y="664.38" width="5.08" height="14.52" fill="rgb(75,75,245)"/>
<rect x="155.95" y="664.38" width="5.08" height="14.52" fill="rgb(46,46,245)"/>
<rect x="160.72" y="664.38" width="5.08" height="14.52" fill="rgb(46,46,245)"/>
<rect x="165.50" y="664.38" width="5.08" height="14.52" fill="rgb(155,155,247)"/>
<rect x="170.28" y="664.38" width="5.08" height="14.52" fill="rgb(248,244,250)"/>
<rect x="175.05" y="664.38" width="5.08" height="14.52" fill="rgb(46,46,245)"/>
<rect x="179.83" y="664.38" width="5.08" height="14.52" fill="rgb(46,46,245)"/>
<rect x="184.60" y="664.38" width="5.08" height="14.52" fill="rgb(46,46,245)"/>
<rect x="189.38" y="664.38" width="5.08" height="14.52" fill="rgb(46,46,245)"/>
<rect x="194.15" y="664.38" width="5.08" height="14.52" fill="rgb(46,46,245)"/>
<rect x="198.93" y="664.38" width="5.08" height="14.52" fill="rgb(46,46,245)"/>
<rect x="203.70" y="664.38" width="5.08" height="14.52" fill="rgb(46,46,245)"/>
<rect x="208.48" y="664.38" width="5.08" height="14.52" fill="rgb(75,75,245)"/>
<rect x="213.25" y="664.38" width="5.08" height="14.52" fill="rgb(46,46,245)"/>
<rect x="218.03" y="664.38" width="5.08" height="14.52" fill="rgb(46,46,245)"/>
<rect x="222.80" y="664.38" width="5.08" height="14.52" fill="rgb(46,46,245)"/>
<rect x="227.58" y="664.38" width="5.08" height="14.52" fill="rgb(75,75,245)"/>
<rect x="232.35" y="664.38" width="5.08" height="14.52" fill="rgb(46,46,245)"/>
<rect x="237.12" y="664.38" width="5.08" height="14.52" fill="rgb(46,46,245)"/>
<rect x="146.40" y="682.70" width="5.08" height="14.66" fill="rgb(8,8,232)"/>
<rect x="151.18" y="682.70" width="5.08" height="14.66" fill="rgb(115,115,245)"/>
<rect x="155.95" y="682.70" width="5.08" height="14.66" fill="rgb(8,8,232)"/>
<rect x="160.72" y="682.70" width="5.08" height="14.66" fill="rgb(250,218,215)"/>
<rect x="165.50" y="682.70" width="5.08" height="14.66" fill="rgb(75,75,245)"/>
<rect x="170.28" y="682.70" width="5.08" height="14.66" fill="rgb(75,75,245)"/>
<rect x="175.05" y="682.70" width="5.08" height="14.66" fill="rgb(8,8,232)"/>
<rect x="179.83" y="682.70" width="5.08" height="14.66" fill="rgb(75,75,245)"/>
<rect x="184.60" y="682.70" width="5.08" height="14.66" fill="rgb(75,75,245)"/>
<rect x="189.38" y="682.70" width="5.08" height="14.66" fill="rgb(46,46,245)"/>
<rect x="194.15" y="682.70" width="5.08" height="14.66" fill="rgb(46,46,245)"/>
<rect x="198.93" y="682.70" width="5.08" height="14.66" fill="rgb(46,46,245)"/>
<rect x="203.70" y="682.70" width="5.08" height="14.66" fill="rgb(46,46,245)"/>
<rect x="208.48" y="682.70" width="5.08" height="14.66" fill="rgb(75,75,245)"/>
<rect x="213.25" y="682.70" width="5.08" height="14.66" fill="rgb(46,46,245)"/>
<rect x="218.03" y="682.70" width="5.08" height="14.66" fill="rgb(46,46,245)"/>
<rect x="222.80" y="682.70" width="5.08" height="14.66" fill="rgb(46,46,245)"/>
<rect x="227.58" y="682.70" width="5.08" height="14.66" fill="rgb(46,46,245)"/>
<rect x="232.35" y="682.70" width="5.08" height="14.66" fill="rgb(46,46,245)"/>
<rect x="237.12" y="682.70" width="5.08" height="14.66" fill="rgb(190,190,250)"/>
<rect x="146.40" y="697.06" width="5.08" height="14.66" fill="rgb(8,8,232)"/>
<rect x="151.18" y="697.06" width="5.08" height="14.66" fill="rgb(75,75,245)"/>
<rect x="155.95" y="697.06" width="5.08" height="14.66" fill="rgb(8,8,232)"/>
<rect x="160.72" y="697.06" width="5.08" height="14.66" fill="rgb(75,75,245)"/>
<rect x="165.50" y="697.06" width="5.08" height="14.66" fill="rgb(8,8,232)"/>
<rect x="170.28" y="697.06" width="5.08" height="14.66" fill="rgb(8,8,232)"/>
<rect x="175.05" y="697.06" width="5.08" height="14.66" fill="rgb(115,115,245)"/>
<rect x="179.83" y="697.06" width="5.08" height="14.66" fill="rgb(8,8,232)"/>
<rect x="184.60" y="697.06" width="5.08" height="14.66" fill="rgb(8,8,232)"/>
<rect x="189.38" y="697.06" width="5.08" height="14.66" fill="rgb(155,155,247)"/>
<rect x="194.15" y="697.06" width="5.08" height="14.66" fill="rgb(8,8,232)"/>
<rect x="198.93" y="697.06" width="5.08" height="14.66" fill="rgb(115,115,245)"/>
<rect x="203.70" y="697.06" width="5.08" height="14.66" fill="rgb(115,115,245)"/>
<rect x="208.48" y="697.06" width="5.08" height="14.66" fill="rgb(8,8,232)"/>
<rect x="213.25" y="697.06" width="5.08" height="14.66" fill="rgb(8,8,232)"/>
<rect x="218.03" y="697.06" width="5.08" height="14.66" fill="rgb(8,8,232)"/>
<rect x="222.80" y="697.06" width="5.08" height="14.66" fill="rgb(115,115,245)"/>
<rect x="227.58" y="697.06" width="5.08" height="14.66" fill="rgb(115,115,245)"/>
<rect x="232.35" y="697.06" width="5.08" height="14.66" fill="rgb(190,190,250)"/>
<rect x="237.12" y="697.06" width="5.08" height="14.66" fill="rgb(8,8,232)"/>
<rect x="146.40" y="711.42" width="5.08" height="14.66" fill="rgb(46,46,245)"/>
<rect x="151.18" y="711.42" width="5.08" height="14.66" fill="rgb(155,155,247)"/>
<rect x="155.95" y="711.42" width="5.08" height="14.66" fill="rgb(46,46,245)"/>
<rect x="160.72" y="711.42" width="5.08" height="14.66" fill="rgb(46,46,245)"/>
<rect x="165.50" y="711.42" width="5.08" height="14.66" fill="rgb(46,46,245)"/>
<rect x="170.28" y="711.42" width="5.08" height="14.66" fill="rgb(46,46,245)"/>
<rect x="175.05" y="711.42" width="5.08" height="14.66" fill="rgb(115,115,245)"/>
<rect x="179.83" y="711.42" width="5.08" height="14.66" fill="rgb(46,46,245)"/>
<rect x="184.60" y="711.42" width="5.08" height="14.66" fill="rgb(46,46,245)"/>
<rect x="189.38" y="711.42" width="5.08" height="14.66" fill="rgb(115,115,245)"/>
<rect x="194.15" y="711.42" width="5.08" height="14.66" fill="rgb(46,46,245)"/>
<rect x="198.93" y="711.42" width="5.08" height="14.66" fill="rgb(46,46,245)"/>
<rect x="203.70" y="711.42" width="5.08" height="14.66" fill="rgb(46,46,245)"/>
<rect x="208.48" y="711.42" width="5.08" height="14.66" fill="rgb(115,115,245)"/>
<rect x="213.25" y="711.42" width="5.08" height="14.66" fill="rgb(46,46,245)"/>
<rect x="218.03" y="711.42" width="5.08" height="14.66" fill="rgb(46,46,245)"/>
<rect x="222.80" y="711.42" width="5.08" height="14.66" fill="rgb(46,46,245)"/>
<rect x="227.58" y="711.42" width="5.08" height="14.66" fill="rgb(46,46,245)"/>
<rect x="232.35" y="711.42" width="5.08" height="14.66" fill="rgb(46,46,245)"/>
<rect x="237.12" y="711.42" width="5.08" height="14.66" fill="rgb(46,46,245)"/>
<rect x="146.40" y="725.78" width="5.08" height="14.66" fill="rgb(46,46,245)"/>
<rect x="151.18" y="725.78" width="5.08" height="14.66" fill="rgb(46,46,245)"/>
<rect x="155.95" y="725.78" width="5.08" height="14.66" fill="rgb(46,46,245)"/>
<rect x="160.72" y="725.78" width="5.08" height="14.66" fill="rgb(46,46,245)"/>
<rect x="165.50" y="725.78" width="5.08" height="14.66" fill="rgb(46,46,245)"/>
<rect x="170.28" y="725.78" width="5.08" height="14.66" fill="rgb(46,46,245)"/>
<rect x="175.05" y="725.78" width="5.08" height="14.66" fill="rgb(46,46,245)"/>
<rect x="179.83" y="725.78" width="5.08" height="14.66" fill="rgb(46,46,245)"/>
<rect x="184.60" y="725.78" width="5.08" height="14.66" fill="rgb(46,46,245)"/>
<rect x="189.38" y="725.78" width="5.08" height="14.66" fill="rgb(46,46,245)"/>
<rect x="194.15" y="725.78" width="5.08" height="14.66" fill="rgb(46,46,245)"/>
<rect x="198.93" y="725.78" width="5.08" height="14.66" fill="rgb(46,46,245)"/>
<rect x="203.70" y="725.78" width="5.08" height="14.66" fill="rgb(115,115,245)"/>
<rect x="208.48" y="725.78" width="5.08" height="14.66" fill="rgb(248,244,250)"/>
<rect x="213.25" y="725.78" width="5.08" height="14.66" fill="rgb(46,46,245)"/>
<rect x="218.03" y="725.78" width="5.08" height="14.66" fill="rgb(46,46,245)"/>
<rect x="222.80" y="725.78" width="5.08" height="14.66" fill="rgb(242,118,105)"/>
<rect x="227.58" y="725.78" width="5.08" height="14.66" fill="rgb(46,46,245)"/>
<rect x="232.35" y="725.78" width="5.08" height="14.66" fill="rgb(46,46,245)"/>
<rect x="237.12" y="725.78" width="5.08" height="14.66" fill="rgb(46,46,245)"/>
<rect x="146.40" y="740.14" width="5.08" height="14.66" fill="rgb(46,46,245)"/>
<rect x="151.18" y="740.14" width="5.08" height="14.66" fill="rgb(46,46,245)"/>
<rect x="155.95" y="740.14" width="5.08" height="14.66" fill="rgb(46,46,245)"/>
<rect x="160.72" y="740.14" width="5.08" height="14.66" fill="rgb(46,46,245)"/>
<rect x="165.50" y="740.14" width="5.08" height="14.66" fill="rgb(46,46,245)"/>
<rect x="170.28" y="740.14" width="5.08" height="14.66" fill="rgb(46,46,245)"/>
<rect x="175.05" y="740.14" width="5.08" height="14.66" fill="rgb(46,46,245)"/>
<rect x="179.83" y="740.14" width="5.08" height="14.66" fill="rgb(46,46,245)"/>
<rect x="184.60" y="740.14" width="5.08" height="14.66" fill="rgb(46,46,245)"/>
<rect x="189.38" y="740.14" width="5.08" height="14.66" fill="rgb(46,46,245)"/>
<rect x="194.15" y="740.14" width="5.08" height="14.66" fill="rgb(46,46,245)"/>
<rect x="198.93" y="740.14" width="5.08" height="14.66" fill="rgb(46,46,245)"/>
<rect x="203.70" y="740.14" width="5.08" height="14.66" fill="rgb(46,46,245)"/>
<rect x="208.48" y="740.14" width="5.08" height="14.66" fill="rgb(46,46,245)"/>
<rect x="213.25" y="740.14" width="5.08" height="14.66" fill="rgb(46,46,245)"/>
<rect x="218.03" y="740.14" width="5.08" height="14.66" fill="rgb(46,46,245)"/>
<rect x="222.80" y="740.14" width="5.08" height="14.66" fill="rgb(46,46,245)"/>
<rect x="227.58" y="740.14" width="5.08" height="14.66" fill="rgb(46,46,245)"/>
<rect x="232.35" y="740.14" width="5.08" height="14.66" fill="rgb(46,46,245)"/>
<rect x="237.12" y="740.14" width="5.08" height="14.66" fill="rgb(46,46,245)"/>
<rect x="245.90" y="598.00" width="80.90" height="6.50" fill="#00BF7D" stroke="none" stroke-width="1"/>
<rect x="245.90" y="607.50" width="5.06" height="14.52" fill="rgb(46,46,245)"/>
<rect x="250.66" y="607.50" width="5.06" height="14.52" fill="rgb(46,46,245)"/>
<rect x="255.42" y="607.50" width="5.06" height="14.52" fill="rgb(46,46,245)"/>
<rect x="260.18" y="607.50" width="5.06" height="14.52" fill="rgb(46,46,245)"/>
<rect x="264.94" y="607.50" width="5.06" height="14.52" fill="rgb(46,46,245)"/>
<rect x="269.69" y="607.50" width="5.06" height="14.52" fill="rgb(46,46,245)"/>
<rect x="274.45" y="607.50" width="5.06" height="14.52" fill="rgb(46,46,245)"/>
<rect x="279.21" y="607.50" width="5.06" height="14.52" fill="rgb(46,46,245)"/>
<rect x="283.97" y="607.50" width="5.06" height="14.52" fill="rgb(46,46,245)"/>
<rect x="288.73" y="607.50" width="5.06" height="14.52" fill="rgb(46,46,245)"/>
<rect x="293.49" y="607.50" width="5.06" height="14.52" fill="rgb(46,46,245)"/>
<rect x="298.25" y="607.50" width="5.06" height="14.52" fill="rgb(46,46,245)"/>
<rect x="303.01" y="607.50" width="5.06" height="14.52" fill="rgb(46,46,245)"/>
<rect x="307.76" y="607.50" width="5.06" height="14.52" fill="rgb(46,46,245)"/>
<rect x="312.52" y="607.50" width="5.06" height="14.52" fill="rgb(46,46,245)"/>
<rect x="317.28" y="607.50" width="5.06" height="14.52" fill="rgb(46,46,245)"/>
<rect x="322.04" y="607.50" width="5.06" height="14.52" fill="rgb(46,46,245)"/>
<rect x="245.90" y="621.72" width="5.06" height="14.52" fill="rgb(46,46,245)"/>
<rect x="250.66" y="621.72" width="5.06" height="14.52" fill="rgb(46,46,245)"/>
<rect x="255.42" y="621.72" width="5.06" height="14.52" fill="rgb(46,46,245)"/>
<rect x="260.18" y="621.72" width="5.06" height="14.52" fill="rgb(46,46,245)"/>
<rect x="264.94" y="621.72" width="5.06" height="14.52" fill="rgb(46,46,245)"/>
<rect x="269.69" y="621.72" width="5.06" height="14.52" fill="rgb(46,46,245)"/>
<rect x="274.45" y="621.72" width="5.06" height="14.52" fill="rgb(46,46,245)"/>
<rect x="279.21" y="621.72" width="5.06" height="14.52" fill="rgb(46,46,245)"/>
<rect x="283.97" y="621.72" width="5.06" height="14.52" fill="rgb(46,46,245)"/>
<rect x="288.73" y="621.72" width="5.06" height="14.52" fill="rgb(46,46,245)"/>
<rect x="293.49" y="621.72" width="5.06" height="14.52" fill="rgb(46,46,245)"/>
<rect x="298.25" y="621.72" width="5.06" height="14.52" fill="rgb(46,46,245)"/>
<rect x="303.01" y="621.72" width="5.06" height="14.52" fill="rgb(46,46,245)"/>
<rect x="307.76" y="621.72" width="5.06" height="14.52" fill="rgb(46,46,245)"/>
<rect x="312.52" y="621.72" width="5.06" height="14.52" fill="rgb(46,46,245)"/>
<rect x="317.28" y="621.72" width="5.06" height="14.52" fill="rgb(46,46,245)"/>
<rect x="322.04" y="621.72" width="5.06" height="14.52" fill="rgb(46,46,245)"/>
<rect x="245.90" y="635.94" width="5.06" height="14.52" fill="rgb(46,46,245)"/>
<rect x="250.66" y="635.94" width="5.06" height="14.52" fill="rgb(115,115,245)"/>
<rect x="255.42" y="635.94" width="5.06" height="14.52" fill="rgb(46,46,245)"/>
<rect x="260.18" y="635.94" width="5.06" height="14.52" fill="rgb(46,46,245)"/>
<rect x="264.94" y="635.94" width="5.06" height="14.52" fill="rgb(46,46,245)"/>
<rect x="269.69" y="635.94" width="5.06" height="14.52" fill="rgb(46,46,245)"/>
<rect x="274.45" y="635.94" width="5.06" height="14.52" fill="rgb(46,46,245)"/>
<rect x="279.21" y="635.94" width="5.06" height="14.52" fill="rgb(46,46,245)"/>
<rect x="283.97" y="635.94" width="5.06" height="14.52" fill="rgb(46,46,245)"/>
<rect x="288.73" y="635.94" width="5.06" height="14.52" fill="rgb(46,46,245)"/>
<rect x="293.49" y="635.94" width="5.06" height="14.52" fill="rgb(46,46,245)"/>
<rect x="298.25" y="635.94" width="5.06" height="14.52" fill="rgb(46,46,245)"/>
<rect x="303.01" y="635.94" width="5.06" height="14.52" fill="rgb(115,115,245)"/>
<rect x="307.76" y="635.94" width="5.06" height="14.52" fill="rgb(46,46,245)"/>
<rect x="312.52" y="635.94" width="5.06" height="14.52" fill="rgb(75,75,245)"/>
<rect x="317.28" y="635.94" width="5.06" height="14.52" fill="rgb(46,46,245)"/>
<rect x="322.04" y="635.94" width="5.06" height="14.52" fill="rgb(46,46,245)"/>
<rect x="245.90" y="650.16" width="5.06" height="14.52" fill="rgb(8,8,232)"/>
<rect x="250.66" y="650.16" width="5.06" height="14.52" fill="rgb(8,8,232)"/>
<rect x="255.42" y="650.16" width="5.06" height="14.52" fill="rgb(75,75,245)"/>
<rect x="260.18" y="650.16" width="5.06" height="14.52" fill="rgb(8,8,232)"/>
<rect x="264.94" y="650.16" width="5.06" height="14.52" fill="rgb(115,115,245)"/>
<rect x="269.69" y="650.16" width="5.06" height="14.52" fill="rgb(8,8,232)"/>
<rect x="274.45" y="650.16" width="5.06" height="14.52" fill="rgb(8,8,232)"/>
<rect x="279.21" y="650.16" width="5.06" height="14.52" fill="rgb(8,8,232)"/>
<rect x="283.97" y="650.16" width="5.06" height="14.52" fill="rgb(46,46,245)"/>
<rect x="288.73" y="650.16" width="5.06" height="14.52" fill="rgb(8,8,232)"/>
<rect x="293.49" y="650.16" width="5.06" height="14.52" fill="rgb(8,8,232)"/>
<rect x="298.25" y="650.16" width="5.06" height="14.52" fill="rgb(75,75,245)"/>
<rect x="303.01" y="650.16" width="5.06" height="14.52" fill="rgb(8,8,232)"/>
<rect x="307.76" y="650.16" width="5.06" height="14.52" fill="rgb(8,8,232)"/>
<rect x="312.52" y="650.16" width="5.06" height="14.52" fill="rgb(115,115,245)"/>
<rect x="317.28" y="650.16" width="5.06" height="14.52" fill="rgb(46,46,245)"/>
<rect x="322.04" y="650.16" width="5.06" height="14.52" fill="rgb(8,8,232)"/>
<rect x="245.90" y="664.38" width="5.06" height="14.52" fill="rgb(46,46,245)"/>
<rect x="250.66" y="664.38" width="5.06" height="14.52" fill="rgb(46,46,245)"/>
<rect x="255.42" y="664.38" width="5.06" height="14.52" fill="rgb(115,115,245)"/>
<rect x="260.18" y="664.38" width="5.06" height="14.52" fill="rgb(46,46,245)"/>
<rect x="264.94" y="664.38" width="5.06" height="14.52" fill="rgb(46,46,245)"/>
<rect x="269.69" y="664.38" width="5.06" height="14.52" fill="rgb(155,155,247)"/>
<rect x="274.45" y="664.38" width="5.06" height="14.52" fill="rgb(46,46,245)"/>
<rect x="279.21" y="664.38" width="5.06" height="14.52" fill="rgb(46,46,245)"/>
<rect x="283.97" y="664.38" width="5.06" height="14.52" fill="rgb(46,46,245)"/>
<rect x="288.73" y="664.38" width="5.06" height="14.52" fill="rgb(46,46,245)"/>
<rect x="293.49" y="664.38" width="5.06" height="14.52" fill="rgb(46,46,245)"/>
<rect x="298.25" y="664.38" width="5.06" height="14.52" fill="rgb(46,46,245)"/>
<rect x="303.01" y="664.38" width="5.06" height="14.52" fill="rgb(46,46,245)"/>
<rect x="307.76" y="664.38" width="5.06" height="14.52" fill="rgb(46,46,245)"/>
<rect x="312.52" y="664.38" width="5.06" height="14.52" fill="rgb(46,46,245)"/>
<rect x="317.28" y="664.38" width="5.06" height="14.52" fill="rgb(46,46,245)"/>
<rect x="322.04" y="664.38" width="5.06" height="14.52" fill="rgb(46,46,245)"/>
<rect x="245.90" y="682.70" width="5.06" height="14.66" fill="rgb(115,115,245)"/>
<rect x="250.66" y="682.70" width="5.06" height="14.66" fill="rgb(8,8,232)"/>
<rect x="255.42" y="682.70" width="5.06" height="14.66" fill="rgb(115,115,245)"/>
<rect x="260.18" y="682.70" width="5.06" height="14.66" fill="rgb(115,115,245)"/>
<rect x="264.94" y="682.70" width="5.06" height="14.66" fill="rgb(115,115,245)"/>
<rect x="269.69" y="682.70" width="5.06" height="14.66" fill="rgb(75,75,245)"/>
<rect x="274.45" y="682.70" width="5.06" height="14.66" fill="rgb(8,8,232)"/>
<rect x="279.21" y="682.70" width="5.06" height="14.66" fill="rgb(8,8,232)"/>
<rect x="283.97" y="682.70" width="5.06" height="14.66" fill="rgb(8,8,232)"/>
<rect x="288.73" y="682.70" width="5.06" height="14.66" fill="rgb(8,8,232)"/>
<rect x="293.49" y="682.70" width="5.06" height="14.66" fill="rgb(115,115,245)"/>
<rect x="298.25" y="682.70" width="5.06" height="14.66" fill="rgb(75,75,245)"/>
<rect x="303.01" y="682.70" width="5.06" height="14.66" fill="rgb(8,8,232)"/>
<rect x="307.76" y="682.70" width="5.06" height="14.66" fill="rgb(8,8,232)"/>
<rect x="312.52" y="682.70" width="5.06" height="14.66" fill="rgb(8,8,232)"/>
<rect x="317.28" y="682.70" width="5.06" height="14.66" fill="rgb(155,155,247)"/>
<rect x="322.04" y="682.70" width="5.06" height="14.66" fill="rgb(46,46,245)"/>
<rect x="245.90" y="697.06" width="5.06" height="14.66" fill="rgb(8,8,232)"/>
<rect x="250.66" y="697.06" width="5.06" height="14.66" fill="rgb(8,8,232)"/>
<rect x="255.42" y="697.06" width="5.06" height="14.66" fill="rgb(8,8,232)"/>
<rect x="260.18" y="697.06" width="5.06" height="14.66" fill="rgb(155,155,247)"/>
<rect x="264.94" y="697.06" width="5.06" height="14.66" fill="rgb(115,115,245)"/>
<rect x="269.69" y="697.06" width="5.06" height="14.66" fill="rgb(8,8,232)"/>
<rect x="274.45" y="697.06" width="5.06" height="14.66" fill="rgb(8,8,232)"/>
<rect x="279.21" y="697.06" width="5.06" height="14.66" fill="rgb(8,8,232)"/>
<rect x="283.97" y="697.06" width="5.06" height="14.66" fill="rgb(8,8,232)"/>
<rect x="288.73" y="697.06" width="5.06" height="14.66" fill="rgb(190,190,250)"/>
<rect x="293.49" y="697.06" width="5.06" height="14.66" fill="rgb(8,8,232)"/>
<rect x="298.25" y="697.06" width="5.06" height="14.66" fill="rgb(8,8,232)"/>
<rect x="303.01" y="697.06" width="5.06" height="14.66" fill="rgb(8,8,232)"/>
<rect x="307.76" y="697.06" width="5.06" height="14.66" fill="rgb(115,115,245)"/>
<rect x="312.52" y="697.06" width="5.06" height="14.66" fill="rgb(115,115,245)"/>
<rect x="317.28" y="697.06" width="5.06" height="14.66" fill="rgb(115,115,245)"/>
<rect x="322.04" y="697.06" width="5.06" height="14.66" fill="rgb(8,8,232)"/>
<rect x="245.90" y="711.42" width="5.06" height="14.66" fill="rgb(46,46,245)"/>
<rect x="250.66" y="711.42" width="5.06" height="14.66" fill="rgb(75,75,245)"/>
<rect x="255.42" y="711.42" width="5.06" height="14.66" fill="rgb(46,46,245)"/>
<rect x="260.18" y="711.42" width="5.06" height="14.66" fill="rgb(75,75,245)"/>
<rect x="264.94" y="711.42" width="5.06" height="14.66" fill="rgb(46,46,245)"/>
<rect x="269.69" y="711.42" width="5.06" height="14.66" fill="rgb(46,46,245)"/>
<rect x="274.45" y="711.42" width="5.06" height="14.66" fill="rgb(46,46,245)"/>
<rect x="279.21" y="711.42" width="5.06" height="14.66" fill="rgb(46,46,245)"/>
<rect x="283.97" y="711.42" width="5.06" height="14.66" fill="rgb(46,46,245)"/>
<rect x="288.73" y="711.42" width="5.06" height="14.66" fill="rgb(46,46,245)"/>
<rect x="293.49" y="711.42" width="5.06" height="14.66" fill="rgb(46,46,245)"/>
<rect x="298.25" y="711.42" width="5.06" height="14.66" fill="rgb(46,46,245)"/>
<rect x="303.01" y="711.42" width="5.06" height="14.66" fill="rgb(46,46,245)"/>
<rect x="307.76" y="711.42" width="5.06" height="14.66" fill="rgb(46,46,245)"/>
<rect x="312.52" y="711.42" width="5.06" height="14.66" fill="rgb(46,46,245)"/>
<rect x="317.28" y="711.42" width="5.06" height="14.66" fill="rgb(46,46,245)"/>
<rect x="322.04" y="711.42" width="5.06" height="14.66" fill="rgb(250,218,215)"/>
<rect x="245.90" y="725.78" width="5.06" height="14.66" fill="rgb(46,46,245)"/>
<rect x="250.66" y="725.78" width="5.06" height="14.66" fill="rgb(75,75,245)"/>
<rect x="255.42" y="725.78" width="5.06" height="14.66" fill="rgb(46,46,245)"/>
<rect x="260.18" y="725.78" width="5.06" height="14.66" fill="rgb(46,46,245)"/>
<rect x="264.94" y="725.78" width="5.06" height="14.66" fill="rgb(46,46,245)"/>
<rect x="269.69" y="725.78" width="5.06" height="14.66" fill="rgb(46,46,245)"/>
<rect x="274.45" y="725.78" width="5.06" height="14.66" fill="rgb(46,46,245)"/>
<rect x="279.21" y="725.78" width="5.06" height="14.66" fill="rgb(46,46,245)"/>
<rect x="283.97" y="725.78" width="5.06" height="14.66" fill="rgb(46,46,245)"/>
<rect x="288.73" y="725.78" width="5.06" height="14.66" fill="rgb(75,75,245)"/>
<rect x="293.49" y="725.78" width="5.06" height="14.66" fill="rgb(46,46,245)"/>
<rect x="298.25" y="725.78" width="5.06" height="14.66" fill="rgb(46,46,245)"/>
<rect x="303.01" y="725.78" width="5.06" height="14.66" fill="rgb(46,46,245)"/>
<rect x="307.76" y="725.78" width="5.06" height="14.66" fill="rgb(46,46,245)"/>
<rect x="312.52" y="725.78" width="5.06" height="14.66" fill="rgb(46,46,245)"/>
<rect x="317.28" y="725.78" width="5.06" height="14.66" fill="rgb(46,46,245)"/>
<rect x="322.04" y="725.78" width="5.06" height="14.66" fill="rgb(46,46,245)"/>
<rect x="245.90" y="740.14" width="5.06" height="14.66" fill="rgb(46,46,245)"/>
<rect x="250.66" y="740.14" width="5.06" height="14.66" fill="rgb(46,46,245)"/>
<rect x="255.42" y="740.14" width="5.06" height="14.66" fill="rgb(46,46,245)"/>
<rect x="260.18" y="740.14" width="5.06" height="14.66" fill="rgb(46,46,245)"/>
<rect x="264.94" y="740.14" width="5.06" height="14.66" fill="rgb(46,46,245)"/>
<rect x="269.69" y="740.14" width="5.06" height="14.66" fill="rgb(46,46,245)"/>
<rect x="274.45" y="740.14" width="5.06" height="14.66" fill="rgb(46,46,245)"/>
<rect x="279.21" y="740.14" width="5.06" height="14.66" fill="rgb(46,46,245)"/>
<rect x="283.97" y="740.14" width="5.06" height="14.66" fill="rgb(46,46,245)"/>
<rect x="288.73" y="740.14" width="5.06" height="14.66" fill="rgb(46,46,245)"/>
<rect x="293.49" y="740.14" width="5.06" height="14.66" fill="rgb(46,46,245)"/>
<rect x="298.25" y="740.14" width="5.06" height="14.66" fill="rgb(236,22,22)"/>
<rect x="303.01" y="740.14" width="5.06" height="14.66" fill="rgb(46,46,245)"/>
<rect x="307.76" y="740.14" width="5.06" height="14.66" fill="rgb(46,46,245)"/>
<rect x="312.52" y="740.14" width="5.06" height="14.66" fill="rgb(46,46,245)"/>
<rect x="317.28" y="740.14" width="5.06" height="14.66" fill="rgb(46,46,245)"/>
<rect x="322.04" y="740.14" width="5.06" height="14.66" fill="rgb(46,46,245)"/>
<rect x="331.00" y="598.00" width="80.80" height="6.50" fill="#00B0F6" stroke="none" stroke-width="1"/>
<rect x="331.00" y="607.50" width="5.05" height="14.52" fill="rgb(46,46,245)"/>
<rect x="335.75" y="607.50" width="5.05" height="14.52" fill="rgb(46,46,245)"/>
<rect x="340.51" y="607.50" width="5.05" height="14.52" fill="rgb(46,46,245)"/>
<rect x="345.26" y="607.50" width="5.05" height="14.52" fill="rgb(46,46,245)"/>
<rect x="350.01" y="607.50" width="5.05" height="14.52" fill="rgb(46,46,245)"/>
<rect x="354.76" y="607.50" width="5.05" height="14.52" fill="rgb(46,46,245)"/>
<rect x="359.52" y="607.50" width="5.05" height="14.52" fill="rgb(46,46,245)"/>
<rect x="364.27" y="607.50" width="5.05" height="14.52" fill="rgb(46,46,245)"/>
<rect x="369.02" y="607.50" width="5.05" height="14.52" fill="rgb(46,46,245)"/>
<rect x="373.78" y="607.50" width="5.05" height="14.52" fill="rgb(46,46,245)"/>
<rect x="378.53" y="607.50" width="5.05" height="14.52" fill="rgb(46,46,245)"/>
<rect x="383.28" y="607.50" width="5.05" height="14.52" fill="rgb(46,46,245)"/>
<rect x="388.04" y="607.50" width="5.05" height="14.52" fill="rgb(46,46,245)"/>
<rect x="392.79" y="607.50" width="5.05" height="14.52" fill="rgb(46,46,245)"/>
<rect x="397.54" y="607.50" width="5.05" height="14.52" fill="rgb(46,46,245)"/>
<rect x="402.29" y="607.50" width="5.05" height="14.52" fill="rgb(46,46,245)"/>
<rect x="407.05" y="607.50" width="5.05" height="14.52" fill="rgb(46,46,245)"/>
<rect x="331.00" y="621.72" width="5.05" height="14.52" fill="rgb(46,46,245)"/>
<rect x="335.75" y="621.72" width="5.05" height="14.52" fill="rgb(46,46,245)"/>
<rect x="340.51" y="621.72" width="5.05" height="14.52" fill="rgb(46,46,245)"/>
<rect x="345.26" y="621.72" width="5.05" height="14.52" fill="rgb(46,46,245)"/>
<rect x="350.01" y="621.72" width="5.05" height="14.52" fill="rgb(46,46,245)"/>
<rect x="354.76" y="621.72" width="5.05" height="14.52" fill="rgb(46,46,245)"/>
<rect x="359.52" y="621.72" width="5.05" height="14.52" fill="rgb(46,46,245)"/>
<rect x="364.27" y="621.72" width="5.05" height="14.52" fill="rgb(46,46,245)"/>
<rect x="369.02" y="621.72" width="5.05" height="14.52" fill="rgb(46,46,245)"/>
<rect x="373.78" y="621.72" width="5.05" height="14.52" fill="rgb(46,46,245)"/>
<rect x="378.53" y="621.72" width="5.05" height="14.52" fill="rgb(46,46,245)"/>
<rect x="383.28" y="621.72" width="5.05" height="14.52" fill="rgb(46,46,245)"/>
<rect x="388.04" y="621.72" width="5.05" height="14.52" fill="rgb(46,46,245)"/>
<rect x="392.79" y="621.72" width="5.05" height="14.52" fill="rgb(46,46,245)"/>
<rect x="397.54" y="621.72" width="5.05" height="14.52" fill="rgb(46,46,245)"/>
<rect x="402.29" y="621.72" width="5.05" height="14.52" fill="rgb(46,46,245)"/>
<rect x="407.05" y="621.72" width="5.05" height="14.52" fill="rgb(46,46,245)"/>
<rect x="331.00" y="635.94" width="5.05" height="14.52" fill="rgb(46,46,245)"/>
<rect x="335.75" y="635.94" width="5.05" height="14.52" fill="rgb(46,46,245)"/>
<rect x="340.51" y="635.94" width="5.05" height="14.52" fill="rgb(46,46,245)"/>
<rect x="345.26" y="635.94" width="5.05" height="14.52" fill="rgb(46,46,245)"/>
<rect x="350.01" y="635.94" width="5.05" height="14.52" fill="rgb(46,46,245)"/>
<rect x="354.76" y="635.94" width="5.05" height="14.52" fill="rgb(46,46,245)"/>
<rect x="359.52" y="635.94" width="5.05" height="14.52" fill="rgb(46,46,245)"/>
<rect x="364.27" y="635.94" width="5.05" height="14.52" fill="rgb(46,46,245)"/>
<rect x="369.02" y="635.94" width="5.05" height="14.52" fill="rgb(46,46,245)"/>
<rect x="373.78" y="635.94" width="5.05" height="14.52" fill="rgb(46,46,245)"/>
<rect x="378.53" y="635.94" width="5.05" height="14.52" fill="rgb(46,46,245)"/>
<rect x="383.28" y="635.94" width="5.05" height="14.52" fill="rgb(46,46,245)"/>
<rect x="388.04" y="635.94" width="5.05" height="14.52" fill="rgb(46,46,245)"/>
<rect x="392.79" y="635.94" width="5.05" height="14.52" fill="rgb(46,46,245)"/>
<rect x="397.54" y="635.94" width="5.05" height="14.52" fill="rgb(46,46,245)"/>
<rect x="402.29" y="635.94" width="5.05" height="14.52" fill="rgb(46,46,245)"/>
<rect x="407.05" y="635.94" width="5.05" height="14.52" fill="rgb(46,46,245)"/>
<rect x="331.00" y="650.16" width="5.05" height="14.52" fill="rgb(46,46,245)"/>
<rect x="335.75" y="650.16" width="5.05" height="14.52" fill="rgb(46,46,245)"/>
<rect x="340.51" y="650.16" width="5.05" height="14.52" fill="rgb(46,46,245)"/>
<rect x="345.26" y="650.16" width="5.05" height="14.52" fill="rgb(8,8,232)"/>
<rect x="350.01" y="650.16" width="5.05" height="14.52" fill="rgb(8,8,232)"/>
<rect x="354.76" y="650.16" width="5.05" height="14.52" fill="rgb(155,155,247)"/>
<rect x="359.52" y="650.16" width="5.05" height="14.52" fill="rgb(46,46,245)"/>
<rect x="364.27" y="650.16" width="5.05" height="14.52" fill="rgb(115,115,245)"/>
<rect x="369.02" y="650.16" width="5.05" height="14.52" fill="rgb(8,8,232)"/>
<rect x="373.78" y="650.16" width="5.05" height="14.52" fill="rgb(155,155,247)"/>
<rect x="378.53" y="650.16" width="5.05" height="14.52" fill="rgb(155,155,247)"/>
<rect x="383.28" y="650.16" width="5.05" height="14.52" fill="rgb(46,46,245)"/>
<rect x="388.04" y="650.16" width="5.05" height="14.52" fill="rgb(46,46,245)"/>
<rect x="392.79" y="650.16" width="5.05" height="14.52" fill="rgb(75,75,245)"/>
<rect x="397.54" y="650.16" width="5.05" height="14.52" fill="rgb(8,8,232)"/>
<rect x="402.29" y="650.16" width="5.05" height="14.52" fill="rgb(75,75,245)"/>
<rect x="407.05" y="650.16" width="5.05" height="14.52" fill="rgb(46,46,245)"/>
<rect x="331.00" y="664.38" width="5.05" height="14.52" fill="rgb(46,46,245)"/>
<rect x="335.75" y="664.38" width="5.05" height="14.52" fill="rgb(46,46,245)"/>
<rect x="340.51" y="664.38" width="5.05" height="14.52" fill="rgb(222,222,252)"/>
<rect x="345.26" y="664.38" width="5.05" height="14.52" fill="rgb(46,46,245)"/>
<rect x="350.01" y="664.38" width="5.05" height="14.52" fill="rgb(75,75,245)"/>
<rect x="354.76" y="664.38" width="5.05" height="14.52" fill="rgb(46,46,245)"/>
<rect x="359.52" y="664.38" width="5.05" height="14.52" fill="rgb(46,46,245)"/>
<rect x="364.27" y="664.38" width="5.05" height="14.52" fill="rgb(46,46,245)"/>
<rect x="369.02" y="664.38" width="5.05" height="14.52" fill="rgb(46,46,245)"/>
<rect x="373.78" y="664.38" width="5.05" height="14.52" fill="rgb(46,46,245)"/>
<rect x="378.53" y="664.38" width="5.05" height="14.52" fill="rgb(46,46,245)"/>
<rect x="383.28" y="664.38" width="5.05" height="14.52" fill="rgb(46,46,245)"/>
<rect x="388.04" y="664.38" width="5.05" height="14.52" fill="rgb(46,46,245)"/>
<rect x="392.79" y="664.38" width="5.05" height="14.52" fill="rgb(46,46,245)"/>
<rect x="397.54" y="664.38" width="5.05" height="14.52" fill="rgb(46,46,245)"/>
<rect x="402.29" y="664.38" width="5.05" height="14.52" fill="rgb(46,46,245)"/>
<rect x="407.05" y="664.38" width="5.05" height="14.52" fill="rgb(46,46,245)"/>
<rect x="331.00" y="682.70" width="5.05" height="14.66" fill="rgb(46,46,245)"/>
<rect x="335.75" y="682.70" width="5.05" height="14.66" fill="rgb(8,8,232)"/>
<rect x="340.51" y="682.70" width="5.05" height="14.66" fill="rgb(8,8,232)"/>
<rect x="345.26" y="682.70" width="5.05" height="14.66" fill="rgb(8,8,232)"/>
<rect x="350.01" y="682.70" width="5.05" height="14.66" fill="rgb(8,8,232)"/>
<rect x="354.76" y="682.70" width="5.05" height="14.66" fill="rgb(115,115,245)"/>
<rect x="359.52" y="682.70" width="5.05" height="14.66" fill="rgb(8,8,232)"/>
<rect x="364.27" y="682.70" width="5.05" height="14.66" fill="rgb(8,8,232)"/>
<rect x="369.02" y="682.70" width="5.05" height="14.66" fill="rgb(8,8,232)"/>
<rect x="373.78" y="682.70" width="5.05" height="14.66" fill="rgb(115,115,245)"/>
<rect x="378.53" y="682.70" width="5.05" height="14.66" fill="rgb(8,8,232)"/>
<rect x="383.28" y="682.70" width="5.05" height="14.66" fill="rgb(8,8,232)"/>
<rect x="388.04" y="682.70" width="5.05" height="14.66" fill="rgb(115,115,245)"/>
<rect x="392.79" y="682.70" width="5.05" height="14.66" fill="rgb(190,190,250)"/>
<rect x="397.54" y="682.70" width="5.05" height="14.66" fill="rgb(8,8,232)"/>
<rect x="402.29" y="682.70" width="5.05" height="14.66" fill="rgb(8,8,232)"/>
<rect x="407.05" y="682.70" width="5.05" height="14.66" fill="rgb(8,8,232)"/>
<rect x="331.00" y="697.06" width="5.05" height="14.66" fill="rgb(8,8,232)"/>
<rect x="335.75" y="697.06" width="5.05" height="14.66" fill="rgb(75,75,245)"/>
<rect x="340.51" y="697.06" width="5.05" height="14.66" fill="rgb(75,75,245)"/>
<rect x="345.26" y="697.06" width="5.05" height="14.66" fill="rgb(75,75,245)"/>
<rect x="350.01" y="697.06" width="5.05" height="14.66" fill="rgb(190,190,250)"/>
<rect x="354.76" y="697.06" width="5.05" height="14.66" fill="rgb(75,75,245)"/>
<rect x="359.52" y="697.06" width="5.05" height="14.66" fill="rgb(75,75,245)"/>
<rect x="364.27" y="697.06" width="5.05" height="14.66" fill="rgb(75,75,245)"/>
<rect x="369.02" y="697.06" width="5.05" height="14.66" fill="rgb(115,115,245)"/>
<rect x="373.78" y="697.06" width="5.05" height="14.66" fill="rgb(46,46,245)"/>
<rect x="378.53" y="697.06" width="5.05" height="14.66" fill="rgb(8,8,232)"/>
<rect x="383.28" y="697.06" width="5.05" height="14.66" fill="rgb(115,115,245)"/>
<rect x="388.04" y="697.06" width="5.05" height="14.66" fill="rgb(8,8,232)"/>
<rect x="392.79" y="697.06" width="5.05" height="14.66" fill="rgb(8,8,232)"/>
<rect x="397.54" y="697.06" width="5.05" height="14.66" fill="rgb(8,8,232)"/>
<rect x="402.29" y="697.06" width="5.05" height="14.66" fill="rgb(155,155,247)"/>
<rect x="407.05" y="697.06" width="5.05" height="14.66" fill="rgb(155,155,247)"/>
<rect x="331.00" y="711.42" width="5.05" height="14.66" fill="rgb(46,46,245)"/>
<rect x="335.75" y="711.42" width="5.05" height="14.66" fill="rgb(155,155,247)"/>
<rect x="340.51" y="711.42" width="5.05" height="14.66" fill="rgb(46,46,245)"/>
<rect x="345.26" y="711.42" width="5.05" height="14.66" fill="rgb(46,46,245)"/>
<rect x="350.01" y="711.42" width="5.05" height="14.66" fill="rgb(46,46,245)"/>
<rect x="354.76" y="711.42" width="5.05" height="14.66" fill="rgb(46,46,245)"/>
<rect x="359.52" y="711.42" width="5.05" height="14.66" fill="rgb(75,75,245)"/>
<rect x="364.27" y="711.42" width="5.05" height="14.66" fill="rgb(46,46,245)"/>
<rect x="369.02" y="711.42" width="5.05" height="14.66" fill="rgb(242,118,105)"/>
<rect x="373.78" y="711.42" width="5.05" height="14.66" fill="rgb(46,46,245)"/>
<rect x="378.53" y="711.42" width="5.05" height="14.66" fill="rgb(46,46,245)"/>
<rect x="383.28" y="711.42" width="5.05" height="14.66" fill="rgb(46,46,245)"/>
<rect x="388.04" y="711.42" width="5.05" height="14.66" fill="rgb(46,46,245)"/>
<rect x="392.79" y="711.42" width="5.05" height="14.66" fill="rgb(46,46,245)"/>
<rect x="397.54" y="711.42" width="5.05" height="14.66" fill="rgb(46,46,245)"/>
<rect x="402.29" y="711.42" width="5.05" height="14.66" fill="rgb(46,46,245)"/>
<rect x="407.05" y="711.42" width="5.05" height="14.66" fill="rgb(46,46,245)"/>
<rect x="331.00" y="725.78" width="5.05" height="14.66" fill="rgb(46,46,245)"/>
<rect x="335.75" y="725.78" width="5.05" height="14.66" fill="rgb(75,75,245)"/>
<rect x="340.51" y="725.78" width="5.05" height="14.66" fill="rgb(46,46,245)"/>
<rect x="345.26" y="725.78" width="5.05" height="14.66" fill="rgb(46,46,245)"/>
<rect x="350.01" y="725.78" width="5.05" height="14.66" fill="rgb(46,46,245)"/>
<rect x="354.76" y="725.78" width="5.05" height="14.66" fill="rgb(75,75,245)"/>
<rect x="359.52" y="725.78" width="5.05" height="14.66" fill="rgb(46,46,245)"/>
<rect x="364.27" y="725.78" width="5.05" height="14.66" fill="rgb(46,46,245)"/>
<rect x="369.02" y="725.78" width="5.05" height="14.66" fill="rgb(46,46,245)"/>
<rect x="373.78" y="725.78" width="5.05" height="14.66" fill="rgb(46,46,245)"/>
<rect x="378.53" y="725.78" width="5.05" height="14.66" fill="rgb(248,244,250)"/>
<rect x="383.28" y="725.78" width="5.05" height="14.66" fill="rgb(115,115,245)"/>
<rect x="388.04" y="725.78" width="5.05" height="14.66" fill="rgb(115,115,245)"/>
<rect x="392.79" y="725.78" width="5.05" height="14.66" fill="rgb(155,155,247)"/>
<rect x="397.54" y="725.78" width="5.05" height="14.66" fill="rgb(46,46,245)"/>
<rect x="402.29" y="725.78" width="5.05" height="14.66" fill="rgb(46,46,245)"/>
<rect x="407.05" y="725.78" width="5.05" height="14.66" fill="rgb(46,46,245)"/>
<rect x="331.00" y="740.14" width="5.05" height="14.66" fill="rgb(46,46,245)"/>
<rect x="335.75" y="740.14" width="5.05" height="14.66" fill="rgb(46,46,245)"/>
<rect x="340.51" y="740.14" width="5.05" height="14.66" fill="rgb(46,46,245)"/>
<rect x="345.26" y="740.14" width="5.05" height="14.66" fill="rgb(46,46,245)"/>
<rect x="350.01" y="740.14" width="5.05" height="14.66" fill="rgb(46,46,245)"/>
<rect x="354.76" y="740.14" width="5.05" height="14.66" fill="rgb(46,46,245)"/>
<rect x="359.52" y="740.14" width="5.05" height="14.66" fill="rgb(75,75,245)"/>
<rect x="364.27" y="740.14" width="5.05" height="14.66" fill="rgb(46,46,245)"/>
<rect x="369.02" y="740.14" width="5.05" height="14.66" fill="rgb(46,46,245)"/>
<rect x="373.78" y="740.14" width="5.05" height="14.66" fill="rgb(46,46,245)"/>
<rect x="378.53" y="740.14" width="5.05" height="14.66" fill="rgb(46,46,245)"/>
<rect x="383.28" y="740.14" width="5.05" height="14.66" fill="rgb(46,46,245)"/>
<rect x="388.04" y="740.14" width="5.05" height="14.66" fill="rgb(46,46,245)"/>
<rect x="392.79" y="740.14" width="5.05" height="14.66" fill="rgb(46,46,245)"/>
<rect x="397.54" y="740.14" width="5.05" height="14.66" fill="rgb(46,46,245)"/>
<rect x="402.29" y="740.14" width="5.05" height="14.66" fill="rgb(46,46,245)"/>
<rect x="407.05" y="740.14" width="5.05" height="14.66" fill="rgb(46,46,245)"/>
</g>
<text x="415.30" y="604.00" font-size="6.6" fill="#111" text-anchor="start" font-weight="bold" font-family='"Liberation Sans", sans-serif'>Time</text>
<text x="415.30" y="618.41" font-size="8.7" fill="#222" text-anchor="start" font-weight="normal" font-family='"Liberation Sans", sans-serif'>g__Eikenella</text>
<text x="415.30" y="632.63" font-size="8.7" fill="#222" text-anchor="start" font-weight="normal" font-family='"Liberation Sans", sans-serif'>g__Enterococcus</text>
<text x="415.30" y="646.85" font-size="8.7" fill="#222" text-anchor="start" font-weight="normal" font-family='"Liberation Sans", sans-serif'>g__Veillonella</text>
<text x="415.30" y="661.07" font-size="8.7" fill="#222" text-anchor="start" font-weight="normal" font-family='"Liberation Sans", sans-serif'>g__Bacteroides</text>
<text x="415.30" y="675.29" font-size="8.7" fill="#222" text-anchor="start" font-weight="normal" font-family='"Liberation Sans", sans-serif'>g__Acidaminococcus</text>
<text x="415.30" y="693.78" font-size="8.7" fill="#222" text-anchor="start" font-weight="normal" font-family='"Liberation Sans", sans-serif'>g__Odoribacter</text>
<text x="415.30" y="708.14" font-size="8.7" fill="#222" text-anchor="start" font-weight="normal" font-family='"Liberation Sans", sans-serif'>g__Prevotella_9</text>
<text x="415.30" y="722.50" font-size="8.7" fill="#222" text-anchor="start" font-weight="normal" font-family='"Liberation Sans", sans-serif'>g__Alloprevotella</text>
<text x="415.30" y="736.86" font-size="8.7" fill="#222" text-anchor="start" font-weight="normal" font-family='"Liberation Sans", sans-serif'>g__un_f_Prevotellaceae</text>
<text x="415.30" y="751.22" font-size="8.7" fill="#222" text-anchor="start" font-weight="normal" font-family='"Liberation Sans", sans-serif'>g__Holdemanella</text>
<defs><linearGradient id="cb" x1="0" y1="0" x2="0" y2="1"><stop offset="0" stop-color="#ff0000"/><stop offset="0.5" stop-color="#ffffff"/><stop offset="1" stop-color="#0000ff"/></linearGradient></defs>
<rect x="515.00" y="597.00" width="9.20" height="142.70" fill="url(#cb)" stroke="none" stroke-width="1"/>
<text x="529.80" y="607.50" font-size="7.2" fill="#333" text-anchor="start" font-weight="normal" font-family='"Liberation Sans", sans-serif'>8</text>
<text x="529.80" y="637.80" font-size="7.2" fill="#333" text-anchor="start" font-weight="normal" font-family='"Liberation Sans", sans-serif'>6</text>
<text x="529.80" y="668.00" font-size="7.2" fill="#333" text-anchor="start" font-weight="normal" font-family='"Liberation Sans", sans-serif'>4</text>
<text x="529.80" y="697.80" font-size="7.2" fill="#333" text-anchor="start" font-weight="normal" font-family='"Liberation Sans", sans-serif'>2</text>
<text x="529.80" y="727.90" font-size="7.2" fill="#333" text-anchor="start" font-weight="normal" font-family='"Liberation Sans", sans-serif'>0</text>
<text x="534.70" y="602.00" font-size="6.6" fill="#111" text-anchor="start" font-weight="bold" font-family='"Liberation Sans", sans-serif'>Time</text>
<rect x="534.10" y="604.90" width="9.90" height="10.20" fill="#F8766D" stroke="none" stroke-width="1"/>
<text x="546.60" y="612.50" font-size="7.2" fill="#333" text-anchor="start" font-weight="normal" font-family='"Liberation Sans", sans-serif'>W0</text>
<rect x="534.10" y="615.10" width="9.90" height="10.20" fill="#A3A500" stroke="none" stroke-width="1"/>
<text x="546.60" y="622.70" font-size="7.2" fill="#333" text-anchor="start" font-weight="normal" font-family='"Liberation Sans", sans-serif'>W1</text>
<rect x="534.10" y="625.30" width="9.90" height="10.20" fill="#00BF7D" stroke="none" stroke-width="1"/>
<text x="546.60" y="632.90" font-size="7.2" fill="#333" text-anchor="start" font-weight="normal" font-family='"Liberation Sans", sans-serif'>W4</text>
<rect x="534.10" y="635.50" width="9.90" height="10.20" fill="#00B0F6" stroke="none" stroke-width="1"/>
<text x="546.60" y="643.10" font-size="7.2" fill="#333" text-anchor="start" font-weight="normal" font-family='"Liberation Sans", sans-serif'>W12</text>
</svg>
</body></html>
